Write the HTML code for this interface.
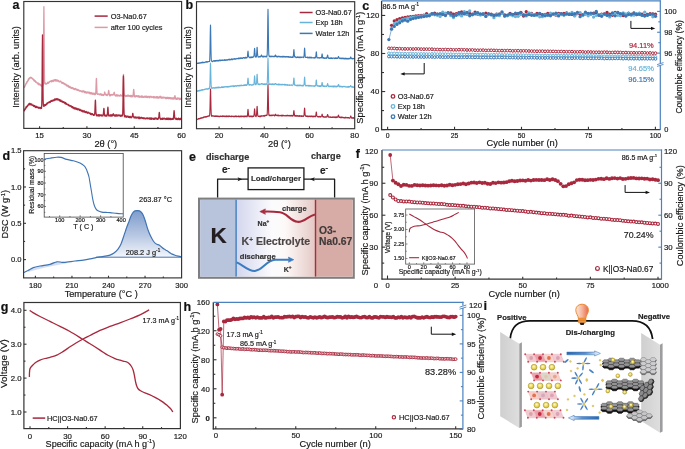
<!DOCTYPE html><html><head><meta charset="utf-8"><style>html,body{margin:0;padding:0;background:#fff;}svg{display:block;filter:blur(0.3px);}</style></head><body><svg width="685" height="449" viewBox="0 0 685 449" font-family='"Liberation Sans", sans-serif'>
<rect width="685" height="449" fill="#fff"/>
<path d="M24.10,87.50 L24.30,86.89 L24.50,87.28 L24.70,86.04 L24.90,86.35 L25.10,85.71 L25.30,84.85 L25.50,85.13 L25.70,84.02 L25.90,84.21 L26.10,83.26 L26.30,82.89 L26.50,82.99 L26.70,83.19 L26.90,81.75 L27.10,81.51 L27.30,81.74 L27.50,81.85 L27.70,80.94 L27.90,80.32 L28.10,80.86 L28.30,79.15 L28.50,80.07 L28.70,78.93 L28.90,78.45 L29.10,78.17 L29.30,78.24 L29.50,78.80 L29.70,77.68 L29.90,78.14 L30.10,78.11 L30.30,77.62 L30.50,77.83 L30.70,77.08 L30.90,77.08 L31.10,77.33 L31.30,78.10 L31.50,77.79 L31.70,77.72 L31.90,78.25 L32.10,78.18 L32.30,78.11 L32.50,79.01 L32.70,79.05 L32.90,78.55 L33.10,79.25 L33.30,79.38 L33.50,80.12 L33.70,80.11 L33.90,79.67 L34.10,80.93 L34.30,79.85 L34.50,80.52 L34.70,81.24 L34.90,80.53 L35.10,81.24 L35.30,80.75 L35.50,81.87 L35.70,82.18 L35.90,82.04 L36.10,82.63 L36.30,81.93 L36.50,82.64 L36.70,82.63 L36.90,82.76 L37.10,82.72 L37.30,83.45 L37.50,83.76 L37.70,83.21 L37.90,83.65 L38.10,82.90 L38.30,84.01 L38.50,84.08 L38.70,84.75 L38.90,84.64 L39.10,83.98 L39.30,84.27 L39.50,84.83 L39.70,83.99 L39.90,84.78 L40.10,84.46 L40.30,84.50 L40.50,84.52 L40.70,85.69 L40.90,84.83 L41.10,85.09 L41.30,85.38 L41.50,86.17 L41.70,85.05 L41.90,85.64 L42.10,85.81 L42.30,86.29 L42.50,86.15 L42.70,86.15 L42.90,85.15 L43.10,84.72 L43.30,80.22 L43.50,62.99 L43.70,27.60 L43.90,6.70 L44.10,27.32 L44.30,62.54 L44.50,79.09 L44.70,83.31 L44.90,83.81 L45.10,83.75 L45.30,84.04 L45.50,84.11 L45.70,83.52 L45.90,83.04 L46.10,83.57 L46.30,83.40 L46.50,83.61 L46.70,84.09 L46.90,83.60 L47.10,83.25 L47.30,83.31 L47.50,83.31 L47.70,82.28 L47.90,83.46 L48.10,83.19 L48.30,83.24 L48.50,83.04 L48.70,82.35 L48.90,82.28 L49.10,81.75 L49.30,82.47 L49.50,81.53 L49.70,81.46 L49.90,81.60 L50.10,81.46 L50.30,81.65 L50.50,81.14 L50.70,80.98 L50.90,81.13 L51.10,80.97 L51.30,81.28 L51.50,80.69 L51.70,81.88 L51.90,81.41 L52.10,80.63 L52.30,80.71 L52.50,80.77 L52.70,80.72 L52.90,80.28 L53.10,81.30 L53.30,81.45 L53.50,80.59 L53.70,80.56 L53.90,79.90 L54.10,79.88 L54.30,80.19 L54.50,80.04 L54.70,80.85 L54.90,79.82 L55.10,79.59 L55.30,80.97 L55.50,80.33 L55.70,79.76 L55.90,80.36 L56.10,79.61 L56.30,80.38 L56.50,81.09 L56.70,80.95 L56.90,80.74 L57.10,80.13 L57.30,80.34 L57.50,80.09 L57.70,81.05 L57.90,80.76 L58.10,81.19 L58.30,80.58 L58.50,80.50 L58.70,81.45 L58.90,81.79 L59.10,81.67 L59.30,81.69 L59.50,81.79 L59.70,81.76 L59.90,81.08 L60.10,81.61 L60.30,81.46 L60.50,81.06 L60.70,81.16 L60.90,81.63 L61.10,81.70 L61.30,82.45 L61.50,82.94 L61.70,82.28 L61.90,83.11 L62.10,83.29 L62.30,83.34 L62.50,82.55 L62.70,82.44 L62.90,82.54 L63.10,82.59 L63.30,82.70 L63.50,83.44 L63.70,83.95 L63.90,83.97 L64.10,83.54 L64.30,83.91 L64.50,84.25 L64.70,83.29 L64.90,84.27 L65.10,84.76 L65.30,84.69 L65.50,84.76 L65.70,84.48 L65.90,84.15 L66.10,85.19 L66.30,84.63 L66.50,85.46 L66.70,85.84 L66.90,85.10 L67.10,85.23 L67.30,86.18 L67.50,85.97 L67.70,85.26 L67.90,85.32 L68.10,85.48 L68.30,86.73 L68.50,86.70 L68.70,85.83 L68.90,86.97 L69.10,87.32 L69.30,86.95 L69.50,86.60 L69.70,87.01 L69.90,86.49 L70.10,86.42 L70.30,87.95 L70.50,87.57 L70.70,87.48 L70.90,88.19 L71.10,87.53 L71.30,88.27 L71.50,88.29 L71.70,87.45 L71.90,87.59 L72.10,87.73 L72.30,87.73 L72.50,88.33 L72.70,87.91 L72.90,88.23 L73.10,87.87 L73.30,89.12 L73.50,88.36 L73.70,88.59 L73.90,88.85 L74.10,89.40 L74.30,88.75 L74.50,89.56 L74.70,89.01 L74.90,89.12 L75.10,89.18 L75.30,88.49 L75.50,89.19 L75.70,88.87 L75.90,88.67 L76.10,89.92 L76.30,89.05 L76.50,89.56 L76.70,90.00 L76.90,89.82 L77.10,89.53 L77.30,89.88 L77.50,90.00 L77.70,90.40 L77.90,89.45 L78.10,90.19 L78.30,89.78 L78.50,89.88 L78.70,90.68 L78.90,90.35 L79.10,90.49 L79.30,90.84 L79.50,91.13 L79.70,90.48 L79.90,90.79 L80.10,90.69 L80.30,90.75 L80.50,91.08 L80.70,90.77 L80.90,90.95 L81.10,90.92 L81.30,91.67 L81.50,91.36 L81.70,91.68 L81.90,91.84 L82.10,90.87 L82.30,91.37 L82.50,92.00 L82.70,91.90 L82.90,90.90 L83.10,90.93 L83.30,91.46 L83.50,90.96 L83.70,91.27 L83.90,91.07 L84.10,92.02 L84.30,92.24 L84.50,92.46 L84.70,91.40 L84.90,92.30 L85.10,92.27 L85.30,91.54 L85.50,92.70 L85.70,92.88 L85.90,91.81 L86.10,92.96 L86.30,92.18 L86.50,92.36 L86.70,93.16 L86.90,92.97 L87.10,92.01 L87.30,92.46 L87.50,92.63 L87.70,92.41 L87.90,92.24 L88.10,92.47 L88.30,93.11 L88.50,92.10 L88.70,92.94 L88.90,92.82 L89.10,92.22 L89.30,92.73 L89.50,93.21 L89.70,93.08 L89.90,92.45 L90.10,93.87 L90.30,93.61 L90.50,93.93 L90.70,92.66 L90.90,92.94 L91.10,92.64 L91.30,93.79 L91.50,93.06 L91.70,92.88 L91.90,93.36 L92.10,94.13 L92.30,94.03 L92.50,93.22 L92.70,93.09 L92.90,94.28 L93.10,93.79 L93.30,94.02 L93.50,93.14 L93.70,93.13 L93.90,94.11 L94.10,93.75 L94.30,93.25 L94.50,94.59 L94.70,94.17 L94.90,94.45 L95.10,93.41 L95.30,94.59 L95.50,93.29 L95.70,93.69 L95.90,90.26 L96.10,84.44 L96.30,79.26 L96.40,78.40 L96.50,79.29 L96.70,84.77 L96.90,90.55 L97.10,93.99 L97.30,93.85 L97.50,93.81 L97.70,94.44 L97.90,94.03 L98.10,93.86 L98.30,93.96 L98.50,93.81 L98.70,94.06 L98.90,94.24 L99.10,94.24 L99.30,94.94 L99.50,94.25 L99.70,94.58 L99.90,94.11 L100.10,94.38 L100.30,93.90 L100.50,94.26 L100.70,93.91 L100.90,95.00 L101.10,94.74 L101.30,94.21 L101.50,94.65 L101.70,95.35 L101.90,94.12 L102.10,95.20 L102.30,94.63 L102.50,94.73 L102.70,95.25 L102.90,94.60 L103.10,94.78 L103.30,95.06 L103.50,95.51 L103.70,94.56 L103.90,95.23 L104.10,94.76 L104.30,93.88 L104.50,92.57 L104.70,92.00 L104.90,92.59 L105.10,93.58 L105.30,94.28 L105.50,94.14 L105.70,94.33 L105.90,94.26 L106.10,95.28 L106.30,94.56 L106.50,94.43 L106.70,94.32 L106.90,95.46 L107.10,95.51 L107.30,95.22 L107.50,94.65 L107.70,94.58 L107.90,94.56 L108.10,94.34 L108.30,92.63 L108.50,91.33 L108.70,90.40 L108.90,91.35 L109.10,93.09 L109.30,94.10 L109.50,95.63 L109.70,95.76 L109.90,95.15 L110.10,94.70 L110.30,95.79 L110.50,94.82 L110.70,94.89 L110.90,94.37 L111.10,94.95 L111.30,95.10 L111.50,95.15 L111.70,94.70 L111.90,95.16 L112.10,94.42 L112.30,94.82 L112.50,94.57 L112.70,95.04 L112.90,94.51 L113.10,94.49 L113.30,94.89 L113.50,94.64 L113.70,94.64 L113.90,93.47 L114.10,92.46 L114.20,92.30 L114.30,92.47 L114.50,93.49 L114.70,94.60 L114.90,95.47 L115.10,95.49 L115.30,95.61 L115.50,95.87 L115.70,95.14 L115.90,95.06 L116.10,96.05 L116.30,94.81 L116.50,95.68 L116.70,95.57 L116.90,94.68 L117.10,95.87 L117.30,95.97 L117.50,95.58 L117.70,95.75 L117.90,95.87 L118.10,94.87 L118.30,95.46 L118.50,95.44 L118.70,95.94 L118.90,95.91 L119.10,95.95 L119.30,95.59 L119.50,96.07 L119.70,95.76 L119.90,95.79 L120.10,95.10 L120.30,94.81 L120.50,94.97 L120.70,95.32 L120.90,94.95 L121.10,96.06 L121.30,95.65 L121.50,95.76 L121.70,95.77 L121.90,95.86 L122.10,95.58 L122.30,94.86 L122.50,96.03 L122.70,95.61 L122.90,93.40 L123.10,87.88 L123.30,79.09 L123.50,74.40 L123.70,79.11 L123.90,88.10 L124.10,92.81 L124.30,95.67 L124.50,95.31 L124.70,95.09 L124.90,95.39 L125.10,96.09 L125.30,95.32 L125.50,96.13 L125.70,96.49 L125.90,95.78 L126.10,95.62 L126.30,95.78 L126.50,96.09 L126.70,96.23 L126.90,96.01 L127.10,96.06 L127.30,95.22 L127.50,95.34 L127.70,95.51 L127.90,96.25 L128.10,95.60 L128.30,96.01 L128.50,95.19 L128.70,95.27 L128.90,95.59 L129.10,96.21 L129.30,96.25 L129.50,96.23 L129.70,95.66 L129.90,96.01 L130.10,95.95 L130.30,95.96 L130.50,95.45 L130.70,96.62 L130.90,95.59 L131.10,96.77 L131.30,96.71 L131.50,95.35 L131.70,96.02 L131.90,96.57 L132.10,96.80 L132.30,96.03 L132.50,95.77 L132.70,95.67 L132.90,96.63 L133.10,94.82 L133.30,93.51 L133.50,90.69 L133.70,89.30 L133.90,90.71 L134.10,92.89 L134.30,95.35 L134.50,96.72 L134.70,95.66 L134.90,96.72 L135.10,96.27 L135.30,96.84 L135.50,96.58 L135.70,95.88 L135.90,96.89 L136.10,96.28 L136.30,95.60 L136.50,95.58 L136.70,96.32 L136.90,96.27 L137.10,96.06 L137.30,95.83 L137.50,96.14 L137.70,96.11 L137.90,96.90 L138.10,95.66 L138.30,96.79 L138.50,96.93 L138.70,95.86 L138.90,97.08 L139.10,96.77 L139.30,97.07 L139.50,96.16 L139.70,96.29 L139.90,96.33 L140.10,97.25 L140.30,96.65 L140.50,96.32 L140.70,96.43 L140.90,96.21 L141.10,95.88 L141.30,95.97 L141.50,97.08 L141.70,96.26 L141.90,97.25 L142.10,96.23 L142.30,96.26 L142.50,96.64 L142.70,96.17 L142.90,96.45 L143.10,97.34 L143.30,97.24 L143.50,97.14 L143.70,96.88 L143.90,97.31 L144.10,97.36 L144.30,96.78 L144.50,97.05 L144.70,96.05 L144.90,97.08 L145.10,96.67 L145.30,97.13 L145.50,96.98 L145.70,96.45 L145.90,96.11 L146.10,97.43 L146.30,96.24 L146.50,96.77 L146.70,96.59 L146.90,96.53 L147.10,97.20 L147.30,97.56 L147.50,96.50 L147.70,97.10 L147.90,96.58 L148.10,96.97 L148.30,96.74 L148.50,96.41 L148.70,96.41 L148.90,96.48 L149.10,97.54 L149.30,96.94 L149.50,96.53 L149.70,97.57 L149.90,97.71 L150.10,96.90 L150.30,96.45 L150.50,96.54 L150.70,96.39 L150.90,96.78 L151.10,96.41 L151.30,96.65 L151.50,96.68 L151.70,97.16 L151.90,97.65 L152.10,97.45 L152.30,96.95 L152.50,96.97 L152.70,97.14 L152.90,96.93 L153.10,96.88 L153.30,96.48 L153.50,96.81 L153.70,97.86 L153.90,96.60 L154.10,97.18 L154.30,97.38 L154.50,97.74 L154.70,96.78 L154.90,96.87 L155.10,96.85 L155.30,97.09 L155.50,97.17 L155.70,97.94 L155.90,97.79 L156.10,97.84 L156.30,96.57 L156.50,96.60 L156.70,97.63 L156.90,97.92 L157.10,97.29 L157.30,97.48 L157.50,96.61 L157.70,97.20 L157.90,98.02 L158.10,97.88 L158.30,97.93 L158.50,98.12 L158.70,97.05 L158.90,96.85 L159.10,96.93 L159.30,97.48 L159.50,97.66 L159.70,97.83 L159.90,96.71 L160.10,96.27 L160.20,96.20 L160.30,96.28 L160.50,97.08 L160.70,97.45 L160.90,97.87 L161.10,97.49 L161.30,97.66 L161.50,96.90 L161.70,98.03 L161.90,97.22 L162.10,98.26 L162.30,97.86 L162.50,97.36 L162.70,97.11 L162.90,97.31 L163.10,97.90 L163.30,98.00 L163.50,97.14 L163.70,97.09 L163.90,97.78 L164.10,97.88 L164.30,97.60 L164.50,97.37 L164.70,97.95 L164.90,97.08 L165.10,97.53 L165.30,97.78 L165.50,98.54 L165.70,98.08 L165.90,98.46 L166.10,97.86 L166.30,97.51 L166.50,97.54 L166.70,98.63 L166.90,98.26 L167.10,97.67 L167.30,97.26 L167.50,97.99 L167.70,98.27 L167.90,97.90 L168.10,97.67 L168.30,98.30 L168.50,98.70 L168.70,97.67 L168.90,97.39 L169.10,97.86 L169.30,98.00 L169.50,98.41 L169.70,97.69 L169.90,98.61 L170.10,98.53 L170.30,98.20 L170.50,97.76 L170.70,98.92 L170.90,97.95 L171.10,98.73 L171.30,97.86 L171.50,97.86 L171.70,98.68 L171.90,98.00 L172.10,99.00 L172.30,98.33 L172.50,97.88 L172.70,97.95 L172.90,98.25 L173.10,98.64 L173.30,99.08 L173.50,97.89 L173.70,98.27 L173.90,98.01 L174.10,99.10 L174.30,97.56 L174.50,96.64 L174.70,96.18 L174.90,95.60 L175.10,96.21 L175.30,96.71 L175.50,98.03 L175.70,99.10 L175.90,99.16 L176.10,98.96 L176.30,99.37 L176.50,99.28 L176.70,98.40 L176.90,98.19 L177.10,99.33 L177.30,99.06 L177.50,98.01 L177.70,98.97 L177.90,98.56 L178.10,98.56 L178.30,98.51 L178.50,98.29 L178.70,98.05 L178.90,98.48 L179.10,98.60 L179.30,99.52 L179.50,98.29 L179.70,99.56 L179.90,98.44 L180.10,98.68 L180.30,99.39 L180.50,99.41 L180.70,98.84 L180.90,98.28 L181.10,98.93" fill="none" stroke="#dc9aa6" stroke-width="1.3" stroke-linejoin="round" />
<path d="M24.10,110.26 L24.30,110.83 L24.50,109.47 L24.70,109.45 L24.90,109.97 L25.10,108.39 L25.30,108.67 L25.50,108.98 L25.70,108.61 L25.90,107.23 L26.10,106.93 L26.30,106.68 L26.50,107.68 L26.70,106.40 L26.90,106.86 L27.10,106.82 L27.30,105.72 L27.50,105.37 L27.70,106.16 L27.90,105.42 L28.10,104.68 L28.30,105.17 L28.50,104.39 L28.70,104.17 L28.90,103.62 L29.10,104.62 L29.30,104.77 L29.50,104.27 L29.70,104.68 L29.90,103.27 L30.10,103.58 L30.30,103.95 L30.50,104.70 L30.70,104.74 L30.90,103.95 L31.10,103.83 L31.30,104.18 L31.50,104.38 L31.70,105.14 L31.90,104.14 L32.10,105.19 L32.30,105.23 L32.50,105.49 L32.70,105.55 L32.90,105.45 L33.10,105.17 L33.30,105.29 L33.50,105.49 L33.70,106.26 L33.90,105.33 L34.10,105.63 L34.30,106.57 L34.50,105.92 L34.70,105.73 L34.90,105.77 L35.10,106.61 L35.30,106.34 L35.50,107.39 L35.70,107.31 L35.90,107.54 L36.10,106.52 L36.30,106.32 L36.50,106.41 L36.70,107.08 L36.90,107.46 L37.10,107.13 L37.30,106.88 L37.50,107.22 L37.70,107.58 L37.90,107.72 L38.10,107.89 L38.30,108.09 L38.50,107.87 L38.70,107.10 L38.90,108.23 L39.10,107.45 L39.30,107.89 L39.50,107.63 L39.70,108.21 L39.90,107.42 L40.10,107.51 L40.30,107.52 L40.50,107.39 L40.70,108.49 L40.90,108.02 L41.10,107.63 L41.30,107.67 L41.50,108.34 L41.70,106.30 L41.90,99.45 L42.10,81.22 L42.30,50.94 L42.50,34.80 L42.70,50.55 L42.90,80.21 L43.10,99.45 L43.30,104.23 L43.50,105.82 L43.70,106.34 L43.90,106.25 L44.10,106.23 L44.30,104.78 L44.50,105.03 L44.70,104.64 L44.90,104.61 L45.10,105.66 L45.30,104.94 L45.50,105.33 L45.70,104.36 L45.90,104.97 L46.10,104.22 L46.30,103.81 L46.50,104.46 L46.70,104.58 L46.90,103.19 L47.10,103.80 L47.30,103.72 L47.50,102.99 L47.70,103.09 L47.90,102.63 L48.10,102.61 L48.30,102.57 L48.50,102.97 L48.70,102.93 L48.90,102.14 L49.10,101.74 L49.30,102.11 L49.50,102.53 L49.70,101.68 L49.90,101.77 L50.10,101.50 L50.30,102.29 L50.50,101.81 L50.70,100.98 L50.90,100.92 L51.10,101.25 L51.30,101.37 L51.50,101.40 L51.70,100.46 L51.90,100.46 L52.10,101.15 L52.30,100.61 L52.50,100.31 L52.70,100.24 L52.90,101.10 L53.10,100.04 L53.30,100.32 L53.50,99.91 L53.70,99.90 L53.90,100.49 L54.10,100.60 L54.30,99.57 L54.50,99.25 L54.70,99.97 L54.90,99.12 L55.10,98.77 L55.30,100.06 L55.50,99.30 L55.70,99.85 L55.90,99.20 L56.10,99.89 L56.30,99.25 L56.50,98.79 L56.70,98.57 L56.90,99.39 L57.10,99.54 L57.30,99.97 L57.50,98.77 L57.70,99.61 L57.90,99.28 L58.10,99.54 L58.30,99.06 L58.50,99.33 L58.70,99.76 L58.90,100.44 L59.10,99.29 L59.30,99.95 L59.50,100.51 L59.70,100.85 L59.90,99.79 L60.10,99.78 L60.30,101.11 L60.50,101.26 L60.70,100.63 L60.90,100.10 L61.10,101.52 L61.30,100.82 L61.50,101.71 L61.70,101.40 L61.90,101.82 L62.10,100.94 L62.30,101.99 L62.50,101.26 L62.70,101.65 L62.90,102.43 L63.10,102.51 L63.30,101.65 L63.50,101.82 L63.70,102.19 L63.90,102.48 L64.10,102.38 L64.30,102.09 L64.50,102.38 L64.70,103.21 L64.90,103.58 L65.10,102.40 L65.30,103.30 L65.50,103.71 L65.70,102.75 L65.90,104.06 L66.10,103.10 L66.30,103.95 L66.50,103.99 L66.70,104.23 L66.90,103.87 L67.10,104.17 L67.30,104.53 L67.50,104.42 L67.70,104.89 L67.90,104.70 L68.10,104.81 L68.30,104.31 L68.50,105.32 L68.70,105.25 L68.90,104.99 L69.10,105.90 L69.30,106.04 L69.50,105.68 L69.70,105.37 L69.90,105.93 L70.10,105.49 L70.30,105.63 L70.50,106.19 L70.70,105.79 L70.90,106.42 L71.10,106.62 L71.30,106.02 L71.50,107.00 L71.70,106.27 L71.90,107.33 L72.10,107.49 L72.30,107.18 L72.50,106.58 L72.70,107.34 L72.90,107.24 L73.10,108.18 L73.30,107.04 L73.50,108.20 L73.70,108.49 L73.90,108.17 L74.10,108.38 L74.30,107.52 L74.50,108.78 L74.70,108.12 L74.90,108.89 L75.10,108.91 L75.30,107.85 L75.50,108.86 L75.70,109.15 L75.90,107.92 L76.10,108.42 L76.30,109.10 L76.50,108.27 L76.70,109.45 L76.90,108.59 L77.10,109.47 L77.30,108.53 L77.50,109.13 L77.70,109.83 L77.90,108.83 L78.10,108.98 L78.30,109.41 L78.50,109.20 L78.70,108.85 L78.90,109.14 L79.10,109.17 L79.30,110.41 L79.50,110.09 L79.70,110.49 L79.90,109.47 L80.10,110.46 L80.30,109.53 L80.50,110.23 L80.70,110.46 L80.90,110.11 L81.10,110.95 L81.30,110.55 L81.50,110.66 L81.70,111.19 L81.90,110.09 L82.10,111.50 L82.30,111.02 L82.50,110.74 L82.70,111.42 L82.90,110.69 L83.10,111.86 L83.30,111.31 L83.50,111.05 L83.70,111.73 L83.90,111.32 L84.10,111.00 L84.30,111.92 L84.50,110.95 L84.70,112.18 L84.90,111.40 L85.10,112.05 L85.30,112.64 L85.50,112.11 L85.70,112.30 L85.90,111.85 L86.10,111.45 L86.30,111.57 L86.50,111.82 L86.70,112.59 L86.90,112.38 L87.10,112.57 L87.30,113.22 L87.50,112.14 L87.70,112.36 L87.90,113.06 L88.10,112.19 L88.30,112.23 L88.50,112.83 L88.70,112.52 L88.90,112.97 L89.10,112.83 L89.30,113.44 L89.50,113.52 L89.70,113.01 L89.90,113.70 L90.10,113.55 L90.30,113.10 L90.50,114.37 L90.70,113.40 L90.90,113.32 L91.10,113.31 L91.30,114.18 L91.50,114.60 L91.70,114.53 L91.90,114.02 L92.10,113.88 L92.30,113.56 L92.50,114.57 L92.70,114.51 L92.90,114.25 L93.10,114.76 L93.30,114.52 L93.50,115.31 L93.70,115.07 L93.90,114.39 L94.10,115.43 L94.30,114.17 L94.50,114.81 L94.70,113.89 L94.90,111.00 L95.10,105.44 L95.30,101.00 L95.40,100.20 L95.50,101.04 L95.70,106.21 L95.90,111.99 L96.10,113.56 L96.30,115.17 L96.50,115.91 L96.70,114.75 L96.90,114.86 L97.10,115.50 L97.30,115.36 L97.50,115.58 L97.70,115.85 L97.90,114.91 L98.10,115.12 L98.30,115.12 L98.50,114.75 L98.70,116.02 L98.90,115.87 L99.10,115.77 L99.30,114.72 L99.50,115.98 L99.70,115.84 L99.90,115.42 L100.10,115.85 L100.30,115.42 L100.50,115.08 L100.70,114.90 L100.90,115.10 L101.10,114.81 L101.30,115.26 L101.50,115.88 L101.70,115.80 L101.90,116.03 L102.10,115.83 L102.30,115.16 L102.50,115.60 L102.70,115.42 L102.90,115.93 L103.10,115.36 L103.30,114.24 L103.50,112.86 L103.70,109.84 L103.90,108.40 L104.10,109.84 L104.30,113.34 L104.50,114.17 L104.70,115.90 L104.90,114.76 L105.10,115.15 L105.30,115.11 L105.50,115.88 L105.70,116.17 L105.90,115.88 L106.10,115.25 L106.30,116.07 L106.50,115.25 L106.70,115.11 L106.90,116.08 L107.10,115.47 L107.30,114.70 L107.50,112.36 L107.70,108.80 L107.90,107.10 L108.10,108.80 L108.30,112.82 L108.50,114.36 L108.70,115.78 L108.90,115.76 L109.10,116.03 L109.30,115.40 L109.50,115.83 L109.70,115.60 L109.90,115.21 L110.10,115.07 L110.30,115.69 L110.50,114.87 L110.70,116.12 L110.90,114.97 L111.10,114.79 L111.30,114.91 L111.50,116.15 L111.70,115.27 L111.90,114.96 L112.10,114.79 L112.30,114.80 L112.50,115.74 L112.70,115.47 L112.90,115.10 L113.10,114.14 L113.30,113.80 L113.50,114.14 L113.70,115.15 L113.90,114.61 L114.10,115.57 L114.30,115.26 L114.50,115.95 L114.70,115.95 L114.90,116.06 L115.10,114.82 L115.30,116.02 L115.50,116.09 L115.70,116.13 L115.90,114.88 L116.10,115.02 L116.30,114.88 L116.50,114.77 L116.70,115.99 L116.90,115.94 L117.10,115.68 L117.30,115.97 L117.50,115.68 L117.70,115.17 L117.90,114.89 L118.10,114.90 L118.30,115.89 L118.50,115.07 L118.70,115.25 L118.90,115.42 L119.10,114.82 L119.30,115.19 L119.50,115.24 L119.70,115.90 L119.90,115.39 L120.10,115.34 L120.30,116.32 L120.50,115.65 L120.70,116.19 L120.90,115.86 L121.10,115.00 L121.30,115.59 L121.50,115.65 L121.70,116.18 L121.90,115.57 L122.10,116.13 L122.30,115.89 L122.50,115.20 L122.70,114.58 L122.90,106.94 L123.10,93.65 L123.30,78.41 L123.40,76.00 L123.50,78.44 L123.70,93.26 L123.90,107.21 L124.10,113.50 L124.30,115.46 L124.50,116.56 L124.70,116.94 L124.90,115.51 L125.10,116.28 L125.30,116.31 L125.50,116.80 L125.70,115.92 L125.90,116.42 L126.10,116.23 L126.30,116.99 L126.50,116.16 L126.70,117.22 L126.90,116.26 L127.10,116.19 L127.30,116.95 L127.50,116.68 L127.70,116.13 L127.90,116.94 L128.10,116.14 L128.30,117.23 L128.50,117.12 L128.70,117.28 L128.90,117.07 L129.10,116.68 L129.30,116.78 L129.50,116.79 L129.70,117.56 L129.90,116.37 L130.10,117.59 L130.30,116.32 L130.50,116.61 L130.70,116.71 L130.90,117.69 L131.10,117.11 L131.30,116.94 L131.50,117.72 L131.70,116.76 L131.90,117.08 L132.10,117.01 L132.30,116.66 L132.50,115.30 L132.70,113.60 L132.80,113.40 L132.90,113.62 L133.10,114.97 L133.30,116.60 L133.50,116.86 L133.70,117.05 L133.90,116.85 L134.10,117.90 L134.30,117.65 L134.50,117.79 L134.70,116.95 L134.90,117.37 L135.10,117.89 L135.30,117.62 L135.50,116.95 L135.70,117.48 L135.90,118.13 L136.10,117.18 L136.30,117.12 L136.50,117.31 L136.70,117.93 L136.90,118.15 L137.10,117.14 L137.30,117.16 L137.50,117.31 L137.70,117.45 L137.90,117.76 L138.10,117.23 L138.30,117.50 L138.50,117.31 L138.70,118.50 L138.90,118.15 L139.10,117.23 L139.30,118.53 L139.50,117.26 L139.70,117.70 L139.90,118.61 L140.10,118.34 L140.30,118.27 L140.50,117.84 L140.70,117.49 L140.90,118.17 L141.10,117.39 L141.30,117.55 L141.50,117.84 L141.70,117.32 L141.90,117.89 L142.10,118.49 L142.30,118.36 L142.50,118.08 L142.70,118.29 L142.90,118.05 L143.10,117.59 L143.30,118.29 L143.50,118.01 L143.70,118.53 L143.90,118.79 L144.10,118.09 L144.30,118.31 L144.50,118.59 L144.70,118.11 L144.90,117.83 L145.10,118.59 L145.30,118.84 L145.50,118.69 L145.70,118.59 L145.90,118.83 L146.10,118.58 L146.30,118.54 L146.50,118.27 L146.70,118.07 L146.90,118.55 L147.10,117.76 L147.30,118.26 L147.50,118.81 L147.70,118.72 L147.90,118.60 L148.10,118.04 L148.30,118.31 L148.50,118.37 L148.70,118.63 L148.90,118.32 L149.10,118.73 L149.30,119.12 L149.50,118.00 L149.70,118.72 L149.90,118.91 L150.10,118.34 L150.30,118.50 L150.50,119.23 L150.70,117.83 L150.90,118.60 L151.10,118.03 L151.30,118.97 L151.50,119.22 L151.70,118.59 L151.90,117.97 L152.10,118.69 L152.30,118.64 L152.50,118.91 L152.70,118.61 L152.90,118.81 L153.10,119.10 L153.30,118.65 L153.50,118.48 L153.70,119.30 L153.90,118.20 L154.10,118.91 L154.30,118.48 L154.50,119.04 L154.70,118.09 L154.90,119.38 L155.10,118.45 L155.30,118.00 L155.50,118.33 L155.70,118.53 L155.90,117.95 L156.10,118.57 L156.30,118.57 L156.50,118.99 L156.70,118.48 L156.90,118.35 L157.10,118.30 L157.30,119.08 L157.50,119.38 L157.70,118.76 L157.90,118.31 L158.10,119.18 L158.30,118.55 L158.50,118.14 L158.70,117.35 L158.90,116.56 L159.10,113.61 L159.30,112.30 L159.50,113.61 L159.70,116.62 L159.90,118.13 L160.10,118.55 L160.30,118.84 L160.50,118.36 L160.70,119.47 L160.90,118.56 L161.10,118.99 L161.30,119.26 L161.50,119.26 L161.70,118.74 L161.90,118.49 L162.10,118.87 L162.30,118.24 L162.50,119.30 L162.70,118.59 L162.90,119.33 L163.10,118.46 L163.30,118.63 L163.50,118.45 L163.70,118.71 L163.90,118.35 L164.10,118.08 L164.30,119.16 L164.50,118.50 L164.70,118.45 L164.90,118.53 L165.10,118.80 L165.30,118.73 L165.50,119.04 L165.70,119.08 L165.90,118.64 L166.10,119.49 L166.30,119.38 L166.50,118.18 L166.70,119.34 L166.90,119.46 L167.10,119.28 L167.30,118.32 L167.50,119.35 L167.70,119.06 L167.90,118.13 L168.10,118.13 L168.30,119.54 L168.50,119.10 L168.70,118.49 L168.90,118.27 L169.10,118.33 L169.30,118.47 L169.50,119.29 L169.70,118.65 L169.90,118.36 L170.10,119.49 L170.30,119.32 L170.50,118.38 L170.70,119.47 L170.90,119.05 L171.10,119.31 L171.30,119.14 L171.50,119.48 L171.70,119.32 L171.90,119.40 L172.10,118.44 L172.30,119.19 L172.50,118.95 L172.70,119.26 L172.90,118.81 L173.10,119.45 L173.30,118.77 L173.50,117.49 L173.70,115.19 L173.90,112.36 L174.10,110.70 L174.30,112.37 L174.50,115.06 L174.70,117.84 L174.90,118.04 L175.10,118.84 L175.30,118.39 L175.50,118.91 L175.70,118.92 L175.90,118.99 L176.10,119.48 L176.30,118.19 L176.50,119.45 L176.70,118.89 L176.90,119.03 L177.10,119.19 L177.30,119.45 L177.50,118.76 L177.70,118.83 L177.90,119.64 L178.10,118.32 L178.30,119.16 L178.50,119.16 L178.70,118.25 L178.90,119.13 L179.10,119.24 L179.30,119.61 L179.50,118.72 L179.70,119.69 L179.90,118.99 L180.10,118.95 L180.30,119.58 L180.50,118.28 L180.70,119.31 L180.90,119.18 L181.10,118.75" fill="none" stroke="#a8283d" stroke-width="1.3" stroke-linejoin="round" />
<rect x="23.8" y="1.5" width="157.79999999999998" height="126.9" fill="none" stroke="#333" stroke-width="1.15"/>
<line x1="39.58" y1="128.40" x2="39.58" y2="126.20" stroke="#333" stroke-width="1.1" />
<line x1="86.92" y1="128.40" x2="86.92" y2="126.20" stroke="#333" stroke-width="1.1" />
<line x1="134.26" y1="128.40" x2="134.26" y2="126.20" stroke="#333" stroke-width="1.1" />
<line x1="63.25" y1="128.40" x2="63.25" y2="127.00" stroke="#333" stroke-width="1.1" />
<line x1="110.59" y1="128.40" x2="110.59" y2="127.00" stroke="#333" stroke-width="1.1" />
<line x1="157.93" y1="128.40" x2="157.93" y2="127.00" stroke="#333" stroke-width="1.1" />
<text x="39.58" y="138.20" font-size="7.8" text-anchor="middle" fill="#1a1a1a" stroke="#1a1a1a" stroke-width="0.18" >15</text>
<text x="86.92" y="138.20" font-size="7.8" text-anchor="middle" fill="#1a1a1a" stroke="#1a1a1a" stroke-width="0.18" >30</text>
<text x="134.26" y="138.20" font-size="7.8" text-anchor="middle" fill="#1a1a1a" stroke="#1a1a1a" stroke-width="0.18" >45</text>
<text x="181.60" y="138.20" font-size="7.8" text-anchor="middle" fill="#1a1a1a" stroke="#1a1a1a" stroke-width="0.18" >60</text>
<text x="105.80" y="146.60" font-size="9.3" text-anchor="middle" fill="#1a1a1a" stroke="#1a1a1a" stroke-width="0.18" >2θ (°)</text>
<text x="0" y="0" transform="translate(18.60,67.00) rotate(-90)" font-size="9.3" text-anchor="middle" fill="#1a1a1a" stroke="#1a1a1a" stroke-width="0.18">Intensity (arb. units)</text>
<text x="12.40" y="9.20" font-size="12.5" text-anchor="start" fill="#111" stroke="#111" stroke-width="0.18" font-weight="bold" >a</text>
<line x1="94.60" y1="16.10" x2="107.70" y2="16.10" stroke="#a8283d" stroke-width="1.5" />
<line x1="94.60" y1="27.40" x2="107.70" y2="27.40" stroke="#dc9aa6" stroke-width="1.5" />
<text x="110.70" y="18.70" font-size="7.4" text-anchor="start" fill="#1a1a1a" stroke="#1a1a1a" stroke-width="0.18" >O3-Na0.67</text>
<text x="110.70" y="30.00" font-size="7.4" text-anchor="start" fill="#1a1a1a" stroke="#1a1a1a" stroke-width="0.18" >after 100 cycles</text>
<path d="M196.80,63.70 L197.00,63.22 L197.20,63.29 L197.40,63.31 L197.60,63.50 L197.80,62.97 L198.00,63.14 L198.20,63.10 L198.40,63.19 L198.60,63.40 L198.80,62.89 L199.00,63.35 L199.20,62.93 L199.40,62.99 L199.60,62.76 L199.80,62.94 L200.00,63.33 L200.20,63.01 L200.40,63.10 L200.60,62.66 L200.80,62.62 L201.00,62.57 L201.20,62.80 L201.40,62.81 L201.60,62.92 L201.80,62.22 L202.00,62.80 L202.20,62.92 L202.40,62.58 L202.60,62.11 L202.80,62.30 L203.00,62.01 L203.20,62.14 L203.40,62.77 L203.60,62.46 L203.80,62.48 L204.00,62.57 L204.20,62.64 L204.40,62.35 L204.60,62.32 L204.80,62.30 L205.00,62.34 L205.20,62.22 L205.40,62.27 L205.60,61.82 L205.80,62.20 L206.00,61.98 L206.20,62.23 L206.40,61.60 L206.60,61.65 L206.80,61.49 L207.00,62.13 L207.20,62.23 L207.40,61.97 L207.60,61.68 L207.80,62.06 L208.00,62.01 L208.20,61.78 L208.40,61.48 L208.60,61.49 L208.80,61.57 L209.00,61.46 L209.20,61.52 L209.40,61.61 L209.60,61.27 L209.80,57.88 L210.00,50.96 L210.20,37.70 L210.40,26.77 L210.50,25.00 L210.60,26.74 L210.80,37.70 L211.00,51.06 L211.20,58.19 L211.40,61.05 L211.60,61.18 L211.80,60.85 L212.00,61.17 L212.20,61.33 L212.40,61.62 L212.60,61.64 L212.80,61.17 L213.00,61.09 L213.20,60.79 L213.40,61.25 L213.60,60.84 L213.80,60.77 L214.00,60.62 L214.20,60.59 L214.40,61.19 L214.60,60.66 L214.80,61.40 L215.00,60.59 L215.20,61.27 L215.40,60.58 L215.60,60.46 L215.80,61.08 L216.00,60.63 L216.20,61.05 L216.40,60.54 L216.60,60.39 L216.80,61.03 L217.00,60.95 L217.20,61.06 L217.40,60.93 L217.60,60.33 L217.80,60.80 L218.00,60.85 L218.20,60.61 L218.40,61.01 L218.60,60.38 L218.80,61.00 L219.00,60.76 L219.20,60.11 L219.40,60.09 L219.60,60.65 L219.80,60.78 L220.00,60.09 L220.20,60.28 L220.40,60.64 L220.60,60.12 L220.80,60.72 L221.00,60.37 L221.20,59.96 L221.40,60.22 L221.60,60.39 L221.80,60.25 L222.00,60.44 L222.20,59.95 L222.40,60.52 L222.60,60.11 L222.80,60.34 L223.00,60.31 L223.20,60.10 L223.40,60.05 L223.60,60.39 L223.80,60.52 L224.00,60.35 L224.20,60.14 L224.40,59.87 L224.60,59.64 L224.80,60.45 L225.00,60.18 L225.20,60.28 L225.40,59.81 L225.60,60.04 L225.80,60.35 L226.00,60.20 L226.20,59.98 L226.40,59.69 L226.60,59.78 L226.80,60.18 L227.00,59.70 L227.20,59.95 L227.40,59.86 L227.60,60.10 L227.80,60.00 L228.00,59.51 L228.20,59.24 L228.40,59.45 L228.60,59.58 L228.80,59.70 L229.00,59.89 L229.20,59.93 L229.40,59.15 L229.60,59.84 L229.80,59.80 L230.00,59.83 L230.20,59.54 L230.40,59.25 L230.60,59.75 L230.80,59.69 L231.00,59.56 L231.20,59.74 L231.40,59.21 L231.60,58.95 L231.80,59.35 L232.00,59.55 L232.20,58.98 L232.40,59.46 L232.60,59.60 L232.80,58.94 L233.00,59.26 L233.20,59.30 L233.40,59.08 L233.60,58.82 L233.80,58.84 L234.00,59.27 L234.20,59.28 L234.40,58.95 L234.60,58.59 L234.80,59.22 L235.00,59.16 L235.20,58.65 L235.40,58.94 L235.60,59.20 L235.80,59.16 L236.00,58.81 L236.20,58.75 L236.40,58.82 L236.60,58.44 L236.80,58.42 L237.00,58.38 L237.20,58.82 L237.40,58.49 L237.60,58.65 L237.80,58.48 L238.00,58.56 L238.20,58.20 L238.40,58.08 L238.60,58.92 L238.80,58.33 L239.00,58.07 L239.20,58.51 L239.40,58.63 L239.60,58.04 L239.80,58.41 L240.00,58.16 L240.20,58.29 L240.40,57.82 L240.60,57.81 L240.80,58.65 L241.00,58.51 L241.20,58.14 L241.40,58.19 L241.60,57.90 L241.80,58.34 L242.00,58.00 L242.20,58.45 L242.40,58.26 L242.60,58.29 L242.80,58.40 L243.00,57.74 L243.20,57.52 L243.40,57.65 L243.60,57.61 L243.80,57.50 L244.00,57.45 L244.20,57.88 L244.40,58.15 L244.60,57.76 L244.80,58.18 L245.00,58.12 L245.20,57.34 L245.40,57.81 L245.60,57.61 L245.80,57.34 L246.00,58.08 L246.20,57.43 L246.40,57.69 L246.60,57.74 L246.80,58.01 L247.00,57.71 L247.20,57.30 L247.40,56.66 L247.60,54.60 L247.80,52.34 L248.00,51.00 L248.20,52.30 L248.40,55.27 L248.60,57.06 L248.80,57.02 L249.00,56.99 L249.20,57.19 L249.40,57.26 L249.60,57.75 L249.80,57.73 L250.00,57.66 L250.20,56.93 L250.40,57.58 L250.60,57.50 L250.80,57.42 L251.00,57.72 L251.20,56.86 L251.40,56.93 L251.60,57.46 L251.80,57.62 L252.00,57.36 L252.20,57.01 L252.40,57.26 L252.60,57.40 L252.80,56.79 L253.00,56.98 L253.20,56.90 L253.40,56.77 L253.60,57.05 L253.80,56.55 L254.00,55.71 L254.20,53.25 L254.40,50.16 L254.60,48.40 L254.80,50.14 L255.00,53.68 L255.20,55.43 L255.40,56.94 L255.60,56.66 L255.80,56.53 L256.00,57.31 L256.20,56.58 L256.40,56.70 L256.60,54.89 L256.80,51.43 L257.00,47.74 L257.10,47.20 L257.20,47.73 L257.40,51.05 L257.60,54.18 L257.80,56.18 L258.00,56.36 L258.20,57.19 L258.40,57.11 L258.60,56.91 L258.80,56.74 L259.00,56.63 L259.20,57.05 L259.40,56.73 L259.60,56.86 L259.80,56.41 L260.00,56.47 L260.20,56.31 L260.40,56.89 L260.60,56.72 L260.80,56.26 L261.00,56.61 L261.20,55.46 L261.40,55.10 L261.50,55.00 L261.60,55.09 L261.80,55.57 L262.00,55.92 L262.20,56.32 L262.40,56.91 L262.60,56.46 L262.80,56.31 L263.00,56.59 L263.20,56.43 L263.40,56.95 L263.60,56.23 L263.80,57.01 L264.00,56.17 L264.20,56.92 L264.40,56.71 L264.60,56.29 L264.80,56.53 L265.00,56.35 L265.20,56.32 L265.40,56.27 L265.60,56.41 L265.80,56.97 L266.00,56.97 L266.20,56.90 L266.40,56.15 L266.60,56.32 L266.80,56.83 L267.00,55.77 L267.20,54.70 L267.40,48.32 L267.60,35.47 L267.80,17.68 L268.00,9.20 L268.20,17.68 L268.40,34.60 L268.60,48.78 L268.80,54.35 L269.00,55.83 L269.20,56.01 L269.40,56.79 L269.60,56.52 L269.80,56.21 L270.00,56.44 L270.20,56.87 L270.40,56.24 L270.60,56.56 L270.80,56.17 L271.00,56.21 L271.20,56.74 L271.40,56.69 L271.60,56.23 L271.80,56.13 L272.00,56.13 L272.20,56.60 L272.40,56.50 L272.60,56.31 L272.80,56.25 L273.00,56.62 L273.20,56.70 L273.40,56.80 L273.60,56.60 L273.80,56.26 L274.00,56.14 L274.20,56.74 L274.40,56.45 L274.60,56.72 L274.80,56.04 L275.00,56.45 L275.20,55.47 L275.40,55.08 L275.50,55.00 L275.60,55.09 L275.80,55.93 L276.00,56.51 L276.20,56.46 L276.40,56.12 L276.60,56.94 L276.80,56.55 L277.00,56.91 L277.20,56.37 L277.40,56.31 L277.60,56.89 L277.80,56.48 L278.00,56.30 L278.20,56.49 L278.40,56.70 L278.60,56.17 L278.80,56.64 L279.00,56.58 L279.20,56.65 L279.40,56.29 L279.60,56.83 L279.80,56.93 L280.00,56.98 L280.20,56.50 L280.40,56.85 L280.60,56.56 L280.80,56.90 L281.00,56.28 L281.20,57.02 L281.40,57.10 L281.60,56.69 L281.80,56.72 L282.00,56.74 L282.20,56.75 L282.40,56.29 L282.60,57.15 L282.80,56.48 L283.00,56.45 L283.20,56.39 L283.40,56.53 L283.60,57.04 L283.80,56.34 L284.00,56.41 L284.20,56.96 L284.40,56.51 L284.60,56.36 L284.80,56.89 L285.00,56.87 L285.20,56.83 L285.40,57.00 L285.60,56.47 L285.80,57.16 L286.00,57.03 L286.20,56.44 L286.40,56.51 L286.60,56.85 L286.80,56.87 L287.00,56.67 L287.20,56.54 L287.40,56.80 L287.60,56.57 L287.80,56.98 L288.00,57.23 L288.20,56.60 L288.40,56.99 L288.60,57.15 L288.80,56.63 L289.00,57.24 L289.20,57.34 L289.40,56.86 L289.60,56.89 L289.80,57.28 L290.00,57.00 L290.20,56.89 L290.40,57.39 L290.60,57.25 L290.80,56.86 L291.00,56.78 L291.20,56.87 L291.40,56.97 L291.60,57.47 L291.80,57.31 L292.00,57.42 L292.20,57.34 L292.40,57.37 L292.60,56.67 L292.80,57.08 L293.00,57.42 L293.20,57.01 L293.40,55.05 L293.60,52.59 L293.80,50.01 L293.90,49.60 L294.00,50.02 L294.20,52.54 L294.40,55.43 L294.60,56.55 L294.80,57.09 L295.00,56.75 L295.20,57.10 L295.40,57.17 L295.60,56.74 L295.80,56.85 L296.00,57.60 L296.20,57.44 L296.40,57.59 L296.60,57.32 L296.80,57.49 L297.00,57.56 L297.20,57.57 L297.40,56.81 L297.60,57.36 L297.80,57.03 L298.00,57.40 L298.20,57.05 L298.40,57.29 L298.60,57.64 L298.80,57.38 L299.00,57.05 L299.20,57.30 L299.40,57.22 L299.60,57.70 L299.80,57.10 L300.00,57.12 L300.20,57.44 L300.40,56.97 L300.60,57.40 L300.80,57.73 L301.00,57.34 L301.20,57.12 L301.40,57.31 L301.60,57.37 L301.80,57.03 L302.00,57.01 L302.20,57.03 L302.40,57.18 L302.60,57.29 L302.80,57.18 L303.00,57.15 L303.20,57.01 L303.40,57.43 L303.60,57.67 L303.80,57.25 L304.00,56.25 L304.20,53.74 L304.40,49.91 L304.60,48.00 L304.80,49.92 L305.00,53.36 L305.20,56.40 L305.40,57.16 L305.60,57.46 L305.80,57.55 L306.00,57.43 L306.20,57.30 L306.40,57.24 L306.60,57.23 L306.80,57.49 L307.00,57.38 L307.20,57.57 L307.40,57.06 L307.60,57.37 L307.80,57.83 L308.00,57.28 L308.20,57.57 L308.40,57.52 L308.60,57.34 L308.80,57.97 L309.00,57.36 L309.20,57.79 L309.40,57.24 L309.60,57.17 L309.80,57.90 L310.00,57.51 L310.20,57.18 L310.40,57.48 L310.60,57.53 L310.80,57.80 L311.00,57.24 L311.20,57.35 L311.40,58.02 L311.60,57.83 L311.80,57.31 L312.00,57.48 L312.20,57.50 L312.40,57.79 L312.60,57.74 L312.80,57.96 L313.00,57.94 L313.20,57.67 L313.40,57.88 L313.60,57.89 L313.80,57.91 L314.00,57.65 L314.20,57.94 L314.40,57.88 L314.60,58.07 L314.80,57.36 L315.00,58.04 L315.20,57.26 L315.40,57.89 L315.60,57.43 L315.80,56.28 L316.00,54.58 L316.20,52.12 L316.30,51.80 L316.40,52.13 L316.60,54.25 L316.80,56.24 L317.00,57.64 L317.20,58.04 L317.40,57.86 L317.60,57.67 L317.80,57.74 L318.00,57.75 L318.20,57.99 L318.40,57.61 L318.60,57.70 L318.80,57.86 L319.00,57.71 L319.20,57.66 L319.40,58.08 L319.60,58.14 L319.80,57.84 L320.00,57.79 L320.20,57.56 L320.40,57.68 L320.60,57.54 L320.80,57.93 L321.00,57.94 L321.20,57.46 L321.40,58.01 L321.60,56.76 L321.80,55.80 L322.00,54.12 L322.10,53.90 L322.20,54.12 L322.40,55.51 L322.60,57.25 L322.80,58.08 L323.00,57.62 L323.20,57.86 L323.40,58.30 L323.60,57.50 L323.80,57.54 L324.00,58.01 L324.20,57.95 L324.40,58.34 L324.60,58.21 L324.80,58.01 L325.00,58.43 L325.20,58.00 L325.40,58.01 L325.60,58.16 L325.80,57.90 L326.00,57.88 L326.20,58.10 L326.40,57.88 L326.60,58.42 L326.80,58.11 L327.00,57.66 L327.20,56.45 L327.40,55.61 L327.60,55.00 L327.80,55.62 L328.00,56.72 L328.20,57.58 L328.40,58.05 L328.60,58.13 L328.80,58.42 L329.00,58.51 L329.20,58.08 L329.40,58.05 L329.60,58.22 L329.80,58.56 L330.00,57.98 L330.20,58.15 L330.40,58.41 L330.60,57.84 L330.80,57.98 L331.00,58.58 L331.20,58.44 L331.40,58.17 L331.60,57.81 L331.80,58.52 L332.00,58.34 L332.20,58.47 L332.40,58.62 L332.60,58.54 L332.80,58.12 L333.00,57.89 L333.20,58.02 L333.40,58.22 L333.60,58.22 L333.80,57.94 L334.00,57.94 L334.20,58.35 L334.40,58.33 L334.60,58.11 L334.80,58.69 L335.00,58.38 L335.20,57.85 L335.40,58.19 L335.60,58.53 L335.80,58.10 L336.00,58.46 L336.20,57.84 L336.40,58.12 L336.60,58.61 L336.80,58.38 L337.00,58.46 L337.20,58.04 L337.40,58.32 L337.60,58.36 L337.80,58.01 L338.00,58.02 L338.20,57.26 L338.40,56.60 L338.50,56.50 L338.60,56.60 L338.80,57.70 L339.00,57.98 L339.20,58.18 L339.40,58.02 L339.60,58.07 L339.80,58.62 L340.00,58.04 L340.20,58.04 L340.40,58.11 L340.60,58.43 L340.80,58.71 L341.00,58.52 L341.20,58.70 L341.40,58.04 L341.60,58.00 L341.80,58.69 L342.00,58.29 L342.20,58.65 L342.40,58.33 L342.60,58.17 L342.80,58.26 L343.00,58.12 L343.20,58.85 L343.40,58.56 L343.60,58.36 L343.80,58.45 L344.00,58.40 L344.20,58.11 L344.40,58.87 L344.60,58.60 L344.80,58.94 L345.00,58.48 L345.20,58.65 L345.40,58.32 L345.60,58.14 L345.80,58.94 L346.00,58.88 L346.20,58.40 L346.40,58.93 L346.60,58.86 L346.80,58.41 L347.00,58.68 L347.20,59.01 L347.40,58.60 L347.60,59.01 L347.80,58.38 L348.00,58.52 L348.20,58.82 L348.40,58.38 L348.60,58.46 L348.80,58.98 L349.00,58.63 L349.20,58.91 L349.40,58.42 L349.60,58.36 L349.80,58.52 L350.00,58.28 L350.20,58.69 L350.40,57.48 L350.60,57.09 L350.70,57.00 L350.80,57.10 L351.00,57.74 L351.20,57.95 L351.40,58.63 L351.60,58.59 L351.80,58.63 L352.00,58.33 L352.20,58.39 L352.40,59.03 L352.60,58.61 L352.80,58.52 L353.00,58.48 L353.20,58.56 L353.40,58.53 L353.60,58.35 L353.80,58.92 L354.00,58.64 L354.20,58.48 L354.40,58.98" fill="none" stroke="#3b78b4" stroke-width="1.1" stroke-linejoin="round" />
<path d="M196.80,90.79 L197.00,90.91 L197.20,91.38 L197.40,90.70 L197.60,90.94 L197.80,91.25 L198.00,91.18 L198.20,90.56 L198.40,90.69 L198.60,90.98 L198.80,90.63 L199.00,91.11 L199.20,90.39 L199.40,91.01 L199.60,90.57 L199.80,90.27 L200.00,90.43 L200.20,90.10 L200.40,90.57 L200.60,90.13 L200.80,90.66 L201.00,90.33 L201.20,90.09 L201.40,89.94 L201.60,90.22 L201.80,89.82 L202.00,90.37 L202.20,89.65 L202.40,89.96 L202.60,89.94 L202.80,89.65 L203.00,90.06 L203.20,89.67 L203.40,89.87 L203.60,89.74 L203.80,89.47 L204.00,89.50 L204.20,89.18 L204.40,89.22 L204.60,89.79 L204.80,89.27 L205.00,89.53 L205.20,89.00 L205.40,89.36 L205.60,89.14 L205.80,89.23 L206.00,89.00 L206.20,88.76 L206.40,88.94 L206.60,88.82 L206.80,88.70 L207.00,89.19 L207.20,88.76 L207.40,88.83 L207.60,89.25 L207.80,89.10 L208.00,89.16 L208.20,89.11 L208.40,88.42 L208.60,88.51 L208.80,88.26 L209.00,88.81 L209.20,88.76 L209.40,88.39 L209.60,88.01 L209.80,86.41 L210.00,81.28 L210.20,71.94 L210.40,64.24 L210.50,63.00 L210.60,64.21 L210.80,72.40 L211.00,80.83 L211.20,86.19 L211.40,87.56 L211.60,87.87 L211.80,88.62 L212.00,88.44 L212.20,88.40 L212.40,87.77 L212.60,87.74 L212.80,87.83 L213.00,87.84 L213.20,87.91 L213.40,87.95 L213.60,87.62 L213.80,87.84 L214.00,88.12 L214.20,87.68 L214.40,88.25 L214.60,87.99 L214.80,88.10 L215.00,87.66 L215.20,87.80 L215.40,88.00 L215.60,87.68 L215.80,87.34 L216.00,88.07 L216.20,88.00 L216.40,87.54 L216.60,87.30 L216.80,88.01 L217.00,87.76 L217.20,87.24 L217.40,87.40 L217.60,87.26 L217.80,87.85 L218.00,87.31 L218.20,87.92 L218.40,87.75 L218.60,87.14 L218.80,87.67 L219.00,87.38 L219.20,87.68 L219.40,87.73 L219.60,87.22 L219.80,87.03 L220.00,87.78 L220.20,87.29 L220.40,87.73 L220.60,87.50 L220.80,87.52 L221.00,87.58 L221.20,87.39 L221.40,87.21 L221.60,86.83 L221.80,87.40 L222.00,87.13 L222.20,87.19 L222.40,87.55 L222.60,86.81 L222.80,87.36 L223.00,86.70 L223.20,87.28 L223.40,87.35 L223.60,86.85 L223.80,87.08 L224.00,87.45 L224.20,87.13 L224.40,87.03 L224.60,86.75 L224.80,86.56 L225.00,86.81 L225.20,86.84 L225.40,86.64 L225.60,86.72 L225.80,86.54 L226.00,87.04 L226.20,86.99 L226.40,86.58 L226.60,86.57 L226.80,86.80 L227.00,86.72 L227.20,87.14 L227.40,86.60 L227.60,86.53 L227.80,87.04 L228.00,86.36 L228.20,86.72 L228.40,86.49 L228.60,86.91 L228.80,86.65 L229.00,86.83 L229.20,86.28 L229.40,86.70 L229.60,86.63 L229.80,86.48 L230.00,86.74 L230.20,86.78 L230.40,86.12 L230.60,86.26 L230.80,86.30 L231.00,86.14 L231.20,85.99 L231.40,86.17 L231.60,86.08 L231.80,86.51 L232.00,86.27 L232.20,85.95 L232.40,86.12 L232.60,86.23 L232.80,86.12 L233.00,85.92 L233.20,85.82 L233.40,85.74 L233.60,86.61 L233.80,86.37 L234.00,85.76 L234.20,86.31 L234.40,86.52 L234.60,86.13 L234.80,85.70 L235.00,86.03 L235.20,85.96 L235.40,85.72 L235.60,86.02 L235.80,85.52 L236.00,86.32 L236.20,86.06 L236.40,86.02 L236.60,86.28 L236.80,86.01 L237.00,85.63 L237.20,85.61 L237.40,85.49 L237.60,85.38 L237.80,86.03 L238.00,86.07 L238.20,85.57 L238.40,85.45 L238.60,85.84 L238.80,86.01 L239.00,86.06 L239.20,85.36 L239.40,85.90 L239.60,85.92 L239.80,85.83 L240.00,85.44 L240.20,85.29 L240.40,85.85 L240.60,85.38 L240.80,85.41 L241.00,85.56 L241.20,85.37 L241.40,85.77 L241.60,85.23 L241.80,85.03 L242.00,85.49 L242.20,85.53 L242.40,85.68 L242.60,85.56 L242.80,85.73 L243.00,85.75 L243.20,85.33 L243.40,85.32 L243.60,84.99 L243.80,85.11 L244.00,85.35 L244.20,84.88 L244.40,85.41 L244.60,84.93 L244.80,85.16 L245.00,85.62 L245.20,84.82 L245.40,84.76 L245.60,85.10 L245.80,84.86 L246.00,85.33 L246.20,84.67 L246.40,85.41 L246.60,85.41 L246.80,85.33 L247.00,84.97 L247.20,84.67 L247.40,84.27 L247.60,82.21 L247.80,79.43 L248.00,78.00 L248.20,79.41 L248.40,82.08 L248.60,83.91 L248.80,84.71 L249.00,85.06 L249.20,85.22 L249.40,85.28 L249.60,84.60 L249.80,84.71 L250.00,84.83 L250.20,84.92 L250.40,84.72 L250.60,84.57 L250.80,84.46 L251.00,84.66 L251.20,84.77 L251.40,85.22 L251.60,85.15 L251.80,85.10 L252.00,85.18 L252.20,85.16 L252.40,84.84 L252.60,85.00 L252.80,84.31 L253.00,84.85 L253.20,84.78 L253.40,84.49 L253.60,84.69 L253.80,84.83 L254.00,83.49 L254.20,81.24 L254.40,77.68 L254.60,75.90 L254.80,77.65 L255.00,80.89 L255.20,83.30 L255.40,84.67 L255.60,84.09 L255.80,84.25 L256.00,84.68 L256.20,84.36 L256.40,83.49 L256.60,82.15 L256.80,78.20 L257.00,74.77 L257.10,74.20 L257.20,74.76 L257.40,78.29 L257.60,82.03 L257.80,83.72 L258.00,84.35 L258.20,84.46 L258.40,84.31 L258.60,84.05 L258.80,84.10 L259.00,84.73 L259.20,84.41 L259.40,84.01 L259.60,84.68 L259.80,84.12 L260.00,83.97 L260.20,84.36 L260.40,84.10 L260.60,84.30 L260.80,84.31 L261.00,83.86 L261.20,83.89 L261.40,83.55 L261.50,83.50 L261.60,83.54 L261.80,83.46 L262.00,84.09 L262.20,84.29 L262.40,83.87 L262.60,84.17 L262.80,83.86 L263.00,84.19 L263.20,84.56 L263.40,84.28 L263.60,84.42 L263.80,84.45 L264.00,83.87 L264.20,84.66 L264.40,84.41 L264.60,83.85 L264.80,84.50 L265.00,84.11 L265.20,83.91 L265.40,84.61 L265.60,84.26 L265.80,84.44 L266.00,83.87 L266.20,84.44 L266.40,83.80 L266.60,83.96 L266.80,84.06 L267.00,83.57 L267.20,83.17 L267.40,79.51 L267.60,72.13 L267.80,62.69 L268.00,58.00 L268.20,62.70 L268.40,72.50 L268.60,79.71 L268.80,83.45 L269.00,84.13 L269.20,84.53 L269.40,84.27 L269.60,84.60 L269.80,84.56 L270.00,83.93 L270.20,84.45 L270.40,84.09 L270.60,84.48 L270.80,84.41 L271.00,84.54 L271.20,83.91 L271.40,84.14 L271.60,84.47 L271.80,84.67 L272.00,84.47 L272.20,83.87 L272.40,84.38 L272.60,83.93 L272.80,84.34 L273.00,84.57 L273.20,83.96 L273.40,84.69 L273.60,84.47 L273.80,84.10 L274.00,84.05 L274.20,84.29 L274.40,84.64 L274.60,84.41 L274.80,83.95 L275.00,83.72 L275.20,83.49 L275.40,83.54 L275.50,83.50 L275.60,83.55 L275.80,84.13 L276.00,83.90 L276.20,84.40 L276.40,84.22 L276.60,84.59 L276.80,84.32 L277.00,84.12 L277.20,84.78 L277.40,84.49 L277.60,84.63 L277.80,84.75 L278.00,84.88 L278.20,84.05 L278.40,84.35 L278.60,84.19 L278.80,84.51 L279.00,84.86 L279.20,84.80 L279.40,84.12 L279.60,84.26 L279.80,84.84 L280.00,84.73 L280.20,84.48 L280.40,84.56 L280.60,84.29 L280.80,84.91 L281.00,84.52 L281.20,84.96 L281.40,84.73 L281.60,84.26 L281.80,84.50 L282.00,84.40 L282.20,85.02 L282.40,84.76 L282.60,84.28 L282.80,84.40 L283.00,84.58 L283.20,84.69 L283.40,84.80 L283.60,84.64 L283.80,84.62 L284.00,84.31 L284.20,84.84 L284.40,84.63 L284.60,84.36 L284.80,84.76 L285.00,85.25 L285.20,84.41 L285.40,84.51 L285.60,84.99 L285.80,84.65 L286.00,84.66 L286.20,84.87 L286.40,84.67 L286.60,84.95 L286.80,84.93 L287.00,85.32 L287.20,85.37 L287.40,84.51 L287.60,85.00 L287.80,85.20 L288.00,85.30 L288.20,85.22 L288.40,85.10 L288.60,85.12 L288.80,84.88 L289.00,84.82 L289.20,85.29 L289.40,85.37 L289.60,85.44 L289.80,85.22 L290.00,84.89 L290.20,85.31 L290.40,85.30 L290.60,85.10 L290.80,85.23 L291.00,84.98 L291.20,85.17 L291.40,85.05 L291.60,84.75 L291.80,85.01 L292.00,85.01 L292.20,85.62 L292.40,85.17 L292.60,85.08 L292.80,84.97 L293.00,84.90 L293.20,84.64 L293.40,83.15 L293.60,80.89 L293.80,78.40 L293.90,78.00 L294.00,78.40 L294.20,80.47 L294.40,83.85 L294.60,84.79 L294.80,85.17 L295.00,85.36 L295.20,85.14 L295.40,85.03 L295.60,84.94 L295.80,85.16 L296.00,85.18 L296.20,85.56 L296.40,85.41 L296.60,85.77 L296.80,85.24 L297.00,85.77 L297.20,85.47 L297.40,85.03 L297.60,85.13 L297.80,85.49 L298.00,85.87 L298.20,85.31 L298.40,85.69 L298.60,85.39 L298.80,85.79 L299.00,85.08 L299.20,85.46 L299.40,85.84 L299.60,85.29 L299.80,85.28 L300.00,85.07 L300.20,85.20 L300.40,85.30 L300.60,85.70 L300.80,85.27 L301.00,85.44 L301.20,85.27 L301.40,85.64 L301.60,85.88 L301.80,85.69 L302.00,85.29 L302.20,85.78 L302.40,85.99 L302.60,85.67 L302.80,85.21 L303.00,85.87 L303.20,85.94 L303.40,85.46 L303.60,85.26 L303.80,85.11 L304.00,84.54 L304.20,82.48 L304.40,78.75 L304.60,77.00 L304.80,78.76 L305.00,82.29 L305.20,84.92 L305.40,85.18 L305.60,85.49 L305.80,85.90 L306.00,85.82 L306.20,85.61 L306.40,85.86 L306.60,85.56 L306.80,85.31 L307.00,85.64 L307.20,85.31 L307.40,85.84 L307.60,85.59 L307.80,85.74 L308.00,85.84 L308.20,85.54 L308.40,85.73 L308.60,85.33 L308.80,86.15 L309.00,85.84 L309.20,86.22 L309.40,85.39 L309.60,85.90 L309.80,86.00 L310.00,85.65 L310.20,85.45 L310.40,85.51 L310.60,85.50 L310.80,86.07 L311.00,85.47 L311.20,86.12 L311.40,85.78 L311.60,85.89 L311.80,85.94 L312.00,85.91 L312.20,86.01 L312.40,85.97 L312.60,85.73 L312.80,86.10 L313.00,85.68 L313.20,86.09 L313.40,86.14 L313.60,86.16 L313.80,85.74 L314.00,86.17 L314.20,86.36 L314.40,85.89 L314.60,85.74 L314.80,85.97 L315.00,86.35 L315.20,85.62 L315.40,85.46 L315.60,85.57 L315.80,84.66 L316.00,82.63 L316.20,80.33 L316.30,80.00 L316.40,80.33 L316.60,82.28 L316.80,84.99 L317.00,85.39 L317.20,86.18 L317.40,85.64 L317.60,85.60 L317.80,85.70 L318.00,85.64 L318.20,86.04 L318.40,86.09 L318.60,85.76 L318.80,86.45 L319.00,85.94 L319.20,85.75 L319.40,85.78 L319.60,86.29 L319.80,86.46 L320.00,85.78 L320.20,85.67 L320.40,86.35 L320.60,85.87 L320.80,86.54 L321.00,86.11 L321.20,86.21 L321.40,85.76 L321.60,85.52 L321.80,83.91 L322.00,82.70 L322.10,82.50 L322.20,82.70 L322.40,83.96 L322.60,85.12 L322.80,86.30 L323.00,85.78 L323.20,86.38 L323.40,85.79 L323.60,86.32 L323.80,86.10 L324.00,86.52 L324.20,85.80 L324.40,86.26 L324.60,86.13 L324.80,86.59 L325.00,86.62 L325.20,86.34 L325.40,85.98 L325.60,86.01 L325.80,86.03 L326.00,86.19 L326.20,86.01 L326.40,85.99 L326.60,86.49 L326.80,86.32 L327.00,85.73 L327.20,85.60 L327.40,84.06 L327.60,83.50 L327.80,84.07 L328.00,84.92 L328.20,86.01 L328.40,85.93 L328.60,86.63 L328.80,86.65 L329.00,86.12 L329.20,86.56 L329.40,86.63 L329.60,86.15 L329.80,86.20 L330.00,86.34 L330.20,86.71 L330.40,86.06 L330.60,86.53 L330.80,86.46 L331.00,86.34 L331.20,86.45 L331.40,86.73 L331.60,86.13 L331.80,86.74 L332.00,86.28 L332.20,86.66 L332.40,86.74 L332.60,86.13 L332.80,86.75 L333.00,86.88 L333.20,86.25 L333.40,86.01 L333.60,86.10 L333.80,86.88 L334.00,86.01 L334.20,86.83 L334.40,86.15 L334.60,86.68 L334.80,86.11 L335.00,86.18 L335.20,86.65 L335.40,86.12 L335.60,86.35 L335.80,86.88 L336.00,86.70 L336.20,86.86 L336.40,86.95 L336.60,86.10 L336.80,86.29 L337.00,86.80 L337.20,86.71 L337.40,86.13 L337.60,86.53 L337.80,86.18 L338.00,85.99 L338.20,84.96 L338.40,84.61 L338.50,84.50 L338.60,84.62 L338.80,84.90 L339.00,86.52 L339.20,86.30 L339.40,86.92 L339.60,86.26 L339.80,86.59 L340.00,86.28 L340.20,86.55 L340.40,86.33 L340.60,86.79 L340.80,86.31 L341.00,86.85 L341.20,86.64 L341.40,86.30 L341.60,86.52 L341.80,86.65 L342.00,87.04 L342.20,86.53 L342.40,86.42 L342.60,87.10 L342.80,87.03 L343.00,86.90 L343.20,86.49 L343.40,86.41 L343.60,86.49 L343.80,86.32 L344.00,86.30 L344.20,86.73 L344.40,86.64 L344.60,86.78 L344.80,86.61 L345.00,86.30 L345.20,86.92 L345.40,86.89 L345.60,86.80 L345.80,86.81 L346.00,86.94 L346.20,87.21 L346.40,87.11 L346.60,86.98 L346.80,86.70 L347.00,86.63 L347.20,86.73 L347.40,87.23 L347.60,86.71 L347.80,86.71 L348.00,86.74 L348.20,86.50 L348.40,87.28 L348.60,86.39 L348.80,86.94 L349.00,87.23 L349.20,86.63 L349.40,86.96 L349.60,86.75 L349.80,86.62 L350.00,86.51 L350.20,86.20 L350.40,86.36 L350.60,85.57 L350.70,85.50 L350.80,85.58 L351.00,86.32 L351.20,86.94 L351.40,86.42 L351.60,87.08 L351.80,86.76 L352.00,87.06 L352.20,86.98 L352.40,86.77 L352.60,87.37 L352.80,86.50 L353.00,87.18 L353.20,87.28 L353.40,86.97 L353.60,87.05 L353.80,87.42 L354.00,86.74 L354.20,87.10 L354.40,87.21" fill="none" stroke="#67b3d9" stroke-width="1.1" stroke-linejoin="round" />
<path d="M196.80,119.33 L197.00,119.56 L197.20,119.21 L197.40,119.27 L197.60,119.28 L197.80,119.27 L198.00,118.89 L198.20,119.10 L198.40,118.95 L198.60,118.60 L198.80,118.88 L199.00,118.51 L199.20,119.02 L199.40,118.56 L199.60,118.72 L199.80,118.47 L200.00,118.37 L200.20,118.07 L200.40,117.94 L200.60,118.58 L200.80,118.16 L201.00,118.09 L201.20,118.03 L201.40,118.23 L201.60,117.65 L201.80,117.53 L202.00,118.06 L202.20,117.68 L202.40,117.79 L202.60,117.90 L202.80,117.91 L203.00,117.83 L203.20,117.04 L203.40,117.29 L203.60,117.65 L203.80,117.58 L204.00,116.91 L204.20,116.88 L204.40,116.92 L204.60,116.73 L204.80,116.91 L205.00,117.27 L205.20,116.96 L205.40,116.85 L205.60,116.48 L205.80,116.70 L206.00,117.20 L206.20,116.88 L206.40,116.62 L206.60,116.60 L206.80,116.84 L207.00,116.77 L207.20,116.18 L207.40,116.62 L207.60,116.30 L207.80,116.40 L208.00,116.11 L208.20,116.20 L208.40,116.14 L208.60,116.15 L208.80,115.79 L209.00,115.93 L209.20,116.23 L209.40,115.69 L209.60,115.35 L209.80,113.90 L210.00,108.02 L210.20,98.57 L210.40,90.31 L210.50,89.00 L210.60,90.30 L210.80,98.47 L211.00,108.47 L211.20,113.27 L211.40,115.66 L211.60,116.29 L211.80,115.76 L212.00,115.96 L212.20,116.29 L212.40,116.14 L212.60,115.92 L212.80,115.62 L213.00,115.99 L213.20,115.92 L213.40,116.24 L213.60,115.87 L213.80,115.98 L214.00,116.20 L214.20,116.35 L214.40,115.95 L214.60,115.99 L214.80,116.17 L215.00,116.49 L215.20,115.84 L215.40,116.55 L215.60,116.33 L215.80,116.03 L216.00,116.31 L216.20,116.01 L216.40,115.79 L216.60,116.42 L216.80,116.09 L217.00,116.23 L217.20,116.21 L217.40,116.59 L217.60,116.47 L217.80,115.82 L218.00,116.33 L218.20,116.23 L218.40,116.23 L218.60,116.58 L218.80,116.20 L219.00,116.26 L219.20,116.64 L219.40,116.24 L219.60,116.29 L219.80,116.31 L220.00,116.59 L220.20,116.45 L220.40,116.52 L220.60,116.21 L220.80,115.89 L221.00,116.47 L221.20,116.35 L221.40,116.55 L221.60,116.55 L221.80,115.96 L222.00,116.06 L222.20,115.93 L222.40,116.60 L222.60,115.95 L222.80,115.94 L223.00,116.54 L223.20,116.37 L223.40,115.92 L223.60,116.48 L223.80,116.51 L224.00,116.30 L224.20,115.92 L224.40,116.49 L224.60,116.25 L224.80,116.40 L225.00,116.77 L225.20,116.61 L225.40,116.66 L225.60,116.01 L225.80,116.18 L226.00,116.35 L226.20,115.89 L226.40,116.77 L226.60,116.13 L226.80,116.12 L227.00,116.17 L227.20,116.12 L227.40,116.66 L227.60,116.39 L227.80,116.35 L228.00,116.27 L228.20,115.94 L228.40,116.17 L228.60,116.68 L228.80,116.62 L229.00,116.67 L229.20,116.13 L229.40,116.09 L229.60,115.95 L229.80,116.39 L230.00,116.24 L230.20,116.33 L230.40,116.35 L230.60,116.44 L230.80,116.24 L231.00,116.64 L231.20,116.10 L231.40,116.74 L231.60,116.42 L231.80,115.97 L232.00,116.20 L232.20,116.40 L232.40,116.29 L232.60,116.43 L232.80,116.22 L233.00,116.17 L233.20,116.64 L233.40,116.19 L233.60,116.57 L233.80,116.65 L234.00,116.47 L234.20,116.34 L234.40,116.78 L234.60,116.34 L234.80,116.73 L235.00,115.99 L235.20,116.33 L235.40,116.52 L235.60,115.99 L235.80,116.72 L236.00,116.01 L236.20,116.48 L236.40,116.11 L236.60,116.78 L236.80,116.45 L237.00,116.67 L237.20,116.40 L237.40,116.56 L237.60,116.56 L237.80,116.22 L238.00,116.15 L238.20,116.71 L238.40,116.09 L238.60,116.78 L238.80,116.15 L239.00,116.05 L239.20,116.05 L239.40,116.67 L239.60,116.82 L239.80,116.34 L240.00,116.56 L240.20,116.20 L240.40,116.78 L240.60,116.58 L240.80,116.11 L241.00,116.02 L241.20,116.59 L241.40,116.01 L241.60,116.72 L241.80,116.23 L242.00,116.18 L242.20,116.49 L242.40,116.26 L242.60,116.48 L242.80,116.11 L243.00,116.79 L243.20,116.26 L243.40,116.73 L243.60,116.11 L243.80,116.69 L244.00,116.86 L244.20,116.33 L244.40,116.00 L244.60,116.32 L244.80,116.55 L245.00,116.17 L245.20,116.47 L245.40,116.06 L245.60,116.39 L245.80,116.63 L246.00,116.36 L246.20,116.58 L246.40,116.08 L246.60,116.72 L246.80,116.08 L247.00,116.78 L247.20,116.68 L247.40,115.89 L247.60,113.57 L247.80,110.75 L248.00,109.30 L248.20,110.74 L248.40,113.36 L248.60,115.36 L248.80,116.45 L249.00,116.39 L249.20,116.80 L249.40,116.05 L249.60,116.40 L249.80,116.74 L250.00,116.50 L250.20,116.45 L250.40,116.04 L250.60,116.09 L250.80,116.20 L251.00,116.76 L251.20,116.72 L251.40,116.16 L251.60,116.79 L251.80,115.98 L252.00,116.49 L252.20,116.82 L252.40,116.26 L252.60,116.80 L252.80,116.54 L253.00,115.99 L253.20,116.24 L253.40,116.34 L253.60,116.13 L253.80,116.40 L254.00,115.11 L254.20,113.58 L254.40,110.34 L254.60,108.80 L254.80,110.34 L255.00,113.13 L255.20,115.00 L255.40,116.22 L255.60,115.98 L255.80,116.41 L256.00,116.61 L256.20,116.34 L256.40,115.70 L256.60,113.52 L256.80,110.39 L257.00,106.95 L257.10,106.40 L257.20,106.95 L257.40,110.37 L257.60,113.57 L257.80,115.85 L258.00,115.90 L258.20,116.39 L258.40,116.19 L258.60,116.21 L258.80,116.47 L259.00,116.02 L259.20,116.02 L259.40,116.71 L259.60,116.16 L259.80,116.61 L260.00,116.64 L260.20,116.28 L260.40,115.97 L260.60,115.91 L260.80,116.60 L261.00,115.90 L261.20,116.23 L261.40,116.24 L261.60,115.84 L261.80,116.14 L262.00,115.84 L262.20,116.15 L262.40,116.09 L262.60,115.94 L262.80,115.76 L263.00,115.91 L263.20,115.70 L263.40,115.60 L263.60,115.67 L263.80,116.21 L264.00,115.84 L264.20,116.16 L264.40,115.34 L264.60,116.14 L264.80,115.70 L265.00,115.94 L265.20,115.71 L265.40,115.79 L265.60,115.35 L265.80,115.79 L266.00,115.23 L266.20,115.31 L266.40,115.07 L266.60,115.38 L266.80,115.45 L267.00,115.03 L267.20,114.47 L267.40,109.82 L267.60,101.46 L267.80,90.04 L268.00,84.50 L268.20,90.04 L268.40,101.14 L268.60,110.26 L268.80,114.34 L269.00,115.36 L269.20,114.97 L269.40,115.16 L269.60,115.48 L269.80,115.83 L270.00,114.98 L270.20,115.50 L270.40,115.56 L270.60,115.67 L270.80,115.25 L271.00,115.67 L271.20,115.35 L271.40,115.77 L271.60,114.95 L271.80,115.79 L272.00,115.31 L272.20,115.31 L272.40,115.02 L272.60,115.16 L272.80,115.60 L273.00,115.55 L273.20,115.08 L273.40,115.25 L273.60,115.07 L273.80,115.13 L274.00,115.15 L274.20,115.25 L274.40,115.83 L274.60,115.84 L274.80,115.59 L275.00,115.09 L275.20,114.68 L275.40,114.27 L275.50,114.20 L275.60,114.27 L275.80,114.94 L276.00,115.49 L276.20,115.57 L276.40,115.53 L276.60,115.15 L276.80,115.54 L277.00,115.74 L277.20,115.69 L277.40,115.06 L277.60,115.63 L277.80,115.30 L278.00,115.14 L278.20,115.86 L278.40,115.60 L278.60,115.67 L278.80,115.12 L279.00,115.75 L279.20,115.85 L279.40,115.82 L279.60,115.68 L279.80,115.77 L280.00,115.74 L280.20,115.56 L280.40,115.42 L280.60,115.77 L280.80,115.74 L281.00,115.82 L281.20,115.31 L281.40,115.91 L281.60,115.53 L281.80,115.90 L282.00,115.16 L282.20,115.93 L282.40,115.77 L282.60,115.30 L282.80,115.83 L283.00,115.29 L283.20,115.26 L283.40,115.50 L283.60,115.30 L283.80,115.54 L284.00,115.92 L284.20,115.72 L284.40,115.75 L284.60,115.47 L284.80,115.82 L285.00,115.84 L285.20,115.74 L285.40,115.98 L285.60,115.88 L285.80,115.51 L286.00,115.23 L286.20,115.74 L286.40,115.91 L286.60,115.47 L286.80,115.70 L287.00,115.93 L287.20,115.89 L287.40,115.19 L287.60,115.63 L287.80,115.21 L288.00,115.30 L288.20,115.93 L288.40,115.59 L288.60,115.76 L288.80,115.63 L289.00,115.53 L289.20,115.42 L289.40,115.55 L289.60,116.00 L289.80,115.80 L290.00,115.52 L290.20,115.34 L290.40,115.51 L290.60,115.90 L290.80,115.67 L291.00,115.88 L291.20,116.01 L291.40,115.40 L291.60,115.91 L291.80,115.34 L292.00,116.05 L292.20,115.48 L292.40,115.57 L292.60,116.19 L292.80,115.65 L293.00,115.49 L293.20,115.82 L293.40,114.64 L293.60,112.68 L293.80,110.88 L293.90,110.60 L294.00,110.89 L294.20,113.05 L294.40,114.47 L294.60,115.51 L294.80,116.20 L295.00,115.85 L295.20,116.29 L295.40,115.58 L295.60,116.16 L295.80,115.57 L296.00,115.90 L296.20,115.44 L296.40,115.60 L296.60,116.30 L296.80,115.86 L297.00,116.19 L297.20,115.69 L297.40,115.79 L297.60,115.57 L297.80,115.98 L298.00,116.27 L298.20,115.96 L298.40,115.84 L298.60,116.34 L298.80,116.32 L299.00,116.12 L299.20,115.59 L299.40,116.09 L299.60,115.94 L299.80,116.41 L300.00,115.88 L300.20,116.15 L300.40,116.13 L300.60,115.91 L300.80,116.04 L301.00,116.19 L301.20,116.40 L301.40,116.04 L301.60,115.93 L301.80,116.48 L302.00,115.66 L302.20,116.37 L302.40,116.24 L302.60,116.13 L302.80,116.04 L303.00,116.32 L303.20,116.45 L303.40,116.31 L303.60,116.31 L303.80,115.48 L304.00,114.91 L304.20,112.52 L304.40,109.65 L304.60,108.00 L304.80,109.66 L305.00,113.28 L305.20,115.46 L305.40,115.63 L305.60,116.23 L305.80,116.25 L306.00,115.78 L306.20,116.10 L306.40,116.42 L306.60,116.34 L306.80,116.02 L307.00,116.46 L307.20,116.04 L307.40,116.27 L307.60,116.17 L307.80,116.68 L308.00,116.39 L308.20,116.54 L308.40,116.43 L308.60,116.17 L308.80,116.70 L309.00,116.48 L309.20,116.47 L309.40,116.10 L309.60,116.00 L309.80,116.38 L310.00,116.62 L310.20,116.59 L310.40,116.20 L310.60,116.02 L310.80,116.36 L311.00,116.70 L311.20,116.06 L311.40,116.58 L311.60,116.08 L311.80,116.21 L312.00,115.99 L312.20,116.22 L312.40,116.30 L312.60,116.83 L312.80,116.83 L313.00,116.14 L313.20,116.26 L313.40,116.84 L313.60,116.17 L313.80,116.29 L314.00,116.41 L314.20,116.12 L314.40,116.26 L314.60,116.39 L314.80,116.39 L315.00,116.91 L315.20,116.29 L315.40,116.20 L315.60,116.60 L315.80,115.38 L316.00,114.11 L316.20,112.25 L316.30,112.00 L316.40,112.25 L316.60,113.95 L316.80,115.71 L317.00,116.12 L317.20,116.22 L317.40,116.81 L317.60,116.56 L317.80,116.65 L318.00,116.76 L318.20,116.84 L318.40,116.42 L318.60,116.50 L318.80,117.01 L319.00,116.67 L319.20,116.46 L319.40,116.77 L319.60,116.45 L319.80,116.92 L320.00,116.27 L320.20,116.98 L320.40,116.75 L320.60,116.57 L320.80,117.10 L321.00,116.50 L321.20,116.47 L321.40,116.18 L321.60,116.16 L321.80,115.44 L322.00,114.34 L322.10,114.20 L322.20,114.34 L322.40,115.23 L322.60,116.32 L322.80,116.55 L323.00,117.04 L323.20,116.45 L323.40,116.63 L323.60,116.94 L323.80,117.24 L324.00,116.95 L324.20,117.01 L324.40,117.09 L324.60,116.76 L324.80,117.25 L325.00,117.08 L325.20,116.73 L325.40,116.78 L325.60,117.16 L325.80,116.76 L326.00,116.62 L326.20,117.25 L326.40,116.95 L326.60,116.94 L326.80,117.02 L327.00,116.98 L327.20,115.62 L327.40,114.99 L327.60,114.50 L327.80,115.01 L328.00,115.84 L328.20,116.28 L328.40,116.85 L328.60,117.00 L328.80,117.33 L329.00,117.17 L329.20,117.10 L329.40,116.95 L329.60,117.11 L329.80,116.85 L330.00,117.37 L330.20,117.32 L330.40,117.38 L330.60,116.77 L330.80,117.24 L331.00,117.32 L331.20,117.10 L331.40,117.47 L331.60,117.48 L331.80,117.34 L332.00,117.42 L332.20,117.28 L332.40,117.49 L332.60,116.83 L332.80,117.35 L333.00,117.36 L333.20,117.28 L333.40,116.99 L333.60,116.81 L333.80,117.30 L334.00,117.50 L334.20,117.01 L334.40,116.97 L334.60,116.99 L334.80,116.88 L335.00,117.41 L335.20,117.68 L335.40,117.54 L335.60,117.15 L335.80,117.46 L336.00,116.90 L336.20,117.60 L336.40,117.15 L336.60,116.86 L336.80,117.44 L337.00,117.00 L337.20,117.13 L337.40,116.94 L337.60,117.28 L337.80,117.27 L338.00,117.11 L338.20,115.65 L338.40,115.32 L338.50,115.20 L338.60,115.32 L338.80,116.38 L339.00,116.52 L339.20,117.03 L339.40,117.51 L339.60,117.28 L339.80,117.28 L340.00,117.51 L340.20,117.20 L340.40,117.72 L340.60,117.20 L340.80,117.78 L341.00,117.76 L341.20,117.52 L341.40,117.08 L341.60,117.76 L341.80,117.09 L342.00,117.52 L342.20,117.46 L342.40,117.14 L342.60,117.66 L342.80,117.75 L343.00,117.64 L343.20,117.48 L343.40,117.59 L343.60,117.66 L343.80,117.34 L344.00,117.93 L344.20,118.05 L344.40,117.89 L344.60,118.04 L344.80,117.47 L345.00,118.07 L345.20,117.26 L345.40,117.63 L345.60,117.33 L345.80,117.63 L346.00,117.84 L346.20,117.87 L346.40,117.65 L346.60,117.55 L346.80,117.43 L347.00,117.62 L347.20,117.52 L347.40,117.45 L347.60,117.95 L347.80,117.76 L348.00,117.70 L348.20,117.49 L348.40,117.95 L348.60,117.50 L348.80,117.57 L349.00,117.84 L349.20,117.98 L349.40,118.23 L349.60,118.03 L349.80,118.20 L350.00,118.09 L350.20,117.58 L350.40,116.93 L350.60,116.10 L350.70,116.00 L350.80,116.11 L351.00,116.36 L351.20,117.16 L351.40,117.32 L351.60,118.19 L351.80,118.09 L352.00,118.02 L352.20,117.70 L352.40,117.79 L352.60,117.62 L352.80,118.05 L353.00,118.38 L353.20,117.77 L353.40,117.54 L353.60,117.67 L353.80,117.84 L354.00,118.33 L354.20,118.26 L354.40,117.95" fill="none" stroke="#a8283d" stroke-width="1.1" stroke-linejoin="round" />
<rect x="196.5" y="1.7" width="158.2" height="126.99999999999999" fill="none" stroke="#333" stroke-width="1.15"/>
<line x1="219.10" y1="128.70" x2="219.10" y2="126.50" stroke="#333" stroke-width="1.1" />
<line x1="264.30" y1="128.70" x2="264.30" y2="126.50" stroke="#333" stroke-width="1.1" />
<line x1="309.50" y1="128.70" x2="309.50" y2="126.50" stroke="#333" stroke-width="1.1" />
<line x1="241.70" y1="128.70" x2="241.70" y2="127.30" stroke="#333" stroke-width="1.1" />
<line x1="286.90" y1="128.70" x2="286.90" y2="127.30" stroke="#333" stroke-width="1.1" />
<line x1="332.10" y1="128.70" x2="332.10" y2="127.30" stroke="#333" stroke-width="1.1" />
<text x="219.10" y="138.40" font-size="7.8" text-anchor="middle" fill="#1a1a1a" stroke="#1a1a1a" stroke-width="0.18" >20</text>
<text x="264.30" y="138.40" font-size="7.8" text-anchor="middle" fill="#1a1a1a" stroke="#1a1a1a" stroke-width="0.18" >40</text>
<text x="309.50" y="138.40" font-size="7.8" text-anchor="middle" fill="#1a1a1a" stroke="#1a1a1a" stroke-width="0.18" >60</text>
<text x="354.70" y="138.40" font-size="7.8" text-anchor="middle" fill="#1a1a1a" stroke="#1a1a1a" stroke-width="0.18" >80</text>
<text x="279.50" y="146.80" font-size="9.3" text-anchor="middle" fill="#1a1a1a" stroke="#1a1a1a" stroke-width="0.18" >2θ (°)</text>
<text x="0" y="0" transform="translate(190.60,67.00) rotate(-90)" font-size="9.3" text-anchor="middle" fill="#1a1a1a" stroke="#1a1a1a" stroke-width="0.18">Intensity (arb. units)</text>
<text x="185.40" y="8.80" font-size="12.5" text-anchor="start" fill="#111" stroke="#111" stroke-width="0.18" font-weight="bold" >b</text>
<line x1="299.70" y1="12.50" x2="312.60" y2="12.50" stroke="#a8283d" stroke-width="1.5" />
<line x1="299.70" y1="22.50" x2="312.60" y2="22.50" stroke="#67b3d9" stroke-width="1.5" />
<line x1="299.70" y1="33.40" x2="312.60" y2="33.40" stroke="#3b78b4" stroke-width="1.5" />
<text x="315.60" y="15.00" font-size="7.4" text-anchor="start" fill="#1a1a1a" stroke="#1a1a1a" stroke-width="0.18" >O3-Na0.67</text>
<text x="315.60" y="25.30" font-size="7.4" text-anchor="start" fill="#1a1a1a" stroke="#1a1a1a" stroke-width="0.18" >Exp 18h</text>
<text x="315.60" y="36.40" font-size="7.4" text-anchor="start" fill="#1a1a1a" stroke="#1a1a1a" stroke-width="0.18" >Water 12h</text>
<g fill="#fff" stroke="#a8283d" stroke-width="1.0"><circle cx="388.89" cy="48.28" r="1.35"/><circle cx="391.59" cy="48.36" r="1.35"/><circle cx="394.28" cy="48.44" r="1.35"/><circle cx="396.97" cy="48.69" r="1.35"/><circle cx="399.66" cy="48.65" r="1.35"/><circle cx="402.36" cy="48.87" r="1.35"/><circle cx="405.05" cy="48.90" r="1.35"/><circle cx="407.74" cy="48.92" r="1.35"/><circle cx="410.44" cy="48.88" r="1.35"/><circle cx="413.13" cy="49.04" r="1.35"/><circle cx="415.82" cy="48.89" r="1.35"/><circle cx="418.52" cy="48.93" r="1.35"/><circle cx="421.21" cy="49.12" r="1.35"/><circle cx="423.90" cy="49.16" r="1.35"/><circle cx="426.59" cy="49.12" r="1.35"/><circle cx="429.29" cy="49.19" r="1.35"/><circle cx="431.98" cy="49.17" r="1.35"/><circle cx="434.67" cy="49.49" r="1.35"/><circle cx="437.37" cy="49.48" r="1.35"/><circle cx="440.06" cy="49.60" r="1.35"/><circle cx="442.75" cy="49.66" r="1.35"/><circle cx="445.45" cy="49.55" r="1.35"/><circle cx="448.14" cy="49.68" r="1.35"/><circle cx="450.83" cy="49.63" r="1.35"/><circle cx="453.52" cy="49.81" r="1.35"/><circle cx="456.22" cy="49.86" r="1.35"/><circle cx="458.91" cy="49.70" r="1.35"/><circle cx="461.60" cy="49.71" r="1.35"/><circle cx="464.30" cy="49.82" r="1.35"/><circle cx="466.99" cy="49.98" r="1.35"/><circle cx="469.68" cy="49.97" r="1.35"/><circle cx="472.38" cy="49.91" r="1.35"/><circle cx="475.07" cy="50.20" r="1.35"/><circle cx="477.76" cy="50.23" r="1.35"/><circle cx="480.45" cy="50.19" r="1.35"/><circle cx="483.15" cy="50.11" r="1.35"/><circle cx="485.84" cy="50.41" r="1.35"/><circle cx="488.53" cy="50.35" r="1.35"/><circle cx="491.23" cy="50.26" r="1.35"/><circle cx="493.92" cy="50.38" r="1.35"/><circle cx="496.61" cy="50.52" r="1.35"/><circle cx="499.31" cy="50.64" r="1.35"/><circle cx="502.00" cy="50.57" r="1.35"/><circle cx="504.69" cy="50.66" r="1.35"/><circle cx="507.38" cy="50.58" r="1.35"/><circle cx="510.08" cy="50.63" r="1.35"/><circle cx="512.77" cy="50.88" r="1.35"/><circle cx="515.46" cy="50.77" r="1.35"/><circle cx="518.16" cy="50.73" r="1.35"/><circle cx="520.85" cy="50.92" r="1.35"/><circle cx="523.54" cy="50.83" r="1.35"/><circle cx="526.24" cy="50.90" r="1.35"/><circle cx="528.93" cy="51.02" r="1.35"/><circle cx="531.62" cy="51.10" r="1.35"/><circle cx="534.32" cy="51.16" r="1.35"/><circle cx="537.01" cy="51.23" r="1.35"/><circle cx="539.70" cy="51.20" r="1.35"/><circle cx="542.39" cy="51.13" r="1.35"/><circle cx="545.09" cy="51.37" r="1.35"/><circle cx="547.78" cy="51.22" r="1.35"/><circle cx="550.47" cy="51.39" r="1.35"/><circle cx="553.17" cy="51.41" r="1.35"/><circle cx="555.86" cy="51.54" r="1.35"/><circle cx="558.55" cy="51.59" r="1.35"/><circle cx="561.25" cy="51.50" r="1.35"/><circle cx="563.94" cy="51.66" r="1.35"/><circle cx="566.63" cy="51.72" r="1.35"/><circle cx="569.32" cy="51.70" r="1.35"/><circle cx="572.02" cy="51.64" r="1.35"/><circle cx="574.71" cy="51.92" r="1.35"/><circle cx="577.40" cy="51.87" r="1.35"/><circle cx="580.10" cy="51.75" r="1.35"/><circle cx="582.79" cy="51.85" r="1.35"/><circle cx="585.48" cy="52.12" r="1.35"/><circle cx="588.17" cy="51.94" r="1.35"/><circle cx="590.87" cy="52.03" r="1.35"/><circle cx="593.56" cy="52.19" r="1.35"/><circle cx="596.25" cy="52.25" r="1.35"/><circle cx="598.95" cy="52.23" r="1.35"/><circle cx="601.64" cy="52.31" r="1.35"/><circle cx="604.33" cy="52.14" r="1.35"/><circle cx="607.03" cy="52.20" r="1.35"/><circle cx="609.72" cy="52.51" r="1.35"/><circle cx="612.41" cy="52.50" r="1.35"/><circle cx="615.11" cy="52.32" r="1.35"/><circle cx="617.80" cy="52.36" r="1.35"/><circle cx="620.49" cy="52.46" r="1.35"/><circle cx="623.18" cy="52.71" r="1.35"/><circle cx="625.88" cy="52.54" r="1.35"/><circle cx="628.57" cy="52.72" r="1.35"/><circle cx="631.26" cy="52.84" r="1.35"/><circle cx="633.96" cy="52.80" r="1.35"/><circle cx="636.65" cy="52.93" r="1.35"/><circle cx="639.34" cy="52.77" r="1.35"/><circle cx="642.03" cy="52.78" r="1.35"/><circle cx="644.73" cy="52.78" r="1.35"/><circle cx="647.42" cy="53.05" r="1.35"/><circle cx="650.11" cy="52.90" r="1.35"/><circle cx="652.81" cy="53.20" r="1.35"/><circle cx="655.50" cy="53.16" r="1.35"/></g>
<g fill="#fff" stroke="#67b3d9" stroke-width="1.0"><circle cx="388.89" cy="53.31" r="1.35"/><circle cx="391.59" cy="53.55" r="1.35"/><circle cx="394.28" cy="53.40" r="1.35"/><circle cx="396.97" cy="53.55" r="1.35"/><circle cx="399.66" cy="53.47" r="1.35"/><circle cx="402.36" cy="53.72" r="1.35"/><circle cx="405.05" cy="53.79" r="1.35"/><circle cx="407.74" cy="53.84" r="1.35"/><circle cx="410.44" cy="53.60" r="1.35"/><circle cx="413.13" cy="53.90" r="1.35"/><circle cx="415.82" cy="53.85" r="1.35"/><circle cx="418.52" cy="53.97" r="1.35"/><circle cx="421.21" cy="53.91" r="1.35"/><circle cx="423.90" cy="53.98" r="1.35"/><circle cx="426.59" cy="54.01" r="1.35"/><circle cx="429.29" cy="54.11" r="1.35"/><circle cx="431.98" cy="53.93" r="1.35"/><circle cx="434.67" cy="53.96" r="1.35"/><circle cx="437.37" cy="54.15" r="1.35"/><circle cx="440.06" cy="54.11" r="1.35"/><circle cx="442.75" cy="54.18" r="1.35"/><circle cx="445.45" cy="54.09" r="1.35"/><circle cx="448.14" cy="54.35" r="1.35"/><circle cx="450.83" cy="54.17" r="1.35"/><circle cx="453.52" cy="54.45" r="1.35"/><circle cx="456.22" cy="54.48" r="1.35"/><circle cx="458.91" cy="54.41" r="1.35"/><circle cx="461.60" cy="54.34" r="1.35"/><circle cx="464.30" cy="54.54" r="1.35"/><circle cx="466.99" cy="54.44" r="1.35"/><circle cx="469.68" cy="54.54" r="1.35"/><circle cx="472.38" cy="54.48" r="1.35"/><circle cx="475.07" cy="54.77" r="1.35"/><circle cx="477.76" cy="54.68" r="1.35"/><circle cx="480.45" cy="54.66" r="1.35"/><circle cx="483.15" cy="54.61" r="1.35"/><circle cx="485.84" cy="54.84" r="1.35"/><circle cx="488.53" cy="54.91" r="1.35"/><circle cx="491.23" cy="54.94" r="1.35"/><circle cx="493.92" cy="54.75" r="1.35"/><circle cx="496.61" cy="54.86" r="1.35"/><circle cx="499.31" cy="54.88" r="1.35"/><circle cx="502.00" cy="55.05" r="1.35"/><circle cx="504.69" cy="54.90" r="1.35"/><circle cx="507.38" cy="55.07" r="1.35"/><circle cx="510.08" cy="55.22" r="1.35"/><circle cx="512.77" cy="55.19" r="1.35"/><circle cx="515.46" cy="54.99" r="1.35"/><circle cx="518.16" cy="55.04" r="1.35"/><circle cx="520.85" cy="55.09" r="1.35"/><circle cx="523.54" cy="55.30" r="1.35"/><circle cx="526.24" cy="55.30" r="1.35"/><circle cx="528.93" cy="55.31" r="1.35"/><circle cx="531.62" cy="55.32" r="1.35"/><circle cx="534.32" cy="55.34" r="1.35"/><circle cx="537.01" cy="55.44" r="1.35"/><circle cx="539.70" cy="55.48" r="1.35"/><circle cx="542.39" cy="55.59" r="1.35"/><circle cx="545.09" cy="55.57" r="1.35"/><circle cx="547.78" cy="55.62" r="1.35"/><circle cx="550.47" cy="55.69" r="1.35"/><circle cx="553.17" cy="55.70" r="1.35"/><circle cx="555.86" cy="55.70" r="1.35"/><circle cx="558.55" cy="55.52" r="1.35"/><circle cx="561.25" cy="55.75" r="1.35"/><circle cx="563.94" cy="55.83" r="1.35"/><circle cx="566.63" cy="55.74" r="1.35"/><circle cx="569.32" cy="55.91" r="1.35"/><circle cx="572.02" cy="55.73" r="1.35"/><circle cx="574.71" cy="55.99" r="1.35"/><circle cx="577.40" cy="55.87" r="1.35"/><circle cx="580.10" cy="55.98" r="1.35"/><circle cx="582.79" cy="55.88" r="1.35"/><circle cx="585.48" cy="55.92" r="1.35"/><circle cx="588.17" cy="55.97" r="1.35"/><circle cx="590.87" cy="56.00" r="1.35"/><circle cx="593.56" cy="55.96" r="1.35"/><circle cx="596.25" cy="56.09" r="1.35"/><circle cx="598.95" cy="56.29" r="1.35"/><circle cx="601.64" cy="56.22" r="1.35"/><circle cx="604.33" cy="56.34" r="1.35"/><circle cx="607.03" cy="56.32" r="1.35"/><circle cx="609.72" cy="56.37" r="1.35"/><circle cx="612.41" cy="56.45" r="1.35"/><circle cx="615.11" cy="56.41" r="1.35"/><circle cx="617.80" cy="56.30" r="1.35"/><circle cx="620.49" cy="56.32" r="1.35"/><circle cx="623.18" cy="56.40" r="1.35"/><circle cx="625.88" cy="56.31" r="1.35"/><circle cx="628.57" cy="56.41" r="1.35"/><circle cx="631.26" cy="56.64" r="1.35"/><circle cx="633.96" cy="56.68" r="1.35"/><circle cx="636.65" cy="56.53" r="1.35"/><circle cx="639.34" cy="56.70" r="1.35"/><circle cx="642.03" cy="56.73" r="1.35"/><circle cx="644.73" cy="56.79" r="1.35"/><circle cx="647.42" cy="56.80" r="1.35"/><circle cx="650.11" cy="56.75" r="1.35"/><circle cx="652.81" cy="56.65" r="1.35"/><circle cx="655.50" cy="56.90" r="1.35"/></g>
<g fill="#fff" stroke="#3b78b4" stroke-width="1.0"><circle cx="388.89" cy="56.54" r="1.35"/><circle cx="391.59" cy="56.67" r="1.35"/><circle cx="394.28" cy="56.63" r="1.35"/><circle cx="396.97" cy="56.71" r="1.35"/><circle cx="399.66" cy="56.86" r="1.35"/><circle cx="402.36" cy="56.65" r="1.35"/><circle cx="405.05" cy="56.79" r="1.35"/><circle cx="407.74" cy="56.85" r="1.35"/><circle cx="410.44" cy="56.84" r="1.35"/><circle cx="413.13" cy="56.99" r="1.35"/><circle cx="415.82" cy="56.85" r="1.35"/><circle cx="418.52" cy="57.03" r="1.35"/><circle cx="421.21" cy="56.99" r="1.35"/><circle cx="423.90" cy="57.09" r="1.35"/><circle cx="426.59" cy="56.86" r="1.35"/><circle cx="429.29" cy="56.92" r="1.35"/><circle cx="431.98" cy="56.96" r="1.35"/><circle cx="434.67" cy="57.17" r="1.35"/><circle cx="437.37" cy="56.93" r="1.35"/><circle cx="440.06" cy="57.03" r="1.35"/><circle cx="442.75" cy="57.19" r="1.35"/><circle cx="445.45" cy="57.29" r="1.35"/><circle cx="448.14" cy="57.07" r="1.35"/><circle cx="450.83" cy="57.17" r="1.35"/><circle cx="453.52" cy="57.27" r="1.35"/><circle cx="456.22" cy="57.29" r="1.35"/><circle cx="458.91" cy="57.33" r="1.35"/><circle cx="461.60" cy="57.36" r="1.35"/><circle cx="464.30" cy="57.23" r="1.35"/><circle cx="466.99" cy="57.26" r="1.35"/><circle cx="469.68" cy="57.21" r="1.35"/><circle cx="472.38" cy="57.43" r="1.35"/><circle cx="475.07" cy="57.31" r="1.35"/><circle cx="477.76" cy="57.35" r="1.35"/><circle cx="480.45" cy="57.58" r="1.35"/><circle cx="483.15" cy="57.51" r="1.35"/><circle cx="485.84" cy="57.51" r="1.35"/><circle cx="488.53" cy="57.55" r="1.35"/><circle cx="491.23" cy="57.56" r="1.35"/><circle cx="493.92" cy="57.61" r="1.35"/><circle cx="496.61" cy="57.51" r="1.35"/><circle cx="499.31" cy="57.46" r="1.35"/><circle cx="502.00" cy="57.49" r="1.35"/><circle cx="504.69" cy="57.49" r="1.35"/><circle cx="507.38" cy="57.62" r="1.35"/><circle cx="510.08" cy="57.57" r="1.35"/><circle cx="512.77" cy="57.59" r="1.35"/><circle cx="515.46" cy="57.72" r="1.35"/><circle cx="518.16" cy="57.89" r="1.35"/><circle cx="520.85" cy="57.82" r="1.35"/><circle cx="523.54" cy="57.72" r="1.35"/><circle cx="526.24" cy="57.89" r="1.35"/><circle cx="528.93" cy="57.74" r="1.35"/><circle cx="531.62" cy="57.73" r="1.35"/><circle cx="534.32" cy="57.82" r="1.35"/><circle cx="537.01" cy="57.87" r="1.35"/><circle cx="539.70" cy="57.97" r="1.35"/><circle cx="542.39" cy="57.92" r="1.35"/><circle cx="545.09" cy="58.03" r="1.35"/><circle cx="547.78" cy="57.86" r="1.35"/><circle cx="550.47" cy="58.13" r="1.35"/><circle cx="553.17" cy="57.98" r="1.35"/><circle cx="555.86" cy="58.14" r="1.35"/><circle cx="558.55" cy="57.92" r="1.35"/><circle cx="561.25" cy="58.18" r="1.35"/><circle cx="563.94" cy="58.02" r="1.35"/><circle cx="566.63" cy="58.23" r="1.35"/><circle cx="569.32" cy="58.24" r="1.35"/><circle cx="572.02" cy="58.22" r="1.35"/><circle cx="574.71" cy="58.12" r="1.35"/><circle cx="577.40" cy="58.06" r="1.35"/><circle cx="580.10" cy="58.14" r="1.35"/><circle cx="582.79" cy="58.37" r="1.35"/><circle cx="585.48" cy="58.17" r="1.35"/><circle cx="588.17" cy="58.34" r="1.35"/><circle cx="590.87" cy="58.34" r="1.35"/><circle cx="593.56" cy="58.38" r="1.35"/><circle cx="596.25" cy="58.26" r="1.35"/><circle cx="598.95" cy="58.27" r="1.35"/><circle cx="601.64" cy="58.27" r="1.35"/><circle cx="604.33" cy="58.56" r="1.35"/><circle cx="607.03" cy="58.40" r="1.35"/><circle cx="609.72" cy="58.50" r="1.35"/><circle cx="612.41" cy="58.50" r="1.35"/><circle cx="615.11" cy="58.41" r="1.35"/><circle cx="617.80" cy="58.39" r="1.35"/><circle cx="620.49" cy="58.39" r="1.35"/><circle cx="623.18" cy="58.66" r="1.35"/><circle cx="625.88" cy="58.47" r="1.35"/><circle cx="628.57" cy="58.74" r="1.35"/><circle cx="631.26" cy="58.58" r="1.35"/><circle cx="633.96" cy="58.71" r="1.35"/><circle cx="636.65" cy="58.55" r="1.35"/><circle cx="639.34" cy="58.77" r="1.35"/><circle cx="642.03" cy="58.63" r="1.35"/><circle cx="644.73" cy="58.68" r="1.35"/><circle cx="647.42" cy="58.75" r="1.35"/><circle cx="650.11" cy="58.64" r="1.35"/><circle cx="652.81" cy="58.70" r="1.35"/><circle cx="655.50" cy="58.89" r="1.35"/></g>
<path d="M388.89,39.60 L391.59,29.20" fill="none" stroke="#3b78b4" stroke-width="0.6" stroke-linejoin="round" />
<g fill="#a8283d" stroke="none"><circle cx="391.59" cy="25.30" r="1.65"/><circle cx="394.28" cy="21.00" r="1.65"/><circle cx="396.97" cy="19.70" r="1.65"/><circle cx="399.66" cy="18.60" r="1.65"/><circle cx="402.36" cy="18.00" r="1.65"/><circle cx="405.05" cy="17.40" r="1.65"/><circle cx="407.74" cy="17.00" r="1.65"/><circle cx="410.44" cy="16.60" r="1.65"/><circle cx="413.13" cy="16.30" r="1.65"/><circle cx="415.82" cy="16.00" r="1.65"/><circle cx="418.52" cy="15.60" r="1.65"/><circle cx="421.21" cy="15.40" r="1.65"/><circle cx="423.90" cy="15.20" r="1.65"/><circle cx="426.59" cy="13.64" r="1.65"/><circle cx="429.29" cy="15.05" r="1.65"/><circle cx="431.98" cy="13.98" r="1.65"/><circle cx="434.67" cy="13.05" r="1.65"/><circle cx="437.37" cy="14.19" r="1.65"/><circle cx="440.06" cy="14.69" r="1.65"/><circle cx="442.75" cy="13.05" r="1.65"/><circle cx="445.45" cy="14.66" r="1.65"/><circle cx="448.14" cy="13.05" r="1.65"/><circle cx="450.83" cy="12.85" r="1.65"/><circle cx="453.52" cy="14.16" r="1.65"/><circle cx="456.22" cy="13.62" r="1.65"/><circle cx="458.91" cy="12.72" r="1.65"/><circle cx="461.60" cy="11.94" r="1.65"/><circle cx="464.30" cy="13.93" r="1.65"/><circle cx="466.99" cy="14.19" r="1.65"/><circle cx="469.68" cy="13.35" r="1.65"/><circle cx="472.38" cy="14.12" r="1.65"/><circle cx="475.07" cy="12.07" r="1.65"/><circle cx="477.76" cy="14.37" r="1.65"/><circle cx="480.45" cy="14.40" r="1.65"/><circle cx="483.15" cy="14.23" r="1.65"/><circle cx="485.84" cy="13.16" r="1.65"/><circle cx="488.53" cy="14.00" r="1.65"/><circle cx="491.23" cy="14.06" r="1.65"/><circle cx="493.92" cy="15.18" r="1.65"/><circle cx="496.61" cy="14.23" r="1.65"/><circle cx="499.31" cy="14.20" r="1.65"/><circle cx="502.00" cy="13.03" r="1.65"/><circle cx="504.69" cy="14.93" r="1.65"/><circle cx="507.38" cy="15.31" r="1.65"/><circle cx="510.08" cy="13.31" r="1.65"/><circle cx="512.77" cy="14.67" r="1.65"/><circle cx="515.46" cy="14.27" r="1.65"/><circle cx="518.16" cy="13.84" r="1.65"/><circle cx="520.85" cy="12.36" r="1.65"/><circle cx="523.54" cy="16.01" r="1.65"/><circle cx="526.24" cy="11.66" r="1.65"/><circle cx="528.93" cy="14.26" r="1.65"/><circle cx="531.62" cy="13.45" r="1.65"/><circle cx="534.32" cy="15.27" r="1.65"/><circle cx="537.01" cy="13.39" r="1.65"/><circle cx="539.70" cy="13.95" r="1.65"/><circle cx="542.39" cy="14.63" r="1.65"/><circle cx="545.09" cy="14.45" r="1.65"/><circle cx="547.78" cy="13.28" r="1.65"/><circle cx="550.47" cy="14.72" r="1.65"/><circle cx="553.17" cy="14.37" r="1.65"/><circle cx="555.86" cy="15.09" r="1.65"/><circle cx="558.55" cy="13.29" r="1.65"/><circle cx="561.25" cy="13.84" r="1.65"/><circle cx="563.94" cy="13.43" r="1.65"/><circle cx="566.63" cy="12.90" r="1.65"/><circle cx="569.32" cy="14.21" r="1.65"/><circle cx="572.02" cy="14.39" r="1.65"/><circle cx="574.71" cy="15.60" r="1.65"/><circle cx="577.40" cy="13.51" r="1.65"/><circle cx="580.10" cy="14.36" r="1.65"/><circle cx="582.79" cy="15.27" r="1.65"/><circle cx="585.48" cy="13.76" r="1.65"/><circle cx="588.17" cy="13.98" r="1.65"/><circle cx="590.87" cy="14.06" r="1.65"/><circle cx="593.56" cy="13.07" r="1.65"/><circle cx="596.25" cy="12.72" r="1.65"/><circle cx="598.95" cy="15.24" r="1.65"/><circle cx="601.64" cy="14.11" r="1.65"/><circle cx="604.33" cy="13.81" r="1.65"/><circle cx="607.03" cy="12.41" r="1.65"/><circle cx="609.72" cy="14.04" r="1.65"/><circle cx="612.41" cy="15.30" r="1.65"/><circle cx="615.11" cy="12.52" r="1.65"/><circle cx="617.80" cy="12.83" r="1.65"/><circle cx="620.49" cy="15.23" r="1.65"/><circle cx="623.18" cy="15.61" r="1.65"/><circle cx="625.88" cy="15.76" r="1.65"/><circle cx="628.57" cy="13.24" r="1.65"/><circle cx="631.26" cy="14.62" r="1.65"/><circle cx="633.96" cy="13.00" r="1.65"/><circle cx="636.65" cy="14.52" r="1.65"/><circle cx="639.34" cy="13.46" r="1.65"/><circle cx="642.03" cy="14.13" r="1.65"/><circle cx="644.73" cy="15.50" r="1.65"/><circle cx="647.42" cy="14.30" r="1.65"/><circle cx="650.11" cy="13.61" r="1.65"/><circle cx="652.81" cy="13.97" r="1.65"/><circle cx="655.50" cy="14.22" r="1.65"/></g>
<g fill="#67b3d9" stroke="none"><circle cx="391.59" cy="28.50" r="1.65"/><circle cx="394.28" cy="23.70" r="1.65"/><circle cx="396.97" cy="22.40" r="1.65"/><circle cx="399.66" cy="21.00" r="1.65"/><circle cx="402.36" cy="19.70" r="1.65"/><circle cx="405.05" cy="18.80" r="1.65"/><circle cx="407.74" cy="18.20" r="1.65"/><circle cx="410.44" cy="17.60" r="1.65"/><circle cx="413.13" cy="17.20" r="1.65"/><circle cx="415.82" cy="16.80" r="1.65"/><circle cx="418.52" cy="16.40" r="1.65"/><circle cx="421.21" cy="16.00" r="1.65"/><circle cx="423.90" cy="15.70" r="1.65"/><circle cx="426.59" cy="15.40" r="1.65"/><circle cx="429.29" cy="15.20" r="1.65"/><circle cx="431.98" cy="13.99" r="1.65"/><circle cx="434.67" cy="14.85" r="1.65"/><circle cx="437.37" cy="15.32" r="1.65"/><circle cx="440.06" cy="16.46" r="1.65"/><circle cx="442.75" cy="12.14" r="1.65"/><circle cx="445.45" cy="13.18" r="1.65"/><circle cx="448.14" cy="13.12" r="1.65"/><circle cx="450.83" cy="15.65" r="1.65"/><circle cx="453.52" cy="17.51" r="1.65"/><circle cx="456.22" cy="14.83" r="1.65"/><circle cx="458.91" cy="14.74" r="1.65"/><circle cx="461.60" cy="15.96" r="1.65"/><circle cx="464.30" cy="11.69" r="1.65"/><circle cx="466.99" cy="14.39" r="1.65"/><circle cx="469.68" cy="10.88" r="1.65"/><circle cx="472.38" cy="14.78" r="1.65"/><circle cx="475.07" cy="13.99" r="1.65"/><circle cx="477.76" cy="14.02" r="1.65"/><circle cx="480.45" cy="15.01" r="1.65"/><circle cx="483.15" cy="13.90" r="1.65"/><circle cx="485.84" cy="15.93" r="1.65"/><circle cx="488.53" cy="14.60" r="1.65"/><circle cx="491.23" cy="15.05" r="1.65"/><circle cx="493.92" cy="17.63" r="1.65"/><circle cx="496.61" cy="14.07" r="1.65"/><circle cx="499.31" cy="15.70" r="1.65"/><circle cx="502.00" cy="13.61" r="1.65"/><circle cx="504.69" cy="16.09" r="1.65"/><circle cx="507.38" cy="15.75" r="1.65"/><circle cx="510.08" cy="14.77" r="1.65"/><circle cx="512.77" cy="15.78" r="1.65"/><circle cx="515.46" cy="16.52" r="1.65"/><circle cx="518.16" cy="16.24" r="1.65"/><circle cx="520.85" cy="14.60" r="1.65"/><circle cx="523.54" cy="14.53" r="1.65"/><circle cx="526.24" cy="15.92" r="1.65"/><circle cx="528.93" cy="12.85" r="1.65"/><circle cx="531.62" cy="13.88" r="1.65"/><circle cx="534.32" cy="15.18" r="1.65"/><circle cx="537.01" cy="15.28" r="1.65"/><circle cx="539.70" cy="16.81" r="1.65"/><circle cx="542.39" cy="16.69" r="1.65"/><circle cx="545.09" cy="14.99" r="1.65"/><circle cx="547.78" cy="15.13" r="1.65"/><circle cx="550.47" cy="13.03" r="1.65"/><circle cx="553.17" cy="14.38" r="1.65"/><circle cx="555.86" cy="14.91" r="1.65"/><circle cx="558.55" cy="14.33" r="1.65"/><circle cx="561.25" cy="14.67" r="1.65"/><circle cx="563.94" cy="15.32" r="1.65"/><circle cx="566.63" cy="13.47" r="1.65"/><circle cx="569.32" cy="13.93" r="1.65"/><circle cx="572.02" cy="12.49" r="1.65"/><circle cx="574.71" cy="15.96" r="1.65"/><circle cx="577.40" cy="13.35" r="1.65"/><circle cx="580.10" cy="12.58" r="1.65"/><circle cx="582.79" cy="15.52" r="1.65"/><circle cx="585.48" cy="14.35" r="1.65"/><circle cx="588.17" cy="15.75" r="1.65"/><circle cx="590.87" cy="14.16" r="1.65"/><circle cx="593.56" cy="17.12" r="1.65"/><circle cx="596.25" cy="15.45" r="1.65"/><circle cx="598.95" cy="14.78" r="1.65"/><circle cx="601.64" cy="14.74" r="1.65"/><circle cx="604.33" cy="14.36" r="1.65"/><circle cx="607.03" cy="15.56" r="1.65"/><circle cx="609.72" cy="16.97" r="1.65"/><circle cx="612.41" cy="14.10" r="1.65"/><circle cx="615.11" cy="13.31" r="1.65"/><circle cx="617.80" cy="15.31" r="1.65"/><circle cx="620.49" cy="15.87" r="1.65"/><circle cx="623.18" cy="12.83" r="1.65"/><circle cx="625.88" cy="13.78" r="1.65"/><circle cx="628.57" cy="13.42" r="1.65"/><circle cx="631.26" cy="15.27" r="1.65"/><circle cx="633.96" cy="15.20" r="1.65"/><circle cx="636.65" cy="13.73" r="1.65"/><circle cx="639.34" cy="13.26" r="1.65"/><circle cx="642.03" cy="15.41" r="1.65"/><circle cx="644.73" cy="12.16" r="1.65"/><circle cx="647.42" cy="15.36" r="1.65"/><circle cx="650.11" cy="14.42" r="1.65"/><circle cx="652.81" cy="16.87" r="1.65"/><circle cx="655.50" cy="15.78" r="1.65"/></g>
<g fill="#3b78b4" stroke="none"><circle cx="388.89" cy="39.60" r="1.65"/><circle cx="391.59" cy="29.20" r="1.65"/><circle cx="394.28" cy="26.40" r="1.65"/><circle cx="396.97" cy="24.40" r="1.65"/><circle cx="399.66" cy="22.80" r="1.65"/><circle cx="402.36" cy="21.00" r="1.65"/><circle cx="405.05" cy="20.20" r="1.65"/><circle cx="407.74" cy="21.20" r="1.65"/><circle cx="410.44" cy="19.40" r="1.65"/><circle cx="413.13" cy="18.60" r="1.65"/><circle cx="415.82" cy="18.00" r="1.65"/><circle cx="418.52" cy="17.40" r="1.65"/><circle cx="421.21" cy="17.00" r="1.65"/><circle cx="423.90" cy="16.60" r="1.65"/><circle cx="426.59" cy="16.20" r="1.65"/><circle cx="429.29" cy="15.80" r="1.65"/><circle cx="431.98" cy="13.71" r="1.65"/><circle cx="434.67" cy="14.08" r="1.65"/><circle cx="437.37" cy="14.07" r="1.65"/><circle cx="440.06" cy="13.54" r="1.65"/><circle cx="442.75" cy="14.50" r="1.65"/><circle cx="445.45" cy="15.54" r="1.65"/><circle cx="448.14" cy="12.62" r="1.65"/><circle cx="450.83" cy="14.13" r="1.65"/><circle cx="453.52" cy="16.17" r="1.65"/><circle cx="456.22" cy="15.28" r="1.65"/><circle cx="458.91" cy="13.44" r="1.65"/><circle cx="461.60" cy="13.45" r="1.65"/><circle cx="464.30" cy="13.39" r="1.65"/><circle cx="466.99" cy="12.50" r="1.65"/><circle cx="469.68" cy="15.76" r="1.65"/><circle cx="472.38" cy="14.48" r="1.65"/><circle cx="475.07" cy="13.58" r="1.65"/><circle cx="477.76" cy="12.70" r="1.65"/><circle cx="480.45" cy="13.95" r="1.65"/><circle cx="483.15" cy="13.79" r="1.65"/><circle cx="485.84" cy="16.43" r="1.65"/><circle cx="488.53" cy="13.86" r="1.65"/><circle cx="491.23" cy="14.54" r="1.65"/><circle cx="493.92" cy="15.67" r="1.65"/><circle cx="496.61" cy="15.19" r="1.65"/><circle cx="499.31" cy="14.19" r="1.65"/><circle cx="502.00" cy="11.82" r="1.65"/><circle cx="504.69" cy="16.06" r="1.65"/><circle cx="507.38" cy="15.11" r="1.65"/><circle cx="510.08" cy="13.89" r="1.65"/><circle cx="512.77" cy="14.30" r="1.65"/><circle cx="515.46" cy="13.27" r="1.65"/><circle cx="518.16" cy="13.34" r="1.65"/><circle cx="520.85" cy="12.65" r="1.65"/><circle cx="523.54" cy="14.99" r="1.65"/><circle cx="526.24" cy="15.01" r="1.65"/><circle cx="528.93" cy="14.61" r="1.65"/><circle cx="531.62" cy="15.32" r="1.65"/><circle cx="534.32" cy="15.03" r="1.65"/><circle cx="537.01" cy="14.54" r="1.65"/><circle cx="539.70" cy="13.36" r="1.65"/><circle cx="542.39" cy="15.10" r="1.65"/><circle cx="545.09" cy="15.80" r="1.65"/><circle cx="547.78" cy="15.14" r="1.65"/><circle cx="550.47" cy="15.87" r="1.65"/><circle cx="553.17" cy="13.84" r="1.65"/><circle cx="555.86" cy="13.25" r="1.65"/><circle cx="558.55" cy="15.88" r="1.65"/><circle cx="561.25" cy="13.71" r="1.65"/><circle cx="563.94" cy="14.69" r="1.65"/><circle cx="566.63" cy="14.18" r="1.65"/><circle cx="569.32" cy="14.43" r="1.65"/><circle cx="572.02" cy="14.08" r="1.65"/><circle cx="574.71" cy="13.76" r="1.65"/><circle cx="577.40" cy="12.30" r="1.65"/><circle cx="580.10" cy="16.65" r="1.65"/><circle cx="582.79" cy="14.64" r="1.65"/><circle cx="585.48" cy="12.13" r="1.65"/><circle cx="588.17" cy="13.33" r="1.65"/><circle cx="590.87" cy="13.07" r="1.65"/><circle cx="593.56" cy="13.53" r="1.65"/><circle cx="596.25" cy="11.40" r="1.65"/><circle cx="598.95" cy="15.08" r="1.65"/><circle cx="601.64" cy="16.33" r="1.65"/><circle cx="604.33" cy="14.11" r="1.65"/><circle cx="607.03" cy="15.28" r="1.65"/><circle cx="609.72" cy="15.11" r="1.65"/><circle cx="612.41" cy="12.93" r="1.65"/><circle cx="615.11" cy="15.83" r="1.65"/><circle cx="617.80" cy="12.42" r="1.65"/><circle cx="620.49" cy="13.72" r="1.65"/><circle cx="623.18" cy="13.98" r="1.65"/><circle cx="625.88" cy="15.88" r="1.65"/><circle cx="628.57" cy="14.54" r="1.65"/><circle cx="631.26" cy="14.25" r="1.65"/><circle cx="633.96" cy="13.45" r="1.65"/><circle cx="636.65" cy="14.51" r="1.65"/><circle cx="639.34" cy="14.45" r="1.65"/><circle cx="642.03" cy="15.26" r="1.65"/><circle cx="644.73" cy="16.04" r="1.65"/><circle cx="647.42" cy="15.27" r="1.65"/><circle cx="650.11" cy="14.42" r="1.65"/><circle cx="652.81" cy="14.22" r="1.65"/><circle cx="655.50" cy="16.28" r="1.65"/></g>
<line x1="381.60" y1="0.90" x2="381.60" y2="130.10" stroke="#333" stroke-width="1.3" />
<line x1="381.10" y1="129.60" x2="660.30" y2="129.60" stroke="#333" stroke-width="1.3" />
<line x1="660.30" y1="0.40" x2="660.30" y2="130.10" stroke="#4a82bf" stroke-width="1.2" />
<line x1="381.60" y1="0.90" x2="660.90" y2="0.90" stroke="#4a82bf" stroke-width="1.3" />
<line x1="381.60" y1="129.60" x2="385.20" y2="129.60" stroke="#333" stroke-width="1.1" />
<text x="379.30" y="132.40" font-size="7.8" text-anchor="end" fill="#1a1a1a" stroke="#1a1a1a" stroke-width="0.18" >0</text>
<line x1="381.60" y1="91.55" x2="385.20" y2="91.55" stroke="#333" stroke-width="1.1" />
<text x="379.30" y="94.35" font-size="7.8" text-anchor="end" fill="#1a1a1a" stroke="#1a1a1a" stroke-width="0.18" >40</text>
<line x1="381.60" y1="53.50" x2="385.20" y2="53.50" stroke="#333" stroke-width="1.1" />
<text x="379.30" y="56.30" font-size="7.8" text-anchor="end" fill="#1a1a1a" stroke="#1a1a1a" stroke-width="0.18" >80</text>
<line x1="381.60" y1="15.44" x2="385.20" y2="15.44" stroke="#333" stroke-width="1.1" />
<text x="379.30" y="18.24" font-size="7.8" text-anchor="end" fill="#1a1a1a" stroke="#1a1a1a" stroke-width="0.18" >120</text>
<line x1="381.60" y1="110.57" x2="384.00" y2="110.57" stroke="#333" stroke-width="1.1" />
<line x1="381.60" y1="72.52" x2="384.00" y2="72.52" stroke="#333" stroke-width="1.1" />
<line x1="381.60" y1="34.47" x2="384.00" y2="34.47" stroke="#333" stroke-width="1.1" />
<line x1="387.60" y1="129.60" x2="387.60" y2="126.80" stroke="#333" stroke-width="1.1" />
<line x1="454.55" y1="129.60" x2="454.55" y2="126.80" stroke="#333" stroke-width="1.1" />
<line x1="521.50" y1="129.60" x2="521.50" y2="126.80" stroke="#333" stroke-width="1.1" />
<line x1="588.45" y1="129.60" x2="588.45" y2="126.80" stroke="#333" stroke-width="1.1" />
<line x1="655.40" y1="129.60" x2="655.40" y2="126.80" stroke="#333" stroke-width="1.1" />
<line x1="421.08" y1="129.60" x2="421.08" y2="128.10" stroke="#333" stroke-width="1.1" />
<line x1="488.03" y1="129.60" x2="488.03" y2="128.10" stroke="#333" stroke-width="1.1" />
<line x1="554.98" y1="129.60" x2="554.98" y2="128.10" stroke="#333" stroke-width="1.1" />
<line x1="621.92" y1="129.60" x2="621.92" y2="128.10" stroke="#333" stroke-width="1.1" />
<text x="387.60" y="137.60" font-size="6.8" text-anchor="middle" fill="#1a1a1a" stroke="#1a1a1a" stroke-width="0.18" >0</text>
<text x="454.55" y="137.60" font-size="6.8" text-anchor="middle" fill="#1a1a1a" stroke="#1a1a1a" stroke-width="0.18" >25</text>
<text x="521.50" y="137.60" font-size="6.8" text-anchor="middle" fill="#1a1a1a" stroke="#1a1a1a" stroke-width="0.18" >50</text>
<text x="588.45" y="137.60" font-size="6.8" text-anchor="middle" fill="#1a1a1a" stroke="#1a1a1a" stroke-width="0.18" >75</text>
<text x="655.40" y="137.60" font-size="6.8" text-anchor="middle" fill="#1a1a1a" stroke="#1a1a1a" stroke-width="0.18" >100</text>
<line x1="660.30" y1="11.40" x2="657.10" y2="11.40" stroke="#4a82bf" stroke-width="1.1" />
<text x="664.20" y="14.00" font-size="7.4" text-anchor="start" fill="#1a1a1a" stroke="#1a1a1a" stroke-width="0.18" >100</text>
<line x1="660.30" y1="32.26" x2="657.10" y2="32.26" stroke="#4a82bf" stroke-width="1.1" />
<text x="664.20" y="34.86" font-size="7.4" text-anchor="start" fill="#1a1a1a" stroke="#1a1a1a" stroke-width="0.18" >98</text>
<line x1="660.30" y1="53.12" x2="657.10" y2="53.12" stroke="#4a82bf" stroke-width="1.1" />
<text x="664.20" y="55.72" font-size="7.4" text-anchor="start" fill="#1a1a1a" stroke="#1a1a1a" stroke-width="0.18" >96</text>
<line x1="660.30" y1="21.83" x2="658.30" y2="21.83" stroke="#4a82bf" stroke-width="1.1" />
<line x1="660.30" y1="42.69" x2="658.30" y2="42.69" stroke="#4a82bf" stroke-width="1.1" />
<text x="664.20" y="131.80" font-size="7.4" text-anchor="start" fill="#1a1a1a" stroke="#1a1a1a" stroke-width="0.18" >0</text>
<rect x="657.3" y="63.2" width="6" height="2.2" fill="#fff"/>
<line x1="657.10" y1="64.60" x2="663.50" y2="62.60" stroke="#4a82bf" stroke-width="0.9" />
<line x1="657.10" y1="66.40" x2="663.50" y2="64.40" stroke="#4a82bf" stroke-width="0.9" />
<text x="522.20" y="146.30" font-size="9.3" text-anchor="middle" fill="#1a1a1a" stroke="#1a1a1a" stroke-width="0.18" >Cycle number (n)</text>
<text x="0" y="0" transform="translate(363.20,67.60) rotate(-90)" font-size="9.3" text-anchor="middle" fill="#1a1a1a" stroke="#1a1a1a" stroke-width="0.18">Specific capacity (mA h g<tspan dy="-3.53" font-size="5.77">-1</tspan><tspan dy="3.5">)</tspan></text>
<text x="0" y="0" transform="translate(682.00,66.90) rotate(-90)" font-size="8.5" text-anchor="middle" fill="#1a1a1a" stroke="#1a1a1a" stroke-width="0.18">Coulombic efficiency (%)</text>
<text x="362.30" y="9.60" font-size="12.5" text-anchor="start" fill="#111" stroke="#111" stroke-width="0.18" font-weight="bold" >c</text>
<text x="382.60" y="9.00" font-size="7.2" text-anchor="start" fill="#1a1a1a" stroke="#1a1a1a" stroke-width="0.18" >86.5 mA g<tspan dy="-2.74" font-size="4.46">-1</tspan></text>
<g fill="#fff" stroke="#a8283d" stroke-width="1.3"><circle cx="393.00" cy="96.40" r="1.8"/></g>
<text x="397.80" y="99.00" font-size="7.4" text-anchor="start" fill="#1a1a1a" stroke="#1a1a1a" stroke-width="0.18" >O3-Na0.67</text>
<g fill="#fff" stroke="#67b3d9" stroke-width="1.3"><circle cx="393.00" cy="106.50" r="1.8"/></g>
<text x="397.80" y="109.10" font-size="7.4" text-anchor="start" fill="#1a1a1a" stroke="#1a1a1a" stroke-width="0.18" >Exp 18h</text>
<g fill="#fff" stroke="#3b78b4" stroke-width="1.3"><circle cx="393.00" cy="116.70" r="1.8"/></g>
<text x="397.80" y="119.30" font-size="7.4" text-anchor="start" fill="#1a1a1a" stroke="#1a1a1a" stroke-width="0.18" >Water 12h</text>
<path d="M424.20,63.00 L424.20,73.90 L403.50,73.90" fill="none" stroke="#111" stroke-width="1.0" stroke-linejoin="round" />
<path d="M400.3,73.9 L404.6,72.2 L404.6,75.6 Z" fill="#111"/>
<path d="M630.90,20.90 L630.90,28.40 L652.00,28.40" fill="none" stroke="#111" stroke-width="1.0" stroke-linejoin="round" />
<path d="M655.3,28.4 L651,26.7 L651,30.1 Z" fill="#111"/>
<text x="653.80" y="48.00" font-size="7.5" text-anchor="end" fill="#a8283d" stroke="#a8283d" stroke-width="0.18" >94.11%</text>
<text x="653.80" y="70.80" font-size="7.5" text-anchor="end" fill="#67b3d9" stroke="#67b3d9" stroke-width="0.18" >94.65%</text>
<text x="653.80" y="82.00" font-size="7.5" text-anchor="end" fill="#3b78b4" stroke="#3b78b4" stroke-width="0.18" >96.15%</text>
<defs><linearGradient id="dscg" x1="0" y1="0" x2="0" y2="1"><stop offset="0" stop-color="#7e9ccc"/><stop offset="0.55" stop-color="#b9c9e4"/><stop offset="1" stop-color="#f4f6fb"/></linearGradient></defs>
<path d="M100.00,256.80 C100.83,256.70 103.33,256.48 105.00,256.20 C106.67,255.92 108.50,255.63 110.00,255.10 C111.50,254.57 112.67,254.00 114.00,253.00 C115.33,252.00 116.83,250.60 118.00,249.10 C119.17,247.60 119.98,246.33 121.00,244.00 C122.02,241.67 123.18,237.77 124.10,235.10 C125.02,232.43 125.67,230.33 126.50,228.00 C127.33,225.67 128.35,223.10 129.10,221.10 C129.85,219.10 130.33,217.45 131.00,216.00 C131.67,214.55 132.43,213.25 133.10,212.40 C133.77,211.55 134.33,211.20 135.00,210.90 C135.67,210.60 136.35,210.60 137.10,210.60 C137.85,210.60 138.77,210.58 139.50,210.90 C140.23,211.22 140.90,211.82 141.50,212.50 C142.10,213.18 142.52,213.75 143.10,215.00 C143.68,216.25 144.33,217.98 145.00,220.00 C145.67,222.02 146.43,225.02 147.10,227.10 C147.77,229.18 148.33,230.83 149.00,232.50 C149.67,234.17 150.43,235.77 151.10,237.10 C151.77,238.43 152.33,239.50 153.00,240.50 C153.67,241.50 154.43,242.47 155.10,243.10 C155.77,243.73 156.33,243.97 157.00,244.30 C157.67,244.63 158.35,244.65 159.10,245.10 C159.85,245.55 160.67,246.33 161.50,247.00 C162.33,247.67 163.35,248.57 164.10,249.10 C164.85,249.63 165.32,249.80 166.00,250.20 C166.68,250.60 167.53,251.07 168.20,251.50 C168.87,251.93 169.33,252.37 170.00,252.80 C170.67,253.23 171.37,253.70 172.20,254.10 C173.03,254.50 174.00,254.87 175.00,255.20 C176.00,255.53 177.10,255.82 178.20,256.10 C179.30,256.38 181.03,256.77 181.60,256.90 L181.6,257.2 L97,257.2 Z" fill="url(#dscg)" stroke="none"/>
<path d="M28,270.5 L40,266 L50,264.3 L56.8,261.8 L66.8,262.1 L66.8,263.2 L50,266.6 L40,268.8 L28,272 Z" fill="#d5def0"/>
<path d="M23.70,272.60 C24.42,272.25 26.38,271.33 28.00,270.50 C29.62,269.67 31.40,268.35 33.40,267.60 C35.40,266.85 37.23,266.55 40.00,266.00 C42.77,265.45 47.20,265.00 50.00,264.30 C52.80,263.60 54.80,262.13 56.80,261.80 C58.80,261.47 60.33,262.25 62.00,262.30 C63.67,262.35 64.63,262.32 66.80,262.10 C68.97,261.88 72.22,261.33 75.00,261.00 C77.78,260.67 80.97,260.45 83.50,260.10 C86.03,259.75 88.12,259.32 90.20,258.90 C92.28,258.48 94.37,257.95 96.00,257.60 C97.63,257.25 98.50,257.03 100.00,256.80 C101.50,256.57 103.33,256.48 105.00,256.20 C106.67,255.92 108.50,255.63 110.00,255.10 C111.50,254.57 112.67,254.00 114.00,253.00 C115.33,252.00 116.83,250.60 118.00,249.10 C119.17,247.60 119.98,246.33 121.00,244.00 C122.02,241.67 123.18,237.77 124.10,235.10 C125.02,232.43 125.67,230.33 126.50,228.00 C127.33,225.67 128.35,223.10 129.10,221.10 C129.85,219.10 130.33,217.45 131.00,216.00 C131.67,214.55 132.43,213.25 133.10,212.40 C133.77,211.55 134.33,211.20 135.00,210.90 C135.67,210.60 136.35,210.60 137.10,210.60 C137.85,210.60 138.77,210.58 139.50,210.90 C140.23,211.22 140.90,211.82 141.50,212.50 C142.10,213.18 142.52,213.75 143.10,215.00 C143.68,216.25 144.33,217.98 145.00,220.00 C145.67,222.02 146.43,225.02 147.10,227.10 C147.77,229.18 148.33,230.83 149.00,232.50 C149.67,234.17 150.43,235.77 151.10,237.10 C151.77,238.43 152.33,239.50 153.00,240.50 C153.67,241.50 154.43,242.47 155.10,243.10 C155.77,243.73 156.33,243.97 157.00,244.30 C157.67,244.63 158.35,244.65 159.10,245.10 C159.85,245.55 160.67,246.33 161.50,247.00 C162.33,247.67 163.35,248.57 164.10,249.10 C164.85,249.63 165.32,249.80 166.00,250.20 C166.68,250.60 167.53,251.07 168.20,251.50 C168.87,251.93 169.33,252.37 170.00,252.80 C170.67,253.23 171.37,253.70 172.20,254.10 C173.03,254.50 174.00,254.87 175.00,255.20 C176.00,255.53 177.10,255.82 178.20,256.10 C179.30,256.38 181.03,256.77 181.60,256.90" fill="none" stroke="#3f74b3" stroke-width="1.2"/>
<line x1="96.00" y1="257.20" x2="181.60" y2="257.20" stroke="#3f74b3" stroke-width="1.0" />
<rect x="44.2" y="153.4" width="79.0" height="63.69999999999999" fill="#fff" stroke="#444" stroke-width="0.8"/>
<path d="M44.20,159.20 C45.17,159.03 47.92,158.53 50.00,158.20 C52.08,157.87 54.87,157.33 56.70,157.20 C58.53,157.07 59.33,157.03 61.00,157.40 C62.67,157.77 64.63,158.83 66.70,159.40 C68.77,159.97 71.18,160.20 73.40,160.80 C75.62,161.40 78.20,162.15 80.00,163.00 C81.80,163.85 83.20,164.98 84.20,165.90 C85.20,166.82 85.43,167.40 86.00,168.50 C86.57,169.60 87.10,171.08 87.60,172.50 C88.10,173.92 88.58,175.18 89.00,177.00 C89.42,178.82 89.70,181.07 90.10,183.40 C90.50,185.73 90.98,188.50 91.40,191.00 C91.82,193.50 92.17,196.15 92.60,198.40 C93.03,200.65 93.45,202.75 94.00,204.50 C94.55,206.25 95.23,207.85 95.90,208.90 C96.57,209.95 97.02,210.27 98.00,210.80 C98.98,211.33 100.47,211.83 101.80,212.10 C103.13,212.37 104.62,212.32 106.00,212.40 C107.38,212.48 108.30,212.43 110.10,212.60 C111.90,212.77 114.62,213.20 116.80,213.40 C118.98,213.60 122.13,213.73 123.20,213.80" fill="none" stroke="#3f74b3" stroke-width="1.1"/>
<line x1="44.20" y1="159.60" x2="46.00" y2="159.60" stroke="#444" stroke-width="0.7" />
<text x="43.60" y="161.50" font-size="5.4" text-anchor="end" fill="#1a1a1a" stroke="#1a1a1a" stroke-width="0.18" >100</text>
<line x1="44.20" y1="171.32" x2="46.00" y2="171.32" stroke="#444" stroke-width="0.7" />
<text x="43.60" y="173.22" font-size="5.4" text-anchor="end" fill="#1a1a1a" stroke="#1a1a1a" stroke-width="0.18" >90</text>
<line x1="44.20" y1="183.04" x2="46.00" y2="183.04" stroke="#444" stroke-width="0.7" />
<text x="43.60" y="184.94" font-size="5.4" text-anchor="end" fill="#1a1a1a" stroke="#1a1a1a" stroke-width="0.18" >80</text>
<line x1="44.20" y1="194.76" x2="46.00" y2="194.76" stroke="#444" stroke-width="0.7" />
<text x="43.60" y="196.66" font-size="5.4" text-anchor="end" fill="#1a1a1a" stroke="#1a1a1a" stroke-width="0.18" >70</text>
<line x1="44.20" y1="206.48" x2="46.00" y2="206.48" stroke="#444" stroke-width="0.7" />
<text x="43.60" y="208.38" font-size="5.4" text-anchor="end" fill="#1a1a1a" stroke="#1a1a1a" stroke-width="0.18" >60</text>
<line x1="44.20" y1="165.46" x2="45.30" y2="165.46" stroke="#444" stroke-width="0.7" />
<line x1="44.20" y1="177.18" x2="45.30" y2="177.18" stroke="#444" stroke-width="0.7" />
<line x1="44.20" y1="188.90" x2="45.30" y2="188.90" stroke="#444" stroke-width="0.7" />
<line x1="44.20" y1="200.62" x2="45.30" y2="200.62" stroke="#444" stroke-width="0.7" />
<line x1="44.20" y1="212.34" x2="45.30" y2="212.34" stroke="#444" stroke-width="0.7" />
<line x1="59.70" y1="217.10" x2="59.70" y2="215.30" stroke="#444" stroke-width="0.7" />
<line x1="80.17" y1="217.10" x2="80.17" y2="215.30" stroke="#444" stroke-width="0.7" />
<line x1="100.64" y1="217.10" x2="100.64" y2="215.30" stroke="#444" stroke-width="0.7" />
<line x1="49.47" y1="217.10" x2="49.47" y2="216.00" stroke="#444" stroke-width="0.7" />
<line x1="69.94" y1="217.10" x2="69.94" y2="216.00" stroke="#444" stroke-width="0.7" />
<line x1="90.41" y1="217.10" x2="90.41" y2="216.00" stroke="#444" stroke-width="0.7" />
<line x1="110.88" y1="217.10" x2="110.88" y2="216.00" stroke="#444" stroke-width="0.7" />
<text x="59.70" y="222.40" font-size="5.6" text-anchor="middle" fill="#1a1a1a" stroke="#1a1a1a" stroke-width="0.18" >100</text>
<text x="80.17" y="222.40" font-size="5.6" text-anchor="middle" fill="#1a1a1a" stroke="#1a1a1a" stroke-width="0.18" >200</text>
<text x="100.64" y="222.40" font-size="5.6" text-anchor="middle" fill="#1a1a1a" stroke="#1a1a1a" stroke-width="0.18" >300</text>
<text x="121.11" y="222.40" font-size="5.6" text-anchor="middle" fill="#1a1a1a" stroke="#1a1a1a" stroke-width="0.18" >400</text>
<text x="83.40" y="229.40" font-size="7.2" text-anchor="middle" fill="#1a1a1a" stroke="#1a1a1a" stroke-width="0.18" >T ( C )</text>
<text x="0" y="0" transform="translate(33.60,184.80) rotate(-90)" font-size="6.9" text-anchor="middle" fill="#1a1a1a" stroke="#1a1a1a" stroke-width="0.18">Residual mass (%)</text>
<rect x="23.6" y="150.7" width="158.0" height="127.19999999999999" fill="none" stroke="#333" stroke-width="1.15"/>
<line x1="23.60" y1="259.60" x2="26.00" y2="259.60" stroke="#333" stroke-width="1.1" />
<line x1="23.60" y1="223.30" x2="26.00" y2="223.30" stroke="#333" stroke-width="1.1" />
<line x1="23.60" y1="187.00" x2="26.00" y2="187.00" stroke="#333" stroke-width="1.1" />
<line x1="23.60" y1="241.45" x2="25.10" y2="241.45" stroke="#333" stroke-width="1.1" />
<line x1="23.60" y1="205.15" x2="25.10" y2="205.15" stroke="#333" stroke-width="1.1" />
<line x1="23.60" y1="168.85" x2="25.10" y2="168.85" stroke="#333" stroke-width="1.1" />
<text x="21.50" y="262.30" font-size="7.6" text-anchor="end" fill="#1a1a1a" stroke="#1a1a1a" stroke-width="0.18" >0.0</text>
<text x="21.50" y="226.00" font-size="7.6" text-anchor="end" fill="#1a1a1a" stroke="#1a1a1a" stroke-width="0.18" >0.5</text>
<text x="21.50" y="189.70" font-size="7.6" text-anchor="end" fill="#1a1a1a" stroke="#1a1a1a" stroke-width="0.18" >1.0</text>
<text x="21.50" y="153.40" font-size="7.6" text-anchor="end" fill="#1a1a1a" stroke="#1a1a1a" stroke-width="0.18" >1.5</text>
<line x1="35.40" y1="277.90" x2="35.40" y2="275.70" stroke="#333" stroke-width="1.1" />
<line x1="71.95" y1="277.90" x2="71.95" y2="275.70" stroke="#333" stroke-width="1.1" />
<line x1="108.50" y1="277.90" x2="108.50" y2="275.70" stroke="#333" stroke-width="1.1" />
<line x1="145.05" y1="277.90" x2="145.05" y2="275.70" stroke="#333" stroke-width="1.1" />
<line x1="53.67" y1="277.90" x2="53.67" y2="276.50" stroke="#333" stroke-width="1.1" />
<line x1="90.22" y1="277.90" x2="90.22" y2="276.50" stroke="#333" stroke-width="1.1" />
<line x1="126.77" y1="277.90" x2="126.77" y2="276.50" stroke="#333" stroke-width="1.1" />
<line x1="163.32" y1="277.90" x2="163.32" y2="276.50" stroke="#333" stroke-width="1.1" />
<text x="35.40" y="288.10" font-size="7.6" text-anchor="middle" fill="#1a1a1a" stroke="#1a1a1a" stroke-width="0.18" >180</text>
<text x="71.95" y="288.10" font-size="7.6" text-anchor="middle" fill="#1a1a1a" stroke="#1a1a1a" stroke-width="0.18" >210</text>
<text x="108.50" y="288.10" font-size="7.6" text-anchor="middle" fill="#1a1a1a" stroke="#1a1a1a" stroke-width="0.18" >240</text>
<text x="145.05" y="288.10" font-size="7.6" text-anchor="middle" fill="#1a1a1a" stroke="#1a1a1a" stroke-width="0.18" >270</text>
<text x="181.60" y="288.10" font-size="7.6" text-anchor="middle" fill="#1a1a1a" stroke="#1a1a1a" stroke-width="0.18" >300</text>
<text x="101.20" y="297.00" font-size="9.2" text-anchor="middle" fill="#1a1a1a" stroke="#1a1a1a" stroke-width="0.18" >Temperature (°C )</text>
<text x="0" y="0" transform="translate(8.40,214.30) rotate(-90)" font-size="9" text-anchor="middle" fill="#1a1a1a" stroke="#1a1a1a" stroke-width="0.18">DSC (W g<tspan dy="-3.42" font-size="5.58">-1</tspan><tspan dy="3.4">)</tspan></text>
<text x="2.40" y="159.60" font-size="12.5" text-anchor="start" fill="#111" stroke="#111" stroke-width="0.18" font-weight="bold" >d</text>
<text x="139.10" y="202.00" font-size="7.4" text-anchor="start" fill="#1a1a1a" stroke="#1a1a1a" stroke-width="0.18" >263.87 °C</text>
<text x="125.70" y="255.30" font-size="7.4" text-anchor="start" fill="#1a1a1a" stroke="#1a1a1a" stroke-width="0.18" >208.2 J g<tspan dy="-2.81" font-size="4.59">-1</tspan></text>
<defs><linearGradient id="elg" x1="0" y1="0" x2="1" y2="0"><stop offset="0" stop-color="#d3d6ee"/><stop offset="0.45" stop-color="#fbfbfd"/><stop offset="0.62" stop-color="#fdf9f8"/><stop offset="1" stop-color="#e4c9c5"/></linearGradient></defs>
<rect x="199.1" y="198.7" width="154.6" height="79" fill="#fff" stroke="#7f7f7f" stroke-width="2.2"/>
<rect x="200.2" y="199.8" width="35.6" height="76.8" fill="#b8c3dc"/>
<rect x="236.2" y="199.8" width="79" height="76.8" fill="url(#elg)"/>
<rect x="315.6" y="199.8" width="37" height="76.8" fill="#d7aba6"/>
<line x1="236.10" y1="199.80" x2="236.10" y2="276.60" stroke="#3a7cc1" stroke-width="1.4" />
<line x1="315.50" y1="199.80" x2="315.50" y2="276.60" stroke="#b02a3e" stroke-width="1.4" />
<text x="218.60" y="243.30" font-size="22.5" text-anchor="middle" fill="#231f20" stroke="#231f20" stroke-width="0.18" font-weight="bold" >K</text>
<text x="241.50" y="245.20" font-size="10.6" text-anchor="start" fill="#4d4646" stroke="#4d4646" stroke-width="0.18" font-weight="bold" >K<tspan dy="-3.6" font-size="6.5">+</tspan><tspan dy="3.6"> Electrolyte</tspan></text>
<text x="319.10" y="233.90" font-size="10.3" text-anchor="start" fill="#3f3a3a" stroke="#3f3a3a" stroke-width="0.18" font-weight="bold" >O3-</text>
<text x="319.10" y="245.30" font-size="10.3" text-anchor="start" fill="#3f3a3a" stroke="#3f3a3a" stroke-width="0.18" font-weight="bold" >Na0.67</text>
<path d="M314.9,214.4 C308,216 304,222.5 297.5,221.8 C290,221 287,213 280,212.3 C274,211.6 268,211.5 264.5,211.6" fill="none" stroke="#a8283c" stroke-width="2.1"/>
<path d="M259.8,211.6 L265.4,208.9 L264.6,211.6 L265.4,214.3 Z" fill="#a8283c" stroke="#a8283c" stroke-width="0.6" stroke-linejoin="round"/>
<path d="M236.6,262.4 C242,264 248,271.5 255,270.9 C263,270.2 266,260.5 275,259.8 C280,259.6 284,259.7 289.3,259.7" fill="none" stroke="#3a7cc1" stroke-width="2.0"/>
<path d="M293.8,259.7 L288.4,257.1 L289.2,259.7 L288.4,262.3 Z" fill="#3a7cc1" stroke="#3a7cc1" stroke-width="0.6" stroke-linejoin="round"/>
<text x="282.00" y="211.20" font-size="7.5" text-anchor="start" fill="#333" stroke="#333" stroke-width="0.18" font-weight="bold" >charge</text>
<text x="257.60" y="225.70" font-size="7.0" text-anchor="start" fill="#333" stroke="#333" stroke-width="0.18" font-weight="bold" >Na<tspan dy="-2.6" font-size="4.6">+</tspan></text>
<text x="239.80" y="259.30" font-size="7.6" text-anchor="start" fill="#333" stroke="#333" stroke-width="0.18" font-weight="bold" >discharge</text>
<text x="283.80" y="271.70" font-size="7.0" text-anchor="start" fill="#333" stroke="#333" stroke-width="0.18" font-weight="bold" >K<tspan dy="-2.6" font-size="4.6">+</tspan></text>
<path d="M217.60,197.60 L217.60,179.20 L248.10,179.20" fill="none" stroke="#1a1a1a" stroke-width="1.3" stroke-linejoin="round" />
<path d="M303.90,179.20 L334.60,179.20 L334.60,197.60" fill="none" stroke="#1a1a1a" stroke-width="1.3" stroke-linejoin="round" />
<path d="M242.3,179.2 L237.6,177.2 L238.6,179.2 L237.6,181.2 Z" fill="#1a1a1a"/>
<path d="M310.0,179.2 L314.7,177.2 L313.7,179.2 L314.7,181.2 Z" fill="#1a1a1a"/>
<rect x="248.1" y="167.9" width="55.8" height="21.7" fill="#fff" stroke="#1a1a1a" stroke-width="1.3"/>
<text x="276.00" y="181.40" font-size="7.9" text-anchor="middle" fill="#333" stroke="#333" stroke-width="0.18" font-weight="bold" >Load/charger</text>
<text x="189.00" y="160.90" font-size="12.5" text-anchor="start" fill="#111" stroke="#111" stroke-width="0.18" font-weight="bold" >e</text>
<text x="205.90" y="159.60" font-size="9.2" text-anchor="start" fill="#333" stroke="#333" stroke-width="0.18" font-weight="bold" >discharge</text>
<text x="310.90" y="158.60" font-size="9.1" text-anchor="start" fill="#333" stroke="#333" stroke-width="0.18" font-weight="bold" >charge</text>
<text x="222.00" y="173.40" font-size="10" text-anchor="start" fill="#222" stroke="#222" stroke-width="0.18" font-weight="bold" >e<tspan dy="-3.8" font-size="7.5">-</tspan></text>
<text x="320.00" y="173.90" font-size="10" text-anchor="start" fill="#222" stroke="#222" stroke-width="0.18" font-weight="bold" >e<tspan dy="-3.8" font-size="7.5">-</tspan></text>
<path d="M390.20,155.00 L392.91,180.60 L395.62,182.80" fill="none" stroke="#a8283d" stroke-width="0.7" stroke-linejoin="round" />
<path d="M390.20,195.10 L392.91,197.50 L395.62,199.50" fill="none" stroke="#a8283d" stroke-width="0.6" stroke-linejoin="round" />
<g fill="#fff" stroke="#a8283d" stroke-width="1.1"><circle cx="390.20" cy="195.10" r="1.45"/><circle cx="392.91" cy="197.50" r="1.45"/><circle cx="395.62" cy="199.50" r="1.45"/><circle cx="398.32" cy="200.99" r="1.45"/><circle cx="401.02" cy="201.05" r="1.45"/><circle cx="403.73" cy="201.39" r="1.45"/><circle cx="406.44" cy="201.40" r="1.45"/><circle cx="409.14" cy="201.62" r="1.45"/><circle cx="411.85" cy="201.88" r="1.45"/><circle cx="414.55" cy="202.17" r="1.45"/><circle cx="417.25" cy="202.40" r="1.45"/><circle cx="419.96" cy="202.44" r="1.45"/><circle cx="422.67" cy="202.68" r="1.45"/><circle cx="425.37" cy="203.08" r="1.45"/><circle cx="428.07" cy="203.30" r="1.45"/><circle cx="430.78" cy="203.38" r="1.45"/><circle cx="433.49" cy="203.39" r="1.45"/><circle cx="436.19" cy="203.75" r="1.45"/><circle cx="438.89" cy="204.04" r="1.45"/><circle cx="441.60" cy="204.12" r="1.45"/><circle cx="444.31" cy="204.24" r="1.45"/><circle cx="447.01" cy="204.84" r="1.45"/><circle cx="449.72" cy="205.04" r="1.45"/><circle cx="452.42" cy="204.95" r="1.45"/><circle cx="455.12" cy="205.31" r="1.45"/><circle cx="457.83" cy="205.60" r="1.45"/><circle cx="460.53" cy="205.70" r="1.45"/><circle cx="463.24" cy="205.83" r="1.45"/><circle cx="465.94" cy="206.34" r="1.45"/><circle cx="468.65" cy="206.57" r="1.45"/><circle cx="471.36" cy="206.67" r="1.45"/><circle cx="474.06" cy="206.76" r="1.45"/><circle cx="476.76" cy="207.12" r="1.45"/><circle cx="479.47" cy="207.24" r="1.45"/><circle cx="482.18" cy="207.82" r="1.45"/><circle cx="484.88" cy="207.69" r="1.45"/><circle cx="487.59" cy="208.02" r="1.45"/><circle cx="490.29" cy="208.45" r="1.45"/><circle cx="493.00" cy="208.43" r="1.45"/><circle cx="495.70" cy="208.66" r="1.45"/><circle cx="498.40" cy="208.89" r="1.45"/><circle cx="501.11" cy="209.16" r="1.45"/><circle cx="503.81" cy="209.55" r="1.45"/><circle cx="506.52" cy="209.91" r="1.45"/><circle cx="509.23" cy="209.89" r="1.45"/><circle cx="511.93" cy="210.13" r="1.45"/><circle cx="514.63" cy="210.61" r="1.45"/><circle cx="517.34" cy="210.72" r="1.45"/><circle cx="520.05" cy="210.93" r="1.45"/><circle cx="522.75" cy="211.09" r="1.45"/><circle cx="525.46" cy="211.38" r="1.45"/><circle cx="528.16" cy="211.92" r="1.45"/><circle cx="530.87" cy="211.82" r="1.45"/><circle cx="533.57" cy="212.13" r="1.45"/><circle cx="536.27" cy="212.57" r="1.45"/><circle cx="538.98" cy="212.87" r="1.45"/><circle cx="541.68" cy="213.13" r="1.45"/><circle cx="544.39" cy="213.20" r="1.45"/><circle cx="547.10" cy="213.65" r="1.45"/><circle cx="549.80" cy="213.75" r="1.45"/><circle cx="552.50" cy="213.88" r="1.45"/><circle cx="555.21" cy="214.20" r="1.45"/><circle cx="557.91" cy="214.55" r="1.45"/><circle cx="560.62" cy="214.81" r="1.45"/><circle cx="563.33" cy="214.82" r="1.45"/><circle cx="566.03" cy="215.10" r="1.45"/><circle cx="568.74" cy="215.65" r="1.45"/><circle cx="571.44" cy="215.57" r="1.45"/><circle cx="574.14" cy="216.10" r="1.45"/><circle cx="576.85" cy="216.17" r="1.45"/><circle cx="579.56" cy="216.38" r="1.45"/><circle cx="582.26" cy="216.64" r="1.45"/><circle cx="584.97" cy="216.98" r="1.45"/><circle cx="587.67" cy="217.45" r="1.45"/><circle cx="590.38" cy="217.36" r="1.45"/><circle cx="593.08" cy="217.90" r="1.45"/><circle cx="595.78" cy="217.95" r="1.45"/><circle cx="598.49" cy="218.14" r="1.45"/><circle cx="601.19" cy="218.63" r="1.45"/><circle cx="603.90" cy="218.72" r="1.45"/><circle cx="606.61" cy="218.92" r="1.45"/><circle cx="609.31" cy="219.27" r="1.45"/><circle cx="612.01" cy="219.69" r="1.45"/><circle cx="614.72" cy="219.97" r="1.45"/><circle cx="617.42" cy="220.11" r="1.45"/><circle cx="620.13" cy="220.14" r="1.45"/><circle cx="622.84" cy="220.70" r="1.45"/><circle cx="625.54" cy="220.90" r="1.45"/><circle cx="628.25" cy="221.28" r="1.45"/><circle cx="630.95" cy="221.56" r="1.45"/><circle cx="633.65" cy="221.57" r="1.45"/><circle cx="636.36" cy="222.04" r="1.45"/><circle cx="639.07" cy="222.29" r="1.45"/><circle cx="641.77" cy="222.33" r="1.45"/><circle cx="644.48" cy="222.63" r="1.45"/><circle cx="647.18" cy="222.90" r="1.45"/><circle cx="649.88" cy="223.15" r="1.45"/><circle cx="652.59" cy="223.42" r="1.45"/><circle cx="655.30" cy="223.58" r="1.45"/><circle cx="658.00" cy="223.89" r="1.45"/></g>
<g fill="#a8283d" stroke="none"><circle cx="392.91" cy="180.60" r="1.95"/><circle cx="395.62" cy="182.80" r="1.95"/><circle cx="398.32" cy="184.30" r="1.95"/><circle cx="401.02" cy="185.98" r="1.95"/><circle cx="403.73" cy="184.80" r="1.95"/><circle cx="406.44" cy="184.90" r="1.95"/><circle cx="409.14" cy="185.86" r="1.95"/><circle cx="411.85" cy="185.88" r="1.95"/><circle cx="414.55" cy="184.88" r="1.95"/><circle cx="417.25" cy="185.18" r="1.95"/><circle cx="419.96" cy="185.48" r="1.95"/><circle cx="422.67" cy="185.32" r="1.95"/><circle cx="425.37" cy="185.51" r="1.95"/><circle cx="428.07" cy="185.66" r="1.95"/><circle cx="430.78" cy="185.48" r="1.95"/><circle cx="433.49" cy="185.31" r="1.95"/><circle cx="436.19" cy="185.42" r="1.95"/><circle cx="438.89" cy="185.59" r="1.95"/><circle cx="441.60" cy="185.28" r="1.95"/><circle cx="444.31" cy="185.68" r="1.95"/><circle cx="447.01" cy="185.54" r="1.95"/><circle cx="449.72" cy="184.78" r="1.95"/><circle cx="452.42" cy="185.18" r="1.95"/><circle cx="455.12" cy="184.87" r="1.95"/><circle cx="457.83" cy="184.18" r="1.95"/><circle cx="460.53" cy="184.12" r="1.95"/><circle cx="463.24" cy="183.53" r="1.95"/><circle cx="465.94" cy="184.18" r="1.95"/><circle cx="468.65" cy="183.51" r="1.95"/><circle cx="471.36" cy="182.66" r="1.95"/><circle cx="474.06" cy="182.55" r="1.95"/><circle cx="476.76" cy="182.96" r="1.95"/><circle cx="479.47" cy="182.36" r="1.95"/><circle cx="482.18" cy="183.04" r="1.95"/><circle cx="484.88" cy="182.73" r="1.95"/><circle cx="487.59" cy="183.68" r="1.95"/><circle cx="490.29" cy="183.96" r="1.95"/><circle cx="493.00" cy="182.81" r="1.95"/><circle cx="495.70" cy="183.10" r="1.95"/><circle cx="498.40" cy="182.33" r="1.95"/><circle cx="501.11" cy="182.65" r="1.95"/><circle cx="503.81" cy="182.46" r="1.95"/><circle cx="506.52" cy="182.15" r="1.95"/><circle cx="509.23" cy="181.18" r="1.95"/><circle cx="511.93" cy="180.71" r="1.95"/><circle cx="514.63" cy="181.29" r="1.95"/><circle cx="517.34" cy="181.06" r="1.95"/><circle cx="520.05" cy="180.43" r="1.95"/><circle cx="522.75" cy="180.39" r="1.95"/><circle cx="525.46" cy="180.74" r="1.95"/><circle cx="528.16" cy="180.06" r="1.95"/><circle cx="530.87" cy="180.58" r="1.95"/><circle cx="533.57" cy="180.00" r="1.95"/><circle cx="536.27" cy="179.91" r="1.95"/><circle cx="538.98" cy="180.01" r="1.95"/><circle cx="541.68" cy="180.04" r="1.95"/><circle cx="544.39" cy="180.17" r="1.95"/><circle cx="547.10" cy="179.24" r="1.95"/><circle cx="549.80" cy="179.97" r="1.95"/><circle cx="552.50" cy="179.27" r="1.95"/><circle cx="555.21" cy="180.05" r="1.95"/><circle cx="557.91" cy="181.17" r="1.95"/><circle cx="560.62" cy="183.83" r="1.95"/><circle cx="563.33" cy="186.34" r="1.95"/><circle cx="566.03" cy="186.08" r="1.95"/><circle cx="568.74" cy="184.25" r="1.95"/><circle cx="571.44" cy="183.31" r="1.95"/><circle cx="574.14" cy="182.33" r="1.95"/><circle cx="576.85" cy="180.11" r="1.95"/><circle cx="579.56" cy="179.82" r="1.95"/><circle cx="582.26" cy="179.74" r="1.95"/><circle cx="584.97" cy="180.23" r="1.95"/><circle cx="587.67" cy="180.13" r="1.95"/><circle cx="590.38" cy="179.84" r="1.95"/><circle cx="593.08" cy="179.96" r="1.95"/><circle cx="595.78" cy="179.60" r="1.95"/><circle cx="598.49" cy="178.85" r="1.95"/><circle cx="601.19" cy="178.75" r="1.95"/><circle cx="603.90" cy="179.17" r="1.95"/><circle cx="606.61" cy="178.31" r="1.95"/><circle cx="609.31" cy="178.92" r="1.95"/><circle cx="612.01" cy="178.23" r="1.95"/><circle cx="614.72" cy="178.12" r="1.95"/><circle cx="617.42" cy="178.62" r="1.95"/><circle cx="620.13" cy="178.12" r="1.95"/><circle cx="622.84" cy="179.00" r="1.95"/><circle cx="625.54" cy="178.87" r="1.95"/><circle cx="628.25" cy="178.31" r="1.95"/><circle cx="630.95" cy="177.94" r="1.95"/><circle cx="633.65" cy="177.89" r="1.95"/><circle cx="636.36" cy="178.41" r="1.95"/><circle cx="639.07" cy="178.48" r="1.95"/><circle cx="641.77" cy="178.34" r="1.95"/><circle cx="644.48" cy="178.81" r="1.95"/><circle cx="647.18" cy="178.64" r="1.95"/><circle cx="649.88" cy="179.46" r="1.95"/><circle cx="652.59" cy="179.19" r="1.95"/><circle cx="655.30" cy="179.68" r="1.95"/><circle cx="658.00" cy="180.16" r="1.95"/></g>
<g fill="#a8283d" stroke="none"><circle cx="390.20" cy="155.00" r="1.9"/></g>
<line x1="382.00" y1="150.00" x2="382.00" y2="279.60" stroke="#333" stroke-width="1.3" />
<line x1="381.50" y1="279.10" x2="661.50" y2="279.10" stroke="#333" stroke-width="1.3" />
<line x1="661.50" y1="149.50" x2="661.50" y2="279.70" stroke="#4a82bf" stroke-width="1.2" />
<line x1="382.00" y1="150.00" x2="662.10" y2="150.00" stroke="#4a82bf" stroke-width="1.15" />
<line x1="382.00" y1="247.15" x2="385.40" y2="247.15" stroke="#333" stroke-width="1.1" />
<line x1="661.50" y1="247.15" x2="658.30" y2="247.15" stroke="#4a82bf" stroke-width="1.1" />
<line x1="382.00" y1="215.20" x2="385.40" y2="215.20" stroke="#333" stroke-width="1.1" />
<line x1="661.50" y1="215.20" x2="658.30" y2="215.20" stroke="#4a82bf" stroke-width="1.1" />
<line x1="382.00" y1="183.25" x2="385.40" y2="183.25" stroke="#333" stroke-width="1.1" />
<line x1="661.50" y1="183.25" x2="658.30" y2="183.25" stroke="#4a82bf" stroke-width="1.1" />
<line x1="382.00" y1="263.12" x2="384.20" y2="263.12" stroke="#333" stroke-width="1.1" />
<line x1="661.50" y1="263.12" x2="659.50" y2="263.12" stroke="#4a82bf" stroke-width="1.1" />
<line x1="382.00" y1="231.18" x2="384.20" y2="231.18" stroke="#333" stroke-width="1.1" />
<line x1="661.50" y1="231.18" x2="659.50" y2="231.18" stroke="#4a82bf" stroke-width="1.1" />
<line x1="382.00" y1="199.23" x2="384.20" y2="199.23" stroke="#333" stroke-width="1.1" />
<line x1="661.50" y1="199.23" x2="659.50" y2="199.23" stroke="#4a82bf" stroke-width="1.1" />
<line x1="382.00" y1="167.28" x2="384.20" y2="167.28" stroke="#333" stroke-width="1.1" />
<line x1="661.50" y1="167.28" x2="659.50" y2="167.28" stroke="#4a82bf" stroke-width="1.1" />
<text x="378.00" y="249.95" font-size="7.8" text-anchor="end" fill="#1a1a1a" stroke="#1a1a1a" stroke-width="0.18" >30</text>
<text x="664.00" y="249.95" font-size="7.8" text-anchor="start" fill="#1a1a1a" stroke="#1a1a1a" stroke-width="0.18" >30</text>
<text x="378.00" y="218.00" font-size="7.8" text-anchor="end" fill="#1a1a1a" stroke="#1a1a1a" stroke-width="0.18" >60</text>
<text x="664.00" y="218.00" font-size="7.8" text-anchor="start" fill="#1a1a1a" stroke="#1a1a1a" stroke-width="0.18" >60</text>
<text x="378.00" y="186.05" font-size="7.8" text-anchor="end" fill="#1a1a1a" stroke="#1a1a1a" stroke-width="0.18" >90</text>
<text x="664.00" y="186.05" font-size="7.8" text-anchor="start" fill="#1a1a1a" stroke="#1a1a1a" stroke-width="0.18" >90</text>
<text x="378.00" y="154.10" font-size="7.8" text-anchor="end" fill="#1a1a1a" stroke="#1a1a1a" stroke-width="0.18" >120</text>
<text x="664.00" y="154.10" font-size="7.8" text-anchor="start" fill="#1a1a1a" stroke="#1a1a1a" stroke-width="0.18" >120</text>
<text x="378.00" y="288.20" font-size="7.8" text-anchor="end" fill="#1a1a1a" stroke="#1a1a1a" stroke-width="0.18" >0</text>
<text x="664.60" y="288.20" font-size="7.8" text-anchor="start" fill="#1a1a1a" stroke="#1a1a1a" stroke-width="0.18" >0</text>
<line x1="387.50" y1="279.10" x2="387.50" y2="275.50" stroke="#333" stroke-width="1.1" />
<line x1="455.12" y1="279.10" x2="455.12" y2="276.70" stroke="#333" stroke-width="1.1" />
<line x1="522.75" y1="279.10" x2="522.75" y2="276.70" stroke="#333" stroke-width="1.1" />
<line x1="590.38" y1="279.10" x2="590.38" y2="276.70" stroke="#333" stroke-width="1.1" />
<line x1="658.00" y1="279.10" x2="658.00" y2="276.70" stroke="#333" stroke-width="1.1" />
<line x1="421.31" y1="279.10" x2="421.31" y2="277.60" stroke="#333" stroke-width="1.1" />
<line x1="488.94" y1="279.10" x2="488.94" y2="277.60" stroke="#333" stroke-width="1.1" />
<line x1="556.56" y1="279.10" x2="556.56" y2="277.60" stroke="#333" stroke-width="1.1" />
<line x1="624.19" y1="279.10" x2="624.19" y2="277.60" stroke="#333" stroke-width="1.1" />
<text x="387.50" y="288.00" font-size="7.6" text-anchor="middle" fill="#1a1a1a" stroke="#1a1a1a" stroke-width="0.18" >0</text>
<text x="455.12" y="288.00" font-size="7.6" text-anchor="middle" fill="#1a1a1a" stroke="#1a1a1a" stroke-width="0.18" >25</text>
<text x="522.75" y="288.00" font-size="7.6" text-anchor="middle" fill="#1a1a1a" stroke="#1a1a1a" stroke-width="0.18" >50</text>
<text x="590.38" y="288.00" font-size="7.6" text-anchor="middle" fill="#1a1a1a" stroke="#1a1a1a" stroke-width="0.18" >75</text>
<text x="658.00" y="288.00" font-size="7.6" text-anchor="middle" fill="#1a1a1a" stroke="#1a1a1a" stroke-width="0.18" >100</text>
<text x="524.20" y="296.80" font-size="9.3" text-anchor="middle" fill="#1a1a1a" stroke="#1a1a1a" stroke-width="0.18" >Cycle number (n)</text>
<text x="0" y="0" transform="translate(367.90,219.40) rotate(-90)" font-size="9.3" text-anchor="middle" fill="#1a1a1a" stroke="#1a1a1a" stroke-width="0.18">Specific capacity (mA h g<tspan dy="-3.53" font-size="5.77">-1</tspan><tspan dy="3.5">)</tspan></text>
<text x="0" y="0" transform="translate(682.60,215.70) rotate(-90)" font-size="9.2" text-anchor="middle" fill="#1a1a1a" stroke="#1a1a1a" stroke-width="0.18">Coulombic efficiency (%)</text>
<text x="355.80" y="157.60" font-size="12.5" text-anchor="start" fill="#111" stroke="#111" stroke-width="0.18" font-weight="bold" >f</text>
<text x="621.70" y="159.80" font-size="7.0" text-anchor="start" fill="#1a1a1a" stroke="#1a1a1a" stroke-width="0.18" >86.5 mA g<tspan dy="-2.66" font-size="4.34">-1</tspan></text>
<path d="M625.10,185.10 L625.10,192.40 L646.50,192.40" fill="none" stroke="#111" stroke-width="1.0" stroke-linejoin="round" />
<path d="M650,192.4 L645.6,190.7 L645.6,194.1 Z" fill="#111"/>
<text x="653.60" y="238.30" font-size="8.8" text-anchor="end" fill="#222" stroke="#222" stroke-width="0.18" >70.24%</text>
<g fill="#fff" stroke="#a8283d" stroke-width="1.2"><circle cx="597.50" cy="268.40" r="1.9"/></g>
<text x="602.90" y="271.60" font-size="8.3" text-anchor="start" fill="#1a1a1a" stroke="#1a1a1a" stroke-width="0.18" >K||O3-Na0.67</text>
<rect x="405.7" y="209.0" width="68.90000000000003" height="55.10000000000002" fill="#fff" stroke="#555" stroke-width="0.8"/>
<path d="M409.30,232.30 C409.35,231.83 409.40,230.22 409.60,229.50 C409.80,228.78 409.93,228.47 410.50,228.00 C411.07,227.53 412.08,227.03 413.00,226.70 C413.92,226.37 414.83,226.17 416.00,226.00 C417.17,225.83 418.50,225.95 420.00,225.70 C421.50,225.45 423.33,224.95 425.00,224.50 C426.67,224.05 428.33,223.48 430.00,223.00 C431.67,222.52 433.33,222.10 435.00,221.60 C436.67,221.10 438.33,220.52 440.00,220.00 C441.67,219.48 443.33,219.00 445.00,218.50 C446.67,218.00 448.33,217.68 450.00,217.00 C451.67,216.32 453.53,215.17 455.00,214.40 C456.47,213.63 458.17,212.73 458.80,212.40" fill="none" stroke="#a8283d" stroke-width="1.05"/>
<path d="M409.30,214.00 C410.08,214.43 412.22,215.60 414.00,216.60 C415.78,217.60 418.17,218.85 420.00,220.00 C421.83,221.15 423.33,222.33 425.00,223.50 C426.67,224.67 428.33,225.92 430.00,227.00 C431.67,228.08 433.33,229.18 435.00,230.00 C436.67,230.82 438.67,231.47 440.00,231.90 C441.33,232.33 442.00,232.25 443.00,232.60 C444.00,232.95 445.00,233.47 446.00,234.00 C447.00,234.53 448.00,235.12 449.00,235.80 C450.00,236.48 451.00,237.20 452.00,238.10 C453.00,239.00 454.00,240.03 455.00,241.20 C456.00,242.37 457.00,243.83 458.00,245.10 C459.00,246.37 460.00,247.63 461.00,248.80 C462.00,249.97 463.17,251.03 464.00,252.10 C464.83,253.17 465.42,254.13 466.00,255.20 C466.58,256.27 467.25,257.95 467.50,258.50" fill="none" stroke="#a8283d" stroke-width="1.05"/>
<line x1="405.70" y1="215.01" x2="407.50" y2="215.01" stroke="#555" stroke-width="0.7" />
<text x="404.20" y="216.91" font-size="5.4" text-anchor="end" fill="#1a1a1a" stroke="#1a1a1a" stroke-width="0.18" >3.75</text>
<line x1="405.70" y1="229.50" x2="407.50" y2="229.50" stroke="#555" stroke-width="0.7" />
<text x="404.20" y="231.41" font-size="5.4" text-anchor="end" fill="#1a1a1a" stroke="#1a1a1a" stroke-width="0.18" >3.00</text>
<line x1="405.70" y1="244.00" x2="407.50" y2="244.00" stroke="#555" stroke-width="0.7" />
<text x="404.20" y="245.90" font-size="5.4" text-anchor="end" fill="#1a1a1a" stroke="#1a1a1a" stroke-width="0.18" >2.25</text>
<line x1="405.70" y1="258.50" x2="407.50" y2="258.50" stroke="#555" stroke-width="0.7" />
<text x="404.20" y="260.40" font-size="5.4" text-anchor="end" fill="#1a1a1a" stroke="#1a1a1a" stroke-width="0.18" >1.50</text>
<line x1="405.70" y1="222.26" x2="406.80" y2="222.26" stroke="#555" stroke-width="0.7" />
<line x1="405.70" y1="236.75" x2="406.80" y2="236.75" stroke="#555" stroke-width="0.7" />
<line x1="405.70" y1="251.25" x2="406.80" y2="251.25" stroke="#555" stroke-width="0.7" />
<line x1="409.30" y1="264.10" x2="409.30" y2="262.30" stroke="#555" stroke-width="0.7" />
<text x="409.30" y="268.70" font-size="5.6" text-anchor="middle" fill="#1a1a1a" stroke="#1a1a1a" stroke-width="0.18" >0</text>
<line x1="423.72" y1="264.10" x2="423.72" y2="262.30" stroke="#555" stroke-width="0.7" />
<text x="423.72" y="268.70" font-size="5.6" text-anchor="middle" fill="#1a1a1a" stroke="#1a1a1a" stroke-width="0.18" >20</text>
<line x1="438.14" y1="264.10" x2="438.14" y2="262.30" stroke="#555" stroke-width="0.7" />
<text x="438.14" y="268.70" font-size="5.6" text-anchor="middle" fill="#1a1a1a" stroke="#1a1a1a" stroke-width="0.18" >40</text>
<line x1="452.56" y1="264.10" x2="452.56" y2="262.30" stroke="#555" stroke-width="0.7" />
<text x="452.56" y="268.70" font-size="5.6" text-anchor="middle" fill="#1a1a1a" stroke="#1a1a1a" stroke-width="0.18" >60</text>
<line x1="466.98" y1="264.10" x2="466.98" y2="262.30" stroke="#555" stroke-width="0.7" />
<text x="466.98" y="268.70" font-size="5.6" text-anchor="middle" fill="#1a1a1a" stroke="#1a1a1a" stroke-width="0.18" >80</text>
<line x1="416.51" y1="264.10" x2="416.51" y2="263.00" stroke="#555" stroke-width="0.7" />
<line x1="430.93" y1="264.10" x2="430.93" y2="263.00" stroke="#555" stroke-width="0.7" />
<line x1="445.35" y1="264.10" x2="445.35" y2="263.00" stroke="#555" stroke-width="0.7" />
<line x1="459.77" y1="264.10" x2="459.77" y2="263.00" stroke="#555" stroke-width="0.7" />
<text x="440.20" y="274.40" font-size="6.9" text-anchor="middle" fill="#1a1a1a" stroke="#1a1a1a" stroke-width="0.18" >Specific capacity (mA h g<tspan dy="-2.62" font-size="4.28">-1</tspan><tspan dy="2.6">)</tspan></text>
<text x="0" y="0" transform="translate(389.60,237.50) rotate(-90)" font-size="6.4" text-anchor="middle" fill="#1a1a1a" stroke="#1a1a1a" stroke-width="0.18">Voltage (V)</text>
<line x1="409.10" y1="257.70" x2="419.10" y2="257.70" stroke="#a8283d" stroke-width="1.1" />
<text x="421.70" y="259.70" font-size="5.6" text-anchor="start" fill="#1a1a1a" stroke="#1a1a1a" stroke-width="0.18" >K||O3-Na0.67</text>
<path d="M29.40,376.90 C29.42,376.17 29.42,373.82 29.50,372.50 C29.58,371.18 29.65,369.92 29.90,369.00 C30.15,368.08 30.42,367.75 31.00,367.00 C31.58,366.25 32.57,365.28 33.40,364.50 C34.23,363.72 34.90,363.02 36.00,362.30 C37.10,361.58 38.50,360.83 40.00,360.20 C41.50,359.57 43.33,358.98 45.00,358.50 C46.67,358.02 48.33,357.73 50.00,357.30 C51.67,356.87 53.67,356.37 55.00,355.90 C56.33,355.43 56.83,355.10 58.00,354.50 C59.17,353.90 60.67,353.12 62.00,352.30 C63.33,351.48 64.67,350.52 66.00,349.60 C67.33,348.68 68.33,347.90 70.00,346.80 C71.67,345.70 73.90,344.25 76.00,343.00 C78.10,341.75 80.27,340.55 82.60,339.30 C84.93,338.05 87.10,336.98 90.00,335.50 C92.90,334.02 96.67,331.92 100.00,330.40 C103.33,328.88 106.67,327.67 110.00,326.40 C113.33,325.13 116.67,324.03 120.00,322.80 C123.33,321.57 126.67,320.32 130.00,319.00 C133.33,317.68 136.80,316.42 140.00,314.90 C143.20,313.38 147.67,310.73 149.20,309.90" fill="none" stroke="#a8283d" stroke-width="1.3"/>
<path d="M29.70,310.40 C30.25,310.77 31.28,311.58 33.00,312.60 C34.72,313.62 37.17,315.03 40.00,316.50 C42.83,317.97 46.67,319.77 50.00,321.40 C53.33,323.03 56.67,324.62 60.00,326.30 C63.33,327.98 66.23,329.35 70.00,331.50 C73.77,333.65 79.27,337.17 82.60,339.20 C85.93,341.23 87.10,341.88 90.00,343.70 C92.90,345.52 97.00,348.17 100.00,350.10 C103.00,352.03 105.50,353.88 108.00,355.30 C110.50,356.72 113.00,357.78 115.00,358.60 C117.00,359.42 118.33,359.72 120.00,360.20 C121.67,360.68 123.58,361.03 125.00,361.50 C126.42,361.97 127.42,362.17 128.50,363.00 C129.58,363.83 130.70,365.25 131.50,366.50 C132.30,367.75 132.80,368.92 133.30,370.50 C133.80,372.08 134.12,374.08 134.50,376.00 C134.88,377.92 135.22,380.30 135.60,382.00 C135.98,383.70 136.35,385.03 136.80,386.20 C137.25,387.37 137.68,388.23 138.30,389.00 C138.92,389.77 139.55,390.22 140.50,390.80 C141.45,391.38 142.50,391.85 144.00,392.50 C145.50,393.15 147.67,393.88 149.50,394.70 C151.33,395.52 153.35,396.55 155.00,397.40 C156.65,398.25 158.07,399.02 159.40,399.80 C160.73,400.58 161.67,401.13 163.00,402.10 C164.33,403.07 166.15,404.53 167.40,405.60 C168.65,406.67 169.58,407.43 170.50,408.50 C171.42,409.57 172.50,411.42 172.90,412.00" fill="none" stroke="#a8283d" stroke-width="1.3"/>
<rect x="23.9" y="302.5" width="156.5" height="126.10000000000002" fill="none" stroke="#333" stroke-width="1.2"/>
<line x1="23.90" y1="412.00" x2="26.50" y2="412.00" stroke="#333" stroke-width="1.1" />
<text x="21.60" y="414.80" font-size="7.8" text-anchor="end" fill="#1a1a1a" stroke="#1a1a1a" stroke-width="0.18" >1.0</text>
<line x1="23.90" y1="378.10" x2="26.50" y2="378.10" stroke="#333" stroke-width="1.1" />
<text x="21.60" y="380.90" font-size="7.8" text-anchor="end" fill="#1a1a1a" stroke="#1a1a1a" stroke-width="0.18" >2.0</text>
<line x1="23.90" y1="344.20" x2="26.50" y2="344.20" stroke="#333" stroke-width="1.1" />
<text x="21.60" y="347.00" font-size="7.8" text-anchor="end" fill="#1a1a1a" stroke="#1a1a1a" stroke-width="0.18" >3.0</text>
<line x1="23.90" y1="310.30" x2="26.50" y2="310.30" stroke="#333" stroke-width="1.1" />
<text x="21.60" y="313.10" font-size="7.8" text-anchor="end" fill="#1a1a1a" stroke="#1a1a1a" stroke-width="0.18" >4.0</text>
<line x1="23.90" y1="395.05" x2="25.50" y2="395.05" stroke="#333" stroke-width="1.1" />
<line x1="23.90" y1="361.15" x2="25.50" y2="361.15" stroke="#333" stroke-width="1.1" />
<line x1="23.90" y1="327.25" x2="25.50" y2="327.25" stroke="#333" stroke-width="1.1" />
<line x1="30.00" y1="428.60" x2="30.00" y2="426.20" stroke="#333" stroke-width="1.1" />
<line x1="67.57" y1="428.60" x2="67.57" y2="426.20" stroke="#333" stroke-width="1.1" />
<line x1="105.15" y1="428.60" x2="105.15" y2="426.20" stroke="#333" stroke-width="1.1" />
<line x1="142.72" y1="428.60" x2="142.72" y2="426.20" stroke="#333" stroke-width="1.1" />
<line x1="48.79" y1="428.60" x2="48.79" y2="427.10" stroke="#333" stroke-width="1.1" />
<line x1="86.36" y1="428.60" x2="86.36" y2="427.10" stroke="#333" stroke-width="1.1" />
<line x1="123.94" y1="428.60" x2="123.94" y2="427.10" stroke="#333" stroke-width="1.1" />
<line x1="161.51" y1="428.60" x2="161.51" y2="427.10" stroke="#333" stroke-width="1.1" />
<text x="30.00" y="438.60" font-size="7.8" text-anchor="middle" fill="#1a1a1a" stroke="#1a1a1a" stroke-width="0.18" >0</text>
<text x="67.57" y="438.60" font-size="7.8" text-anchor="middle" fill="#1a1a1a" stroke="#1a1a1a" stroke-width="0.18" >30</text>
<text x="105.15" y="438.60" font-size="7.8" text-anchor="middle" fill="#1a1a1a" stroke="#1a1a1a" stroke-width="0.18" >60</text>
<text x="142.72" y="438.60" font-size="7.8" text-anchor="middle" fill="#1a1a1a" stroke="#1a1a1a" stroke-width="0.18" >90</text>
<text x="180.30" y="438.60" font-size="7.8" text-anchor="middle" fill="#1a1a1a" stroke="#1a1a1a" stroke-width="0.18" >120</text>
<text x="100.40" y="446.80" font-size="9.1" text-anchor="middle" fill="#1a1a1a" stroke="#1a1a1a" stroke-width="0.18" >Specific capacity (mA h g<tspan dy="-3.46" font-size="5.64">-1</tspan><tspan dy="3.4">)</tspan></text>
<text x="0" y="0" transform="translate(7.40,363.60) rotate(-90)" font-size="9.9" text-anchor="middle" fill="#1a1a1a" stroke="#1a1a1a" stroke-width="0.18">Voltage (V)</text>
<text x="0.80" y="311.20" font-size="12.5" text-anchor="start" fill="#111" stroke="#111" stroke-width="0.18" font-weight="bold" >g</text>
<text x="142.60" y="323.00" font-size="7.2" text-anchor="start" fill="#1a1a1a" stroke="#1a1a1a" stroke-width="0.18" >17.3 mA g<tspan dy="-2.74" font-size="4.46">-1</tspan></text>
<line x1="32.70" y1="418.10" x2="45.20" y2="418.10" stroke="#a8283d" stroke-width="1.5" />
<text x="47.00" y="420.80" font-size="7.4" text-anchor="start" fill="#1a1a1a" stroke="#1a1a1a" stroke-width="0.18" >HC||O3-Na0.67</text>
<path d="M217.40,304.40 L219.00,329.80 L220.60,329.00 L222.20,394.70 L223.80,321.40 L225.40,321.48" fill="none" stroke="#a8283d" stroke-width="0.7" stroke-linejoin="round" />
<path d="M217.40,334.10 L219.00,334.80 L220.60,335.80 L222.20,347.20 L223.80,347.70 L225.40,347.91" fill="none" stroke="#a8283d" stroke-width="0.7" stroke-linejoin="round" />
<g fill="#fff" stroke="#a8283d" stroke-width="0.95"><circle cx="217.40" cy="334.10" r="1.35"/><circle cx="219.00" cy="334.80" r="1.35"/><circle cx="220.60" cy="335.80" r="1.35"/><circle cx="222.20" cy="347.20" r="1.35"/><circle cx="223.80" cy="347.70" r="1.35"/><circle cx="225.40" cy="347.91" r="1.35"/><circle cx="227.00" cy="348.17" r="1.35"/><circle cx="228.59" cy="348.01" r="1.35"/><circle cx="230.19" cy="348.28" r="1.35"/><circle cx="231.79" cy="348.45" r="1.35"/><circle cx="233.39" cy="348.57" r="1.35"/><circle cx="234.99" cy="348.67" r="1.35"/><circle cx="236.59" cy="348.77" r="1.35"/><circle cx="238.19" cy="348.70" r="1.35"/><circle cx="239.79" cy="349.03" r="1.35"/><circle cx="241.39" cy="349.17" r="1.35"/><circle cx="242.99" cy="348.92" r="1.35"/><circle cx="244.59" cy="349.37" r="1.35"/><circle cx="246.19" cy="349.27" r="1.35"/><circle cx="247.79" cy="349.22" r="1.35"/><circle cx="249.39" cy="349.31" r="1.35"/><circle cx="250.98" cy="349.69" r="1.35"/><circle cx="252.58" cy="349.74" r="1.35"/><circle cx="254.18" cy="349.62" r="1.35"/><circle cx="255.78" cy="349.84" r="1.35"/><circle cx="257.38" cy="350.00" r="1.35"/><circle cx="258.98" cy="350.23" r="1.35"/><circle cx="260.58" cy="350.06" r="1.35"/><circle cx="262.18" cy="350.32" r="1.35"/><circle cx="263.78" cy="350.20" r="1.35"/><circle cx="265.38" cy="350.27" r="1.35"/><circle cx="266.98" cy="350.34" r="1.35"/><circle cx="268.58" cy="350.53" r="1.35"/><circle cx="270.18" cy="350.70" r="1.35"/><circle cx="271.78" cy="350.66" r="1.35"/><circle cx="273.37" cy="350.69" r="1.35"/><circle cx="274.97" cy="350.80" r="1.35"/><circle cx="276.57" cy="350.83" r="1.35"/><circle cx="278.17" cy="350.96" r="1.35"/><circle cx="279.77" cy="351.09" r="1.35"/><circle cx="281.37" cy="351.25" r="1.35"/><circle cx="282.97" cy="351.21" r="1.35"/><circle cx="284.57" cy="351.41" r="1.35"/><circle cx="286.17" cy="351.48" r="1.35"/><circle cx="287.77" cy="351.77" r="1.35"/><circle cx="289.37" cy="351.66" r="1.35"/><circle cx="290.97" cy="351.92" r="1.35"/><circle cx="292.57" cy="351.82" r="1.35"/><circle cx="294.17" cy="351.79" r="1.35"/><circle cx="295.76" cy="352.03" r="1.35"/><circle cx="297.36" cy="351.93" r="1.35"/><circle cx="298.96" cy="352.02" r="1.35"/><circle cx="300.56" cy="352.06" r="1.35"/><circle cx="302.16" cy="352.39" r="1.35"/><circle cx="303.76" cy="352.58" r="1.35"/><circle cx="305.36" cy="352.43" r="1.35"/><circle cx="306.96" cy="352.49" r="1.35"/><circle cx="308.56" cy="352.60" r="1.35"/><circle cx="310.16" cy="352.65" r="1.35"/><circle cx="311.76" cy="352.86" r="1.35"/><circle cx="313.36" cy="352.82" r="1.35"/><circle cx="314.96" cy="352.81" r="1.35"/><circle cx="316.56" cy="353.17" r="1.35"/><circle cx="318.16" cy="353.13" r="1.35"/><circle cx="319.75" cy="352.98" r="1.35"/><circle cx="321.35" cy="353.40" r="1.35"/><circle cx="322.95" cy="353.43" r="1.35"/><circle cx="324.55" cy="353.35" r="1.35"/><circle cx="326.15" cy="353.54" r="1.35"/><circle cx="327.75" cy="353.73" r="1.35"/><circle cx="329.35" cy="353.60" r="1.35"/><circle cx="330.95" cy="353.69" r="1.35"/><circle cx="332.55" cy="353.71" r="1.35"/><circle cx="334.15" cy="353.89" r="1.35"/><circle cx="335.75" cy="354.01" r="1.35"/><circle cx="337.35" cy="354.12" r="1.35"/><circle cx="338.95" cy="354.28" r="1.35"/><circle cx="340.55" cy="354.03" r="1.35"/><circle cx="342.14" cy="354.19" r="1.35"/><circle cx="343.74" cy="354.46" r="1.35"/><circle cx="345.34" cy="354.52" r="1.35"/><circle cx="346.94" cy="354.51" r="1.35"/><circle cx="348.54" cy="354.62" r="1.35"/><circle cx="350.14" cy="354.56" r="1.35"/><circle cx="351.74" cy="354.88" r="1.35"/><circle cx="353.34" cy="354.79" r="1.35"/><circle cx="354.94" cy="354.81" r="1.35"/><circle cx="356.54" cy="354.79" r="1.35"/><circle cx="358.14" cy="354.84" r="1.35"/><circle cx="359.74" cy="355.23" r="1.35"/><circle cx="361.34" cy="355.26" r="1.35"/><circle cx="362.94" cy="355.02" r="1.35"/><circle cx="364.53" cy="355.22" r="1.35"/><circle cx="366.13" cy="355.35" r="1.35"/><circle cx="367.73" cy="355.43" r="1.35"/><circle cx="369.33" cy="355.45" r="1.35"/><circle cx="370.93" cy="355.74" r="1.35"/><circle cx="372.53" cy="355.59" r="1.35"/><circle cx="374.13" cy="355.74" r="1.35"/><circle cx="375.73" cy="355.97" r="1.35"/><circle cx="377.33" cy="355.93" r="1.35"/><circle cx="378.93" cy="355.93" r="1.35"/><circle cx="380.53" cy="355.95" r="1.35"/><circle cx="382.13" cy="356.04" r="1.35"/><circle cx="383.73" cy="356.20" r="1.35"/><circle cx="385.33" cy="356.34" r="1.35"/><circle cx="386.93" cy="356.21" r="1.35"/><circle cx="388.52" cy="356.32" r="1.35"/><circle cx="390.12" cy="356.40" r="1.35"/><circle cx="391.72" cy="356.46" r="1.35"/><circle cx="393.32" cy="356.75" r="1.35"/><circle cx="394.92" cy="356.67" r="1.35"/><circle cx="396.52" cy="356.64" r="1.35"/><circle cx="398.12" cy="356.73" r="1.35"/><circle cx="399.72" cy="357.00" r="1.35"/><circle cx="401.32" cy="356.81" r="1.35"/><circle cx="402.92" cy="357.09" r="1.35"/><circle cx="404.52" cy="356.89" r="1.35"/><circle cx="406.12" cy="357.03" r="1.35"/><circle cx="407.72" cy="357.05" r="1.35"/><circle cx="409.32" cy="357.42" r="1.35"/><circle cx="410.91" cy="357.22" r="1.35"/><circle cx="412.51" cy="357.33" r="1.35"/><circle cx="414.11" cy="357.33" r="1.35"/><circle cx="415.71" cy="357.48" r="1.35"/><circle cx="417.31" cy="357.74" r="1.35"/><circle cx="418.91" cy="357.80" r="1.35"/><circle cx="420.51" cy="357.95" r="1.35"/><circle cx="422.11" cy="358.03" r="1.35"/><circle cx="423.71" cy="357.95" r="1.35"/><circle cx="425.31" cy="358.16" r="1.35"/><circle cx="426.91" cy="357.90" r="1.35"/><circle cx="428.51" cy="358.30" r="1.35"/><circle cx="430.11" cy="358.18" r="1.35"/><circle cx="431.71" cy="358.15" r="1.35"/><circle cx="433.30" cy="358.44" r="1.35"/><circle cx="434.90" cy="358.55" r="1.35"/><circle cx="436.50" cy="358.43" r="1.35"/><circle cx="438.10" cy="358.38" r="1.35"/><circle cx="439.70" cy="358.77" r="1.35"/><circle cx="441.30" cy="358.79" r="1.35"/><circle cx="442.90" cy="358.79" r="1.35"/><circle cx="444.50" cy="359.01" r="1.35"/><circle cx="446.10" cy="358.71" r="1.35"/><circle cx="447.70" cy="358.78" r="1.35"/><circle cx="449.30" cy="358.88" r="1.35"/><circle cx="450.90" cy="358.90" r="1.35"/><circle cx="452.50" cy="359.25" r="1.35"/><circle cx="454.10" cy="359.28" r="1.35"/><circle cx="455.69" cy="359.14" r="1.35"/></g>
<g fill="#a8283d" stroke="none"><circle cx="217.40" cy="304.40" r="1.9"/><circle cx="219.00" cy="329.80" r="1.9"/><circle cx="220.60" cy="329.00" r="1.9"/><circle cx="222.20" cy="394.70" r="1.9"/><circle cx="223.80" cy="321.40" r="1.9"/><circle cx="225.40" cy="321.48" r="1.9"/><circle cx="227.00" cy="320.19" r="1.9"/><circle cx="228.59" cy="320.12" r="1.9"/><circle cx="230.19" cy="320.15" r="1.9"/><circle cx="231.79" cy="319.61" r="1.9"/><circle cx="233.39" cy="318.52" r="1.9"/><circle cx="234.99" cy="319.35" r="1.9"/><circle cx="236.59" cy="318.96" r="1.9"/><circle cx="238.19" cy="319.07" r="1.9"/><circle cx="239.79" cy="318.50" r="1.9"/><circle cx="241.39" cy="318.40" r="1.9"/><circle cx="242.99" cy="318.38" r="1.9"/><circle cx="244.59" cy="317.38" r="1.9"/><circle cx="246.19" cy="317.93" r="1.9"/><circle cx="247.79" cy="317.41" r="1.9"/><circle cx="249.39" cy="318.08" r="1.9"/><circle cx="250.98" cy="316.89" r="1.9"/><circle cx="252.58" cy="317.49" r="1.9"/><circle cx="254.18" cy="317.12" r="1.9"/><circle cx="255.78" cy="317.86" r="1.9"/><circle cx="257.38" cy="317.07" r="1.9"/><circle cx="258.98" cy="317.84" r="1.9"/><circle cx="260.58" cy="317.82" r="1.9"/><circle cx="262.18" cy="317.85" r="1.9"/><circle cx="263.78" cy="316.64" r="1.9"/><circle cx="265.38" cy="317.91" r="1.9"/><circle cx="266.98" cy="317.58" r="1.9"/><circle cx="268.58" cy="317.46" r="1.9"/><circle cx="270.18" cy="317.41" r="1.9"/><circle cx="271.78" cy="316.44" r="1.9"/><circle cx="273.37" cy="317.74" r="1.9"/><circle cx="274.97" cy="317.22" r="1.9"/><circle cx="276.57" cy="317.07" r="1.9"/><circle cx="278.17" cy="316.88" r="1.9"/><circle cx="279.77" cy="317.58" r="1.9"/><circle cx="281.37" cy="317.58" r="1.9"/><circle cx="282.97" cy="317.71" r="1.9"/><circle cx="284.57" cy="316.66" r="1.9"/><circle cx="286.17" cy="316.86" r="1.9"/><circle cx="287.77" cy="316.71" r="1.9"/><circle cx="289.37" cy="316.47" r="1.9"/><circle cx="290.97" cy="316.83" r="1.9"/><circle cx="292.57" cy="316.35" r="1.9"/><circle cx="294.17" cy="317.58" r="1.9"/><circle cx="295.76" cy="316.67" r="1.9"/><circle cx="297.36" cy="316.42" r="1.9"/><circle cx="298.96" cy="316.41" r="1.9"/><circle cx="300.56" cy="317.49" r="1.9"/><circle cx="302.16" cy="316.62" r="1.9"/><circle cx="303.76" cy="317.04" r="1.9"/><circle cx="305.36" cy="316.95" r="1.9"/><circle cx="306.96" cy="317.59" r="1.9"/><circle cx="308.56" cy="317.83" r="1.9"/><circle cx="310.16" cy="316.80" r="1.9"/><circle cx="311.76" cy="317.31" r="1.9"/><circle cx="313.36" cy="317.73" r="1.9"/><circle cx="314.96" cy="317.05" r="1.9"/><circle cx="316.56" cy="317.74" r="1.9"/><circle cx="318.16" cy="317.47" r="1.9"/><circle cx="319.75" cy="316.80" r="1.9"/><circle cx="321.35" cy="317.70" r="1.9"/><circle cx="322.95" cy="317.22" r="1.9"/><circle cx="324.55" cy="316.47" r="1.9"/><circle cx="326.15" cy="317.24" r="1.9"/><circle cx="327.75" cy="317.63" r="1.9"/><circle cx="329.35" cy="317.13" r="1.9"/><circle cx="330.95" cy="317.07" r="1.9"/><circle cx="332.55" cy="316.97" r="1.9"/><circle cx="334.15" cy="317.71" r="1.9"/><circle cx="335.75" cy="317.37" r="1.9"/><circle cx="337.35" cy="316.63" r="1.9"/><circle cx="338.95" cy="316.88" r="1.9"/><circle cx="340.55" cy="316.88" r="1.9"/><circle cx="342.14" cy="317.83" r="1.9"/><circle cx="343.74" cy="317.41" r="1.9"/><circle cx="345.34" cy="316.50" r="1.9"/><circle cx="346.94" cy="317.76" r="1.9"/><circle cx="348.54" cy="316.36" r="1.9"/><circle cx="350.14" cy="317.25" r="1.9"/><circle cx="351.74" cy="316.99" r="1.9"/><circle cx="353.34" cy="317.45" r="1.9"/><circle cx="354.94" cy="316.99" r="1.9"/><circle cx="356.54" cy="316.45" r="1.9"/><circle cx="358.14" cy="317.14" r="1.9"/><circle cx="359.74" cy="317.61" r="1.9"/><circle cx="361.34" cy="317.56" r="1.9"/><circle cx="362.94" cy="316.87" r="1.9"/><circle cx="364.53" cy="316.66" r="1.9"/><circle cx="366.13" cy="317.49" r="1.9"/><circle cx="367.73" cy="317.58" r="1.9"/><circle cx="369.33" cy="316.65" r="1.9"/><circle cx="370.93" cy="317.71" r="1.9"/><circle cx="372.53" cy="317.89" r="1.9"/><circle cx="374.13" cy="316.99" r="1.9"/><circle cx="375.73" cy="316.91" r="1.9"/><circle cx="377.33" cy="317.44" r="1.9"/><circle cx="378.93" cy="317.79" r="1.9"/><circle cx="380.53" cy="316.62" r="1.9"/><circle cx="382.13" cy="316.78" r="1.9"/><circle cx="383.73" cy="316.83" r="1.9"/><circle cx="385.33" cy="317.47" r="1.9"/><circle cx="386.93" cy="316.60" r="1.9"/><circle cx="388.52" cy="317.17" r="1.9"/><circle cx="390.12" cy="317.10" r="1.9"/><circle cx="391.72" cy="317.37" r="1.9"/><circle cx="393.32" cy="316.53" r="1.9"/><circle cx="394.92" cy="317.83" r="1.9"/><circle cx="396.52" cy="317.90" r="1.9"/><circle cx="398.12" cy="317.20" r="1.9"/><circle cx="399.72" cy="317.57" r="1.9"/><circle cx="401.32" cy="316.59" r="1.9"/><circle cx="402.92" cy="317.76" r="1.9"/><circle cx="404.52" cy="317.18" r="1.9"/><circle cx="406.12" cy="317.52" r="1.9"/><circle cx="407.72" cy="317.69" r="1.9"/><circle cx="409.32" cy="316.88" r="1.9"/><circle cx="410.91" cy="317.78" r="1.9"/><circle cx="412.51" cy="316.63" r="1.9"/><circle cx="414.11" cy="316.34" r="1.9"/><circle cx="415.71" cy="317.10" r="1.9"/><circle cx="417.31" cy="317.74" r="1.9"/><circle cx="418.91" cy="317.74" r="1.9"/><circle cx="420.51" cy="317.83" r="1.9"/><circle cx="422.11" cy="317.12" r="1.9"/><circle cx="423.71" cy="317.79" r="1.9"/><circle cx="425.31" cy="317.20" r="1.9"/><circle cx="426.91" cy="316.53" r="1.9"/><circle cx="428.51" cy="317.31" r="1.9"/><circle cx="430.11" cy="317.59" r="1.9"/><circle cx="431.71" cy="316.98" r="1.9"/><circle cx="433.30" cy="317.26" r="1.9"/><circle cx="434.90" cy="316.71" r="1.9"/><circle cx="436.50" cy="316.74" r="1.9"/><circle cx="438.10" cy="316.97" r="1.9"/><circle cx="439.70" cy="317.12" r="1.9"/><circle cx="441.30" cy="317.05" r="1.9"/><circle cx="442.90" cy="316.45" r="1.9"/><circle cx="444.50" cy="316.31" r="1.9"/><circle cx="446.10" cy="316.84" r="1.9"/><circle cx="447.70" cy="317.45" r="1.9"/><circle cx="449.30" cy="317.50" r="1.9"/><circle cx="450.90" cy="316.68" r="1.9"/><circle cx="452.50" cy="316.71" r="1.9"/><circle cx="454.10" cy="317.13" r="1.9"/><circle cx="455.69" cy="316.58" r="1.9"/></g>
<line x1="213.30" y1="302.30" x2="213.30" y2="429.40" stroke="#333" stroke-width="1.3" />
<line x1="212.80" y1="428.90" x2="462.90" y2="428.90" stroke="#333" stroke-width="1.3" />
<line x1="462.90" y1="301.80" x2="462.90" y2="429.50" stroke="#4a82bf" stroke-width="1.2" />
<line x1="213.30" y1="302.30" x2="463.50" y2="302.30" stroke="#4a82bf" stroke-width="1.15" />
<line x1="213.30" y1="417.80" x2="216.50" y2="417.80" stroke="#333" stroke-width="1.1" />
<line x1="213.30" y1="388.78" x2="216.50" y2="388.78" stroke="#333" stroke-width="1.1" />
<line x1="213.30" y1="359.76" x2="216.50" y2="359.76" stroke="#333" stroke-width="1.1" />
<line x1="213.30" y1="330.74" x2="216.50" y2="330.74" stroke="#333" stroke-width="1.1" />
<line x1="213.30" y1="403.29" x2="215.30" y2="403.29" stroke="#333" stroke-width="1.1" />
<line x1="213.30" y1="374.27" x2="215.30" y2="374.27" stroke="#333" stroke-width="1.1" />
<line x1="213.30" y1="345.25" x2="215.30" y2="345.25" stroke="#333" stroke-width="1.1" />
<line x1="213.30" y1="316.23" x2="215.30" y2="316.23" stroke="#333" stroke-width="1.1" />
<text x="209.80" y="391.58" font-size="7.8" text-anchor="end" fill="#1a1a1a" stroke="#1a1a1a" stroke-width="0.18" >40</text>
<text x="209.80" y="362.56" font-size="7.8" text-anchor="end" fill="#1a1a1a" stroke="#1a1a1a" stroke-width="0.18" >80</text>
<text x="209.80" y="333.54" font-size="7.8" text-anchor="end" fill="#1a1a1a" stroke="#1a1a1a" stroke-width="0.18" >120</text>
<text x="209.80" y="304.52" font-size="7.8" text-anchor="end" fill="#1a1a1a" stroke="#1a1a1a" stroke-width="0.18" >160</text>
<text x="209.80" y="420.60" font-size="7.8" text-anchor="end" fill="#1a1a1a" stroke="#1a1a1a" stroke-width="0.18" font-weight="bold" >0</text>
<line x1="462.90" y1="429.40" x2="459.70" y2="429.40" stroke="#4a82bf" stroke-width="1.1" />
<text x="467.00" y="432.20" font-size="7.8" text-anchor="start" fill="#1a1a1a" stroke="#1a1a1a" stroke-width="0.18" >80</text>
<line x1="462.90" y1="400.90" x2="459.70" y2="400.90" stroke="#4a82bf" stroke-width="1.1" />
<text x="467.00" y="403.70" font-size="7.8" text-anchor="start" fill="#1a1a1a" stroke="#1a1a1a" stroke-width="0.18" >85</text>
<line x1="462.90" y1="372.40" x2="459.70" y2="372.40" stroke="#4a82bf" stroke-width="1.1" />
<text x="467.00" y="375.20" font-size="7.8" text-anchor="start" fill="#1a1a1a" stroke="#1a1a1a" stroke-width="0.18" >90</text>
<line x1="462.90" y1="343.90" x2="459.70" y2="343.90" stroke="#4a82bf" stroke-width="1.1" />
<text x="467.00" y="346.70" font-size="7.8" text-anchor="start" fill="#1a1a1a" stroke="#1a1a1a" stroke-width="0.18" >95</text>
<line x1="462.90" y1="315.40" x2="459.70" y2="315.40" stroke="#4a82bf" stroke-width="1.1" />
<text x="467.00" y="318.20" font-size="7.8" text-anchor="start" fill="#1a1a1a" stroke="#1a1a1a" stroke-width="0.18" >100</text>
<line x1="462.90" y1="415.15" x2="460.90" y2="415.15" stroke="#4a82bf" stroke-width="1.1" />
<line x1="462.90" y1="386.65" x2="460.90" y2="386.65" stroke="#4a82bf" stroke-width="1.1" />
<line x1="462.90" y1="358.15" x2="460.90" y2="358.15" stroke="#4a82bf" stroke-width="1.1" />
<line x1="462.90" y1="329.65" x2="460.90" y2="329.65" stroke="#4a82bf" stroke-width="1.1" />
<text x="469.00" y="307.50" font-size="7.8" text-anchor="start" fill="#1a1a1a" stroke="#1a1a1a" stroke-width="0.18" >120</text>
<rect x="459.9" y="305.6" width="6" height="2.4" fill="#fff"/>
<line x1="459.50" y1="307.20" x2="466.30" y2="305.00" stroke="#4a82bf" stroke-width="0.9" />
<line x1="459.50" y1="309.20" x2="466.30" y2="307.00" stroke="#4a82bf" stroke-width="0.9" />
<line x1="215.80" y1="428.90" x2="215.80" y2="426.30" stroke="#333" stroke-width="1.1" />
<line x1="295.76" y1="428.90" x2="295.76" y2="426.30" stroke="#333" stroke-width="1.1" />
<line x1="375.73" y1="428.90" x2="375.73" y2="426.30" stroke="#333" stroke-width="1.1" />
<line x1="455.69" y1="428.90" x2="455.69" y2="426.30" stroke="#333" stroke-width="1.1" />
<line x1="255.78" y1="428.90" x2="255.78" y2="427.30" stroke="#333" stroke-width="1.1" />
<line x1="335.75" y1="428.90" x2="335.75" y2="427.30" stroke="#333" stroke-width="1.1" />
<line x1="415.71" y1="428.90" x2="415.71" y2="427.30" stroke="#333" stroke-width="1.1" />
<text x="215.80" y="438.40" font-size="7.8" text-anchor="middle" fill="#1a1a1a" stroke="#1a1a1a" stroke-width="0.18" >0</text>
<text x="295.76" y="438.40" font-size="7.8" text-anchor="middle" fill="#1a1a1a" stroke="#1a1a1a" stroke-width="0.18" >50</text>
<text x="375.73" y="438.40" font-size="7.8" text-anchor="middle" fill="#1a1a1a" stroke="#1a1a1a" stroke-width="0.18" >100</text>
<text x="455.69" y="438.40" font-size="7.8" text-anchor="middle" fill="#1a1a1a" stroke="#1a1a1a" stroke-width="0.18" >150</text>
<text x="335.20" y="446.60" font-size="9.3" text-anchor="middle" fill="#1a1a1a" stroke="#1a1a1a" stroke-width="0.18" >Cycle number (n)</text>
<text x="0" y="0" transform="translate(197.90,367.50) rotate(-90)" font-size="9.3" text-anchor="middle" fill="#1a1a1a" stroke="#1a1a1a" stroke-width="0.18">Specific capacity (mA h g<tspan dy="-3.53" font-size="5.77">-1</tspan><tspan dy="3.5">)</tspan></text>
<text x="0" y="0" transform="translate(483.90,368.50) rotate(-90)" font-size="9.3" text-anchor="middle" fill="#1a1a1a" stroke="#1a1a1a" stroke-width="0.18">Coulombic efficiency (%)</text>
<text x="183.40" y="310.90" font-size="12.5" text-anchor="start" fill="#111" stroke="#111" stroke-width="0.18" font-weight="bold" >h</text>
<text x="226.40" y="337.00" font-size="7.2" text-anchor="start" fill="#1a1a1a" stroke="#1a1a1a" stroke-width="0.18" >17.3 mA g<tspan dy="-2.74" font-size="4.46">-1</tspan></text>
<text x="240.00" y="346.30" font-size="7.2" text-anchor="start" fill="#1a1a1a" stroke="#1a1a1a" stroke-width="0.18" >86.5 mA g<tspan dy="-2.74" font-size="4.46">-1</tspan></text>
<path d="M431.30,326.70 L431.30,334.20 L452.60,334.20" fill="none" stroke="#111" stroke-width="1.0" stroke-linejoin="round" />
<path d="M456.2,334.2 L451.8,332.5 L451.8,335.9 Z" fill="#111"/>
<text x="456.10" y="374.90" font-size="9.2" text-anchor="end" fill="#222" stroke="#222" stroke-width="0.18" >83.28%</text>
<g fill="#fff" stroke="#a8283d" stroke-width="1.1"><circle cx="393.90" cy="417.30" r="1.7"/></g>
<text x="399.00" y="420.00" font-size="7.4" text-anchor="start" fill="#1a1a1a" stroke="#1a1a1a" stroke-width="0.18" >HC||O3-Na0.67</text>
<defs><radialGradient id="yg" cx="0.45" cy="0.4" r="0.6"><stop offset="0" stop-color="#fffbd0"/><stop offset="0.55" stop-color="#ecd85a"/><stop offset="1" stop-color="#c9b23c"/></radialGradient><linearGradient id="plg" x1="0" y1="0" x2="1" y2="0"><stop offset="0" stop-color="#cfcfd0"/><stop offset="1" stop-color="#dedede"/></linearGradient><linearGradient id="arR" x1="0" y1="0" x2="1" y2="0"><stop offset="0" stop-color="#2a67b0"/><stop offset="0.55" stop-color="#5a8fcc"/><stop offset="1" stop-color="#ffffff"/></linearGradient><linearGradient id="arL" x1="1" y1="0" x2="0" y2="0"><stop offset="0" stop-color="#2a67b0"/><stop offset="0.55" stop-color="#5a8fcc"/><stop offset="1" stop-color="#ffffff"/></linearGradient><linearGradient id="bulb" x1="0" y1="0" x2="1" y2="0"><stop offset="0" stop-color="#fde9e0"/><stop offset="0.5" stop-color="#f6b49a"/><stop offset="1" stop-color="#e8674a"/></linearGradient></defs>
<text x="483.60" y="310.00" font-size="13" text-anchor="start" fill="#111" stroke="#111" stroke-width="0.18" font-weight="bold" >i</text>
<text x="497.00" y="319.50" font-size="7.7" text-anchor="start" fill="#222" stroke="#222" stroke-width="0.18" font-weight="bold" >Positive</text>
<text x="637.90" y="319.20" font-size="7.7" text-anchor="start" fill="#222" stroke="#222" stroke-width="0.18" font-weight="bold" >Negative</text>
<text x="565.80" y="335.40" font-size="7.7" text-anchor="start" fill="#222" stroke="#222" stroke-width="0.18" font-weight="bold" >Dis-/charging</text>
<path d="M510.2,338.6 C511.5,326 518,320.9 530,320.9 L632,320.9 C644,320.9 651,326 652.6,339" fill="none" stroke="#111" stroke-width="1.8"/>
<path d="M578.4,318.4 C578.2,315 575.6,313.5 575.8,309.6 C576,306.2 578.8,304.2 582.1,304.2 C585.4,304.2 588.2,306.2 588.4,309.6 C588.6,313.5 586,315 585.8,318.4 Z" fill="url(#bulb)" stroke="#ef8a2e" stroke-width="1.0"/>
<rect x="578.2" y="318.2" width="7.8" height="4.6" rx="0.8" fill="#f29a3a" stroke="#e07a20" stroke-width="0.5"/>
<line x1="578.4" y1="320.2" x2="585.8" y2="320.2" stroke="#c96a18" stroke-width="0.5"/>
<path d="M579.6,322.8 L584.6,322.8 L583.6,325 L580.6,325 Z" fill="#222"/>
<polygon points="500.2,332.1 519.3,343.70000000000005 519.3,427.90000000000003 500.2,416.3" fill="url(#plg)"/>
<polygon points="519.3,343.70000000000005 521.9,342.30000000000007 521.9,426.70000000000005 519.3,427.90000000000003" fill="#9d9d9f"/>
<polygon points="641.2,333.1 660.0,344.70000000000005 660.0,432.70000000000005 641.2,421.1" fill="url(#plg)"/>
<polygon points="660.0,344.70000000000005 662.6,343.30000000000007 662.6,431.50000000000006 660.0,432.70000000000005" fill="#9d9d9f"/>
<polygon points="525.20,354.20 534.10,354.20 537.10,361.80 528.20,361.80" fill="#f2c9ce" stroke="#e7b3b8" stroke-width="0.4"/>
<circle cx="531.15" cy="358.00" r="1.9" fill="#d9a3ad"/>
<polygon points="534.10,354.20 543.00,354.20 546.00,361.80 537.10,361.80" fill="#eba1aa" stroke="#e7b3b8" stroke-width="0.4"/>
<circle cx="540.05" cy="358.00" r="1.9" fill="#c32b40"/>
<polygon points="543.00,354.20 551.90,354.20 554.90,361.80 546.00,361.80" fill="#f7d3cb" stroke="#e7b3b8" stroke-width="0.4"/>
<circle cx="548.95" cy="358.00" r="1.9" fill="#e3714f"/>
<polygon points="551.90,354.20 560.80,354.20 563.80,361.80 554.90,361.80" fill="#f2ccd3" stroke="#e7b3b8" stroke-width="0.4"/>
<circle cx="557.85" cy="358.00" r="1.9" fill="#dba3b4"/>
<circle cx="525.20" cy="354.20" r="0.95" fill="#d2445a"/>
<circle cx="528.20" cy="361.80" r="0.95" fill="#d2445a"/>
<circle cx="534.10" cy="354.20" r="0.95" fill="#d2445a"/>
<circle cx="537.10" cy="361.80" r="0.95" fill="#d2445a"/>
<circle cx="543.00" cy="354.20" r="0.95" fill="#d2445a"/>
<circle cx="546.00" cy="361.80" r="0.95" fill="#d2445a"/>
<circle cx="551.90" cy="354.20" r="0.95" fill="#d2445a"/>
<circle cx="554.90" cy="361.80" r="0.95" fill="#d2445a"/>
<circle cx="560.80" cy="354.20" r="0.95" fill="#d2445a"/>
<circle cx="563.80" cy="361.80" r="0.95" fill="#d2445a"/>
<polygon points="531.10,372.80 540.00,372.80 543.00,380.40 534.10,380.40" fill="#eca3ab" stroke="#e7b3b8" stroke-width="0.4"/>
<circle cx="537.05" cy="376.60" r="1.9" fill="#c3283d"/>
<polygon points="540.00,372.80 548.90,372.80 551.90,380.40 543.00,380.40" fill="#dfd6ca" stroke="#e7b3b8" stroke-width="0.4"/>
<circle cx="545.95" cy="376.60" r="1.9" fill="#dacbb0"/>
<polygon points="548.90,372.80 557.80,372.80 560.80,380.40 551.90,380.40" fill="#f4d3ca" stroke="#e7b3b8" stroke-width="0.4"/>
<circle cx="554.85" cy="376.60" r="1.9" fill="#e9a38c"/>
<circle cx="531.10" cy="372.80" r="0.95" fill="#d2445a"/>
<circle cx="534.10" cy="380.40" r="0.95" fill="#d2445a"/>
<circle cx="540.00" cy="372.80" r="0.95" fill="#d2445a"/>
<circle cx="543.00" cy="380.40" r="0.95" fill="#d2445a"/>
<circle cx="548.90" cy="372.80" r="0.95" fill="#d2445a"/>
<circle cx="551.90" cy="380.40" r="0.95" fill="#d2445a"/>
<circle cx="557.80" cy="372.80" r="0.95" fill="#d2445a"/>
<circle cx="560.80" cy="380.40" r="0.95" fill="#d2445a"/>
<polygon points="528.20,391.60 537.10,391.60 540.10,399.20 531.20,399.20" fill="#f6cfc6" stroke="#e7b3b8" stroke-width="0.4"/>
<circle cx="534.15" cy="395.40" r="1.9" fill="#e5704f"/>
<polygon points="537.10,391.60 546.00,391.60 549.00,399.20 540.10,399.20" fill="#e8c8ce" stroke="#e7b3b8" stroke-width="0.4"/>
<circle cx="543.05" cy="395.40" r="1.9" fill="#d8a8b8"/>
<polygon points="546.00,391.60 554.90,391.60 557.90,399.20 549.00,399.20" fill="#f0c8d0" stroke="#e7b3b8" stroke-width="0.4"/>
<circle cx="551.95" cy="395.40" r="1.9" fill="#dba3b4"/>
<circle cx="528.20" cy="391.60" r="0.95" fill="#d2445a"/>
<circle cx="531.20" cy="399.20" r="0.95" fill="#d2445a"/>
<circle cx="537.10" cy="391.60" r="0.95" fill="#d2445a"/>
<circle cx="540.10" cy="399.20" r="0.95" fill="#d2445a"/>
<circle cx="546.00" cy="391.60" r="0.95" fill="#d2445a"/>
<circle cx="549.00" cy="399.20" r="0.95" fill="#d2445a"/>
<circle cx="554.90" cy="391.60" r="0.95" fill="#d2445a"/>
<circle cx="557.90" cy="399.20" r="0.95" fill="#d2445a"/>
<polygon points="524.90,410.20 533.80,410.20 536.80,417.80 527.90,417.80" fill="#f2c9ce" stroke="#e7b3b8" stroke-width="0.4"/>
<circle cx="530.85" cy="414.00" r="1.9" fill="#d9a3ad"/>
<polygon points="533.80,410.20 542.70,410.20 545.70,417.80 536.80,417.80" fill="#eba1aa" stroke="#e7b3b8" stroke-width="0.4"/>
<circle cx="539.75" cy="414.00" r="1.9" fill="#c32b40"/>
<polygon points="542.70,410.20 551.60,410.20 554.60,417.80 545.70,417.80" fill="#f7d3cb" stroke="#e7b3b8" stroke-width="0.4"/>
<circle cx="548.65" cy="414.00" r="1.9" fill="#e3714f"/>
<polygon points="551.60,410.20 560.50,410.20 563.50,417.80 554.60,417.80" fill="#f2ccd3" stroke="#e7b3b8" stroke-width="0.4"/>
<circle cx="557.55" cy="414.00" r="1.9" fill="#dba3b4"/>
<circle cx="524.90" cy="410.20" r="0.95" fill="#d2445a"/>
<circle cx="527.90" cy="417.80" r="0.95" fill="#d2445a"/>
<circle cx="533.80" cy="410.20" r="0.95" fill="#d2445a"/>
<circle cx="536.80" cy="417.80" r="0.95" fill="#d2445a"/>
<circle cx="542.70" cy="410.20" r="0.95" fill="#d2445a"/>
<circle cx="545.70" cy="417.80" r="0.95" fill="#d2445a"/>
<circle cx="551.60" cy="410.20" r="0.95" fill="#d2445a"/>
<circle cx="554.60" cy="417.80" r="0.95" fill="#d2445a"/>
<circle cx="560.50" cy="410.20" r="0.95" fill="#d2445a"/>
<circle cx="563.50" cy="417.80" r="0.95" fill="#d2445a"/>
<circle cx="534.10" cy="367.20" r="2.9" fill="url(#yg)" stroke="#a8952c" stroke-width="0.6"/>
<circle cx="543.00" cy="367.20" r="2.9" fill="url(#yg)" stroke="#a8952c" stroke-width="0.6"/>
<circle cx="551.90" cy="367.20" r="2.9" fill="url(#yg)" stroke="#a8952c" stroke-width="0.6"/>
<circle cx="531.10" cy="385.90" r="2.9" fill="url(#yg)" stroke="#a8952c" stroke-width="0.6"/>
<circle cx="540.10" cy="385.90" r="2.9" fill="url(#yg)" stroke="#a8952c" stroke-width="0.6"/>
<circle cx="549.00" cy="385.90" r="2.9" fill="url(#yg)" stroke="#a8952c" stroke-width="0.6"/>
<circle cx="557.90" cy="385.90" r="2.9" fill="url(#yg)" stroke="#a8952c" stroke-width="0.6"/>
<circle cx="536.90" cy="405.10" r="2.9" fill="url(#yg)" stroke="#a8952c" stroke-width="0.6"/>
<circle cx="546.10" cy="405.10" r="2.9" fill="url(#yg)" stroke="#a8952c" stroke-width="0.6"/>
<circle cx="554.90" cy="405.10" r="2.9" fill="url(#yg)" stroke="#a8952c" stroke-width="0.6"/>
<path d="M566.9,352.1 L594.6,352.1 L594.6,350.9 L600.4,353.45 L594.6,356.0 L594.6,354.8 L566.9,354.8 Z" fill="url(#arR)" stroke="#3b76bb" stroke-width="0.55"/>
<path d="M598.9,416.5 L574.2,416.5 L574.2,415.2 L568.4,417.9 L574.2,420.6 L574.2,419.3 L598.9,419.3 Z" fill="url(#arL)" stroke="#3b76bb" stroke-width="0.55"/>
<ellipse cx="585.37" cy="359.79" rx="2.90" ry="0.80" transform="rotate(-62 585.37 359.79)" fill="#4a83c4"/>
<ellipse cx="579.20" cy="363.50" rx="2.90" ry="0.80" transform="rotate(180 579.20 363.50)" fill="#4a83c4"/>
<ellipse cx="587.60" cy="363.50" rx="2.90" ry="0.80" transform="rotate(0 587.60 363.50)" fill="#4a83c4"/>
<ellipse cx="583.03" cy="367.68" rx="2.90" ry="0.80" transform="rotate(95 583.03 367.68)" fill="#4a83c4"/>
<circle cx="583.40" cy="363.50" r="1.2" fill="#e3cd5e" stroke="#c2a83a" stroke-width="0.3"/>
<ellipse cx="576.20" cy="374.36" rx="2.90" ry="0.80" transform="rotate(-120 576.20 374.36)" fill="#4a83c4"/>
<ellipse cx="581.00" cy="374.78" rx="2.90" ry="0.80" transform="rotate(-50 581.00 374.78)" fill="#4a83c4"/>
<ellipse cx="574.10" cy="378.15" rx="2.90" ry="0.80" transform="rotate(178 574.10 378.15)" fill="#4a83c4"/>
<ellipse cx="576.53" cy="381.81" rx="2.90" ry="0.80" transform="rotate(115 576.53 381.81)" fill="#4a83c4"/>
<ellipse cx="580.40" cy="381.64" rx="2.90" ry="0.80" transform="rotate(60 580.40 381.64)" fill="#4a83c4"/>
<circle cx="578.30" cy="378.00" r="1.2" fill="#e3cd5e" stroke="#c2a83a" stroke-width="0.3"/>
<ellipse cx="597.70" cy="385.56" rx="2.90" ry="0.80" transform="rotate(-60 597.70 385.56)" fill="#4a83c4"/>
<ellipse cx="591.40" cy="389.20" rx="2.90" ry="0.80" transform="rotate(180 591.40 389.20)" fill="#4a83c4"/>
<ellipse cx="599.80" cy="389.20" rx="2.90" ry="0.80" transform="rotate(0 599.80 389.20)" fill="#4a83c4"/>
<ellipse cx="593.50" cy="392.84" rx="2.90" ry="0.80" transform="rotate(120 593.50 392.84)" fill="#4a83c4"/>
<circle cx="595.60" cy="389.20" r="1.2" fill="#e3cd5e" stroke="#c2a83a" stroke-width="0.3"/>
<ellipse cx="581.90" cy="400.36" rx="2.90" ry="0.80" transform="rotate(-120 581.90 400.36)" fill="#4a83c4"/>
<ellipse cx="586.41" cy="400.56" rx="2.90" ry="0.80" transform="rotate(-55 586.41 400.56)" fill="#4a83c4"/>
<ellipse cx="579.80" cy="404.00" rx="2.90" ry="0.80" transform="rotate(180 579.80 404.00)" fill="#4a83c4"/>
<ellipse cx="581.90" cy="407.64" rx="2.90" ry="0.80" transform="rotate(120 581.90 407.64)" fill="#4a83c4"/>
<ellipse cx="586.10" cy="407.64" rx="2.90" ry="0.80" transform="rotate(60 586.10 407.64)" fill="#4a83c4"/>
<circle cx="584.00" cy="404.00" r="1.2" fill="#e3cd5e" stroke="#c2a83a" stroke-width="0.3"/>
<ellipse cx="591.40" cy="371.30" rx="3.00" ry="0.95" transform="rotate(35 591.40 371.30)" fill="#4a83c4"/>
<ellipse cx="579.80" cy="389.00" rx="3.00" ry="0.95" transform="rotate(75 579.80 389.00)" fill="#4a83c4"/>
<ellipse cx="566.50" cy="361.00" rx="2.70" ry="0.85" transform="rotate(-40 566.50 361.00)" fill="#4a83c4"/>
<circle cx="570.40" cy="361.40" r="0.95" fill="#e3cd5e" stroke="#c2a83a" stroke-width="0.3"/>
<circle cx="577.60" cy="368.40" r="0.95" fill="#e3cd5e" stroke="#c2a83a" stroke-width="0.3"/>
<circle cx="571.00" cy="371.00" r="0.95" fill="#e3cd5e" stroke="#c2a83a" stroke-width="0.3"/>
<circle cx="586.80" cy="379.50" r="0.95" fill="#e3cd5e" stroke="#c2a83a" stroke-width="0.3"/>
<circle cx="600.00" cy="360.20" r="0.95" fill="#e3cd5e" stroke="#c2a83a" stroke-width="0.3"/>
<circle cx="602.60" cy="380.60" r="0.95" fill="#e3cd5e" stroke="#c2a83a" stroke-width="0.3"/>
<circle cx="574.50" cy="395.90" r="0.95" fill="#e3cd5e" stroke="#c2a83a" stroke-width="0.3"/>
<circle cx="584.40" cy="394.40" r="0.95" fill="#e3cd5e" stroke="#c2a83a" stroke-width="0.3"/>
<circle cx="568.00" cy="399.40" r="0.95" fill="#e3cd5e" stroke="#c2a83a" stroke-width="0.3"/>
<circle cx="593.00" cy="406.00" r="0.95" fill="#e3cd5e" stroke="#c2a83a" stroke-width="0.3"/>
<circle cx="586.70" cy="380.50" r="0.95" fill="#e3cd5e" stroke="#c2a83a" stroke-width="0.3"/>
<circle cx="599.60" cy="412.60" r="0.95" fill="#e3cd5e" stroke="#c2a83a" stroke-width="0.3"/>
<circle cx="567.00" cy="410.00" r="0.95" fill="#e3cd5e" stroke="#c2a83a" stroke-width="0.3"/>
<g transform="translate(621.60,363.00) rotate(0)"><polygon points="-19.25,0.30 -17.50,-1.30 -14.00,-1.30 -12.25,0.30 -14.00,1.90 -17.50,1.90" fill="#111" stroke="#111" stroke-width="0.8"/><polygon points="-19.25,3.50 -17.50,1.90 -14.00,1.90 -12.25,3.50 -14.00,5.10 -17.50,5.10" fill="#111" stroke="#111" stroke-width="0.8"/><polygon points="-14.00,-1.30 -12.25,-2.90 -8.75,-2.90 -7.00,-1.30 -8.75,0.30 -12.25,0.30" fill="#111" stroke="#111" stroke-width="0.8"/><polygon points="-14.00,1.90 -12.25,0.30 -8.75,0.30 -7.00,1.90 -8.75,3.50 -12.25,3.50" fill="#111" stroke="#111" stroke-width="0.8"/><polygon points="-14.00,5.10 -12.25,3.50 -8.75,3.50 -7.00,5.10 -8.75,6.70 -12.25,6.70" fill="#111" stroke="#111" stroke-width="0.8"/><polygon points="-8.75,0.30 -7.00,-1.30 -3.50,-1.30 -1.75,0.30 -3.50,1.90 -7.00,1.90" fill="#111" stroke="#111" stroke-width="0.8"/><polygon points="-8.75,3.50 -7.00,1.90 -3.50,1.90 -1.75,3.50 -3.50,5.10 -7.00,5.10" fill="#111" stroke="#111" stroke-width="0.8"/><polygon points="-3.50,-1.30 -1.75,-2.90 1.75,-2.90 3.50,-1.30 1.75,0.30 -1.75,0.30" fill="#111" stroke="#111" stroke-width="0.8"/><polygon points="-3.50,1.90 -1.75,0.30 1.75,0.30 3.50,1.90 1.75,3.50 -1.75,3.50" fill="#111" stroke="#111" stroke-width="0.8"/><polygon points="-3.50,5.10 -1.75,3.50 1.75,3.50 3.50,5.10 1.75,6.70 -1.75,6.70" fill="#111" stroke="#111" stroke-width="0.8"/><polygon points="1.75,0.30 3.50,-1.30 7.00,-1.30 8.75,0.30 7.00,1.90 3.50,1.90" fill="#111" stroke="#111" stroke-width="0.8"/><polygon points="1.75,3.50 3.50,1.90 7.00,1.90 8.75,3.50 7.00,5.10 3.50,5.10" fill="#111" stroke="#111" stroke-width="0.8"/><polygon points="7.00,-1.30 8.75,-2.90 12.25,-2.90 14.00,-1.30 12.25,0.30 8.75,0.30" fill="#111" stroke="#111" stroke-width="0.8"/><polygon points="7.00,1.90 8.75,0.30 12.25,0.30 14.00,1.90 12.25,3.50 8.75,3.50" fill="#111" stroke="#111" stroke-width="0.8"/><polygon points="7.00,5.10 8.75,3.50 12.25,3.50 14.00,5.10 12.25,6.70 8.75,6.70" fill="#111" stroke="#111" stroke-width="0.8"/><polygon points="12.25,0.30 14.00,-1.30 17.50,-1.30 19.25,0.30 17.50,1.90 14.00,1.90" fill="#111" stroke="#111" stroke-width="0.8"/><polygon points="12.25,3.50 14.00,1.90 17.50,1.90 19.25,3.50 17.50,5.10 14.00,5.10" fill="#111" stroke="#111" stroke-width="0.8"/><polygon points="-19.25,-1.60 -17.50,-3.20 -14.00,-3.20 -12.25,-1.60 -14.00,0.00 -17.50,0.00" fill="#949496" stroke="#3a3a3a" stroke-width="0.45"/><polygon points="-19.25,1.60 -17.50,0.00 -14.00,0.00 -12.25,1.60 -14.00,3.20 -17.50,3.20" fill="#949496" stroke="#3a3a3a" stroke-width="0.45"/><polygon points="-14.00,-3.20 -12.25,-4.80 -8.75,-4.80 -7.00,-3.20 -8.75,-1.60 -12.25,-1.60" fill="#949496" stroke="#3a3a3a" stroke-width="0.45"/><polygon points="-14.00,0.00 -12.25,-1.60 -8.75,-1.60 -7.00,0.00 -8.75,1.60 -12.25,1.60" fill="#949496" stroke="#3a3a3a" stroke-width="0.45"/><polygon points="-14.00,3.20 -12.25,1.60 -8.75,1.60 -7.00,3.20 -8.75,4.80 -12.25,4.80" fill="#949496" stroke="#3a3a3a" stroke-width="0.45"/><polygon points="-8.75,-1.60 -7.00,-3.20 -3.50,-3.20 -1.75,-1.60 -3.50,0.00 -7.00,0.00" fill="#949496" stroke="#3a3a3a" stroke-width="0.45"/><polygon points="-8.75,1.60 -7.00,0.00 -3.50,0.00 -1.75,1.60 -3.50,3.20 -7.00,3.20" fill="#949496" stroke="#3a3a3a" stroke-width="0.45"/><polygon points="-3.50,-3.20 -1.75,-4.80 1.75,-4.80 3.50,-3.20 1.75,-1.60 -1.75,-1.60" fill="#949496" stroke="#3a3a3a" stroke-width="0.45"/><polygon points="-3.50,0.00 -1.75,-1.60 1.75,-1.60 3.50,0.00 1.75,1.60 -1.75,1.60" fill="#949496" stroke="#3a3a3a" stroke-width="0.45"/><polygon points="-3.50,3.20 -1.75,1.60 1.75,1.60 3.50,3.20 1.75,4.80 -1.75,4.80" fill="#949496" stroke="#3a3a3a" stroke-width="0.45"/><polygon points="1.75,-1.60 3.50,-3.20 7.00,-3.20 8.75,-1.60 7.00,0.00 3.50,0.00" fill="#949496" stroke="#3a3a3a" stroke-width="0.45"/><polygon points="1.75,1.60 3.50,0.00 7.00,0.00 8.75,1.60 7.00,3.20 3.50,3.20" fill="#949496" stroke="#3a3a3a" stroke-width="0.45"/><polygon points="7.00,-3.20 8.75,-4.80 12.25,-4.80 14.00,-3.20 12.25,-1.60 8.75,-1.60" fill="#949496" stroke="#3a3a3a" stroke-width="0.45"/><polygon points="7.00,0.00 8.75,-1.60 12.25,-1.60 14.00,0.00 12.25,1.60 8.75,1.60" fill="#949496" stroke="#3a3a3a" stroke-width="0.45"/><polygon points="7.00,3.20 8.75,1.60 12.25,1.60 14.00,3.20 12.25,4.80 8.75,4.80" fill="#949496" stroke="#3a3a3a" stroke-width="0.45"/><polygon points="12.25,-1.60 14.00,-3.20 17.50,-3.20 19.25,-1.60 17.50,0.00 14.00,0.00" fill="#949496" stroke="#3a3a3a" stroke-width="0.45"/><polygon points="12.25,1.60 14.00,0.00 17.50,0.00 19.25,1.60 17.50,3.20 14.00,3.20" fill="#949496" stroke="#3a3a3a" stroke-width="0.45"/></g>
<g transform="translate(625.00,384.00) rotate(0)"><polygon points="-19.25,0.30 -17.50,-1.30 -14.00,-1.30 -12.25,0.30 -14.00,1.90 -17.50,1.90" fill="#111" stroke="#111" stroke-width="0.8"/><polygon points="-19.25,3.50 -17.50,1.90 -14.00,1.90 -12.25,3.50 -14.00,5.10 -17.50,5.10" fill="#111" stroke="#111" stroke-width="0.8"/><polygon points="-14.00,-1.30 -12.25,-2.90 -8.75,-2.90 -7.00,-1.30 -8.75,0.30 -12.25,0.30" fill="#111" stroke="#111" stroke-width="0.8"/><polygon points="-14.00,1.90 -12.25,0.30 -8.75,0.30 -7.00,1.90 -8.75,3.50 -12.25,3.50" fill="#111" stroke="#111" stroke-width="0.8"/><polygon points="-14.00,5.10 -12.25,3.50 -8.75,3.50 -7.00,5.10 -8.75,6.70 -12.25,6.70" fill="#111" stroke="#111" stroke-width="0.8"/><polygon points="-8.75,0.30 -7.00,-1.30 -3.50,-1.30 -1.75,0.30 -3.50,1.90 -7.00,1.90" fill="#111" stroke="#111" stroke-width="0.8"/><polygon points="-8.75,3.50 -7.00,1.90 -3.50,1.90 -1.75,3.50 -3.50,5.10 -7.00,5.10" fill="#111" stroke="#111" stroke-width="0.8"/><polygon points="-3.50,-1.30 -1.75,-2.90 1.75,-2.90 3.50,-1.30 1.75,0.30 -1.75,0.30" fill="#111" stroke="#111" stroke-width="0.8"/><polygon points="-3.50,1.90 -1.75,0.30 1.75,0.30 3.50,1.90 1.75,3.50 -1.75,3.50" fill="#111" stroke="#111" stroke-width="0.8"/><polygon points="-3.50,5.10 -1.75,3.50 1.75,3.50 3.50,5.10 1.75,6.70 -1.75,6.70" fill="#111" stroke="#111" stroke-width="0.8"/><polygon points="1.75,0.30 3.50,-1.30 7.00,-1.30 8.75,0.30 7.00,1.90 3.50,1.90" fill="#111" stroke="#111" stroke-width="0.8"/><polygon points="1.75,3.50 3.50,1.90 7.00,1.90 8.75,3.50 7.00,5.10 3.50,5.10" fill="#111" stroke="#111" stroke-width="0.8"/><polygon points="7.00,-1.30 8.75,-2.90 12.25,-2.90 14.00,-1.30 12.25,0.30 8.75,0.30" fill="#111" stroke="#111" stroke-width="0.8"/><polygon points="7.00,1.90 8.75,0.30 12.25,0.30 14.00,1.90 12.25,3.50 8.75,3.50" fill="#111" stroke="#111" stroke-width="0.8"/><polygon points="7.00,5.10 8.75,3.50 12.25,3.50 14.00,5.10 12.25,6.70 8.75,6.70" fill="#111" stroke="#111" stroke-width="0.8"/><polygon points="12.25,0.30 14.00,-1.30 17.50,-1.30 19.25,0.30 17.50,1.90 14.00,1.90" fill="#111" stroke="#111" stroke-width="0.8"/><polygon points="12.25,3.50 14.00,1.90 17.50,1.90 19.25,3.50 17.50,5.10 14.00,5.10" fill="#111" stroke="#111" stroke-width="0.8"/><polygon points="-19.25,-1.60 -17.50,-3.20 -14.00,-3.20 -12.25,-1.60 -14.00,0.00 -17.50,0.00" fill="#949496" stroke="#3a3a3a" stroke-width="0.45"/><polygon points="-19.25,1.60 -17.50,0.00 -14.00,0.00 -12.25,1.60 -14.00,3.20 -17.50,3.20" fill="#949496" stroke="#3a3a3a" stroke-width="0.45"/><polygon points="-14.00,-3.20 -12.25,-4.80 -8.75,-4.80 -7.00,-3.20 -8.75,-1.60 -12.25,-1.60" fill="#949496" stroke="#3a3a3a" stroke-width="0.45"/><polygon points="-14.00,0.00 -12.25,-1.60 -8.75,-1.60 -7.00,0.00 -8.75,1.60 -12.25,1.60" fill="#949496" stroke="#3a3a3a" stroke-width="0.45"/><polygon points="-14.00,3.20 -12.25,1.60 -8.75,1.60 -7.00,3.20 -8.75,4.80 -12.25,4.80" fill="#949496" stroke="#3a3a3a" stroke-width="0.45"/><polygon points="-8.75,-1.60 -7.00,-3.20 -3.50,-3.20 -1.75,-1.60 -3.50,0.00 -7.00,0.00" fill="#949496" stroke="#3a3a3a" stroke-width="0.45"/><polygon points="-8.75,1.60 -7.00,0.00 -3.50,0.00 -1.75,1.60 -3.50,3.20 -7.00,3.20" fill="#949496" stroke="#3a3a3a" stroke-width="0.45"/><polygon points="-3.50,-3.20 -1.75,-4.80 1.75,-4.80 3.50,-3.20 1.75,-1.60 -1.75,-1.60" fill="#949496" stroke="#3a3a3a" stroke-width="0.45"/><polygon points="-3.50,0.00 -1.75,-1.60 1.75,-1.60 3.50,0.00 1.75,1.60 -1.75,1.60" fill="#949496" stroke="#3a3a3a" stroke-width="0.45"/><polygon points="-3.50,3.20 -1.75,1.60 1.75,1.60 3.50,3.20 1.75,4.80 -1.75,4.80" fill="#949496" stroke="#3a3a3a" stroke-width="0.45"/><polygon points="1.75,-1.60 3.50,-3.20 7.00,-3.20 8.75,-1.60 7.00,0.00 3.50,0.00" fill="#949496" stroke="#3a3a3a" stroke-width="0.45"/><polygon points="1.75,1.60 3.50,0.00 7.00,0.00 8.75,1.60 7.00,3.20 3.50,3.20" fill="#949496" stroke="#3a3a3a" stroke-width="0.45"/><polygon points="7.00,-3.20 8.75,-4.80 12.25,-4.80 14.00,-3.20 12.25,-1.60 8.75,-1.60" fill="#949496" stroke="#3a3a3a" stroke-width="0.45"/><polygon points="7.00,0.00 8.75,-1.60 12.25,-1.60 14.00,0.00 12.25,1.60 8.75,1.60" fill="#949496" stroke="#3a3a3a" stroke-width="0.45"/><polygon points="7.00,3.20 8.75,1.60 12.25,1.60 14.00,3.20 12.25,4.80 8.75,4.80" fill="#949496" stroke="#3a3a3a" stroke-width="0.45"/><polygon points="12.25,-1.60 14.00,-3.20 17.50,-3.20 19.25,-1.60 17.50,0.00 14.00,0.00" fill="#949496" stroke="#3a3a3a" stroke-width="0.45"/><polygon points="12.25,1.60 14.00,0.00 17.50,0.00 19.25,1.60 17.50,3.20 14.00,3.20" fill="#949496" stroke="#3a3a3a" stroke-width="0.45"/></g>
<g transform="translate(620.00,406.50) rotate(0)"><polygon points="-19.25,0.30 -17.50,-1.30 -14.00,-1.30 -12.25,0.30 -14.00,1.90 -17.50,1.90" fill="#111" stroke="#111" stroke-width="0.8"/><polygon points="-19.25,3.50 -17.50,1.90 -14.00,1.90 -12.25,3.50 -14.00,5.10 -17.50,5.10" fill="#111" stroke="#111" stroke-width="0.8"/><polygon points="-14.00,-1.30 -12.25,-2.90 -8.75,-2.90 -7.00,-1.30 -8.75,0.30 -12.25,0.30" fill="#111" stroke="#111" stroke-width="0.8"/><polygon points="-14.00,1.90 -12.25,0.30 -8.75,0.30 -7.00,1.90 -8.75,3.50 -12.25,3.50" fill="#111" stroke="#111" stroke-width="0.8"/><polygon points="-14.00,5.10 -12.25,3.50 -8.75,3.50 -7.00,5.10 -8.75,6.70 -12.25,6.70" fill="#111" stroke="#111" stroke-width="0.8"/><polygon points="-8.75,0.30 -7.00,-1.30 -3.50,-1.30 -1.75,0.30 -3.50,1.90 -7.00,1.90" fill="#111" stroke="#111" stroke-width="0.8"/><polygon points="-8.75,3.50 -7.00,1.90 -3.50,1.90 -1.75,3.50 -3.50,5.10 -7.00,5.10" fill="#111" stroke="#111" stroke-width="0.8"/><polygon points="-3.50,-1.30 -1.75,-2.90 1.75,-2.90 3.50,-1.30 1.75,0.30 -1.75,0.30" fill="#111" stroke="#111" stroke-width="0.8"/><polygon points="-3.50,1.90 -1.75,0.30 1.75,0.30 3.50,1.90 1.75,3.50 -1.75,3.50" fill="#111" stroke="#111" stroke-width="0.8"/><polygon points="-3.50,5.10 -1.75,3.50 1.75,3.50 3.50,5.10 1.75,6.70 -1.75,6.70" fill="#111" stroke="#111" stroke-width="0.8"/><polygon points="1.75,0.30 3.50,-1.30 7.00,-1.30 8.75,0.30 7.00,1.90 3.50,1.90" fill="#111" stroke="#111" stroke-width="0.8"/><polygon points="1.75,3.50 3.50,1.90 7.00,1.90 8.75,3.50 7.00,5.10 3.50,5.10" fill="#111" stroke="#111" stroke-width="0.8"/><polygon points="7.00,-1.30 8.75,-2.90 12.25,-2.90 14.00,-1.30 12.25,0.30 8.75,0.30" fill="#111" stroke="#111" stroke-width="0.8"/><polygon points="7.00,1.90 8.75,0.30 12.25,0.30 14.00,1.90 12.25,3.50 8.75,3.50" fill="#111" stroke="#111" stroke-width="0.8"/><polygon points="7.00,5.10 8.75,3.50 12.25,3.50 14.00,5.10 12.25,6.70 8.75,6.70" fill="#111" stroke="#111" stroke-width="0.8"/><polygon points="12.25,0.30 14.00,-1.30 17.50,-1.30 19.25,0.30 17.50,1.90 14.00,1.90" fill="#111" stroke="#111" stroke-width="0.8"/><polygon points="12.25,3.50 14.00,1.90 17.50,1.90 19.25,3.50 17.50,5.10 14.00,5.10" fill="#111" stroke="#111" stroke-width="0.8"/><polygon points="-19.25,-1.60 -17.50,-3.20 -14.00,-3.20 -12.25,-1.60 -14.00,0.00 -17.50,0.00" fill="#949496" stroke="#3a3a3a" stroke-width="0.45"/><polygon points="-19.25,1.60 -17.50,0.00 -14.00,0.00 -12.25,1.60 -14.00,3.20 -17.50,3.20" fill="#949496" stroke="#3a3a3a" stroke-width="0.45"/><polygon points="-14.00,-3.20 -12.25,-4.80 -8.75,-4.80 -7.00,-3.20 -8.75,-1.60 -12.25,-1.60" fill="#949496" stroke="#3a3a3a" stroke-width="0.45"/><polygon points="-14.00,0.00 -12.25,-1.60 -8.75,-1.60 -7.00,0.00 -8.75,1.60 -12.25,1.60" fill="#949496" stroke="#3a3a3a" stroke-width="0.45"/><polygon points="-14.00,3.20 -12.25,1.60 -8.75,1.60 -7.00,3.20 -8.75,4.80 -12.25,4.80" fill="#949496" stroke="#3a3a3a" stroke-width="0.45"/><polygon points="-8.75,-1.60 -7.00,-3.20 -3.50,-3.20 -1.75,-1.60 -3.50,0.00 -7.00,0.00" fill="#949496" stroke="#3a3a3a" stroke-width="0.45"/><polygon points="-8.75,1.60 -7.00,0.00 -3.50,0.00 -1.75,1.60 -3.50,3.20 -7.00,3.20" fill="#949496" stroke="#3a3a3a" stroke-width="0.45"/><polygon points="-3.50,-3.20 -1.75,-4.80 1.75,-4.80 3.50,-3.20 1.75,-1.60 -1.75,-1.60" fill="#949496" stroke="#3a3a3a" stroke-width="0.45"/><polygon points="-3.50,0.00 -1.75,-1.60 1.75,-1.60 3.50,0.00 1.75,1.60 -1.75,1.60" fill="#949496" stroke="#3a3a3a" stroke-width="0.45"/><polygon points="-3.50,3.20 -1.75,1.60 1.75,1.60 3.50,3.20 1.75,4.80 -1.75,4.80" fill="#949496" stroke="#3a3a3a" stroke-width="0.45"/><polygon points="1.75,-1.60 3.50,-3.20 7.00,-3.20 8.75,-1.60 7.00,0.00 3.50,0.00" fill="#949496" stroke="#3a3a3a" stroke-width="0.45"/><polygon points="1.75,1.60 3.50,0.00 7.00,0.00 8.75,1.60 7.00,3.20 3.50,3.20" fill="#949496" stroke="#3a3a3a" stroke-width="0.45"/><polygon points="7.00,-3.20 8.75,-4.80 12.25,-4.80 14.00,-3.20 12.25,-1.60 8.75,-1.60" fill="#949496" stroke="#3a3a3a" stroke-width="0.45"/><polygon points="7.00,0.00 8.75,-1.60 12.25,-1.60 14.00,0.00 12.25,1.60 8.75,1.60" fill="#949496" stroke="#3a3a3a" stroke-width="0.45"/><polygon points="7.00,3.20 8.75,1.60 12.25,1.60 14.00,3.20 12.25,4.80 8.75,4.80" fill="#949496" stroke="#3a3a3a" stroke-width="0.45"/><polygon points="12.25,-1.60 14.00,-3.20 17.50,-3.20 19.25,-1.60 17.50,0.00 14.00,0.00" fill="#949496" stroke="#3a3a3a" stroke-width="0.45"/><polygon points="12.25,1.60 14.00,0.00 17.50,0.00 19.25,1.60 17.50,3.20 14.00,3.20" fill="#949496" stroke="#3a3a3a" stroke-width="0.45"/></g>
<g transform="translate(648.30,365.60) rotate(0)"><polygon points="-8.00,-5.00 -6.40,-7.00 -3.20,-7.00 -1.60,-5.00 -3.20,-3.00 -6.40,-3.00" fill="#666" stroke="#666" stroke-width="0.8"/><polygon points="-8.00,-1.00 -6.40,-3.00 -3.20,-3.00 -1.60,-1.00 -3.20,1.00 -6.40,1.00" fill="#666" stroke="#666" stroke-width="0.8"/><polygon points="-8.00,3.00 -6.40,1.00 -3.20,1.00 -1.60,3.00 -3.20,5.00 -6.40,5.00" fill="#666" stroke="#666" stroke-width="0.8"/><polygon points="-8.00,7.00 -6.40,5.00 -3.20,5.00 -1.60,7.00 -3.20,9.00 -6.40,9.00" fill="#666" stroke="#666" stroke-width="0.8"/><polygon points="-3.20,-3.00 -1.60,-5.00 1.60,-5.00 3.20,-3.00 1.60,-1.00 -1.60,-1.00" fill="#666" stroke="#666" stroke-width="0.8"/><polygon points="-3.20,1.00 -1.60,-1.00 1.60,-1.00 3.20,1.00 1.60,3.00 -1.60,3.00" fill="#666" stroke="#666" stroke-width="0.8"/><polygon points="-3.20,5.00 -1.60,3.00 1.60,3.00 3.20,5.00 1.60,7.00 -1.60,7.00" fill="#666" stroke="#666" stroke-width="0.8"/><polygon points="1.60,-5.00 3.20,-7.00 6.40,-7.00 8.00,-5.00 6.40,-3.00 3.20,-3.00" fill="#666" stroke="#666" stroke-width="0.8"/><polygon points="1.60,-1.00 3.20,-3.00 6.40,-3.00 8.00,-1.00 6.40,1.00 3.20,1.00" fill="#666" stroke="#666" stroke-width="0.8"/><polygon points="1.60,3.00 3.20,1.00 6.40,1.00 8.00,3.00 6.40,5.00 3.20,5.00" fill="#666" stroke="#666" stroke-width="0.8"/><polygon points="1.60,7.00 3.20,5.00 6.40,5.00 8.00,7.00 6.40,9.00 3.20,9.00" fill="#666" stroke="#666" stroke-width="0.8"/><polygon points="-8.00,-6.00 -6.40,-8.00 -3.20,-8.00 -1.60,-6.00 -3.20,-4.00 -6.40,-4.00" fill="#cdcdcf" stroke="#77777a" stroke-width="0.45"/><polygon points="-8.00,-2.00 -6.40,-4.00 -3.20,-4.00 -1.60,-2.00 -3.20,0.00 -6.40,0.00" fill="#cdcdcf" stroke="#77777a" stroke-width="0.45"/><polygon points="-8.00,2.00 -6.40,0.00 -3.20,0.00 -1.60,2.00 -3.20,4.00 -6.40,4.00" fill="#cdcdcf" stroke="#77777a" stroke-width="0.45"/><polygon points="-8.00,6.00 -6.40,4.00 -3.20,4.00 -1.60,6.00 -3.20,8.00 -6.40,8.00" fill="#cdcdcf" stroke="#77777a" stroke-width="0.45"/><polygon points="-3.20,-4.00 -1.60,-6.00 1.60,-6.00 3.20,-4.00 1.60,-2.00 -1.60,-2.00" fill="#cdcdcf" stroke="#77777a" stroke-width="0.45"/><polygon points="-3.20,0.00 -1.60,-2.00 1.60,-2.00 3.20,0.00 1.60,2.00 -1.60,2.00" fill="#cdcdcf" stroke="#77777a" stroke-width="0.45"/><polygon points="-3.20,4.00 -1.60,2.00 1.60,2.00 3.20,4.00 1.60,6.00 -1.60,6.00" fill="#cdcdcf" stroke="#77777a" stroke-width="0.45"/><polygon points="1.60,-6.00 3.20,-8.00 6.40,-8.00 8.00,-6.00 6.40,-4.00 3.20,-4.00" fill="#cdcdcf" stroke="#77777a" stroke-width="0.45"/><polygon points="1.60,-2.00 3.20,-4.00 6.40,-4.00 8.00,-2.00 6.40,0.00 3.20,0.00" fill="#cdcdcf" stroke="#77777a" stroke-width="0.45"/><polygon points="1.60,2.00 3.20,0.00 6.40,0.00 8.00,2.00 6.40,4.00 3.20,4.00" fill="#cdcdcf" stroke="#77777a" stroke-width="0.45"/><polygon points="1.60,6.00 3.20,4.00 6.40,4.00 8.00,6.00 6.40,8.00 3.20,8.00" fill="#cdcdcf" stroke="#77777a" stroke-width="0.45"/></g>
<g transform="translate(645.80,390.00) rotate(-60)"><polygon points="-12.80,1.00 -11.20,-1.00 -8.00,-1.00 -6.40,1.00 -8.00,3.00 -11.20,3.00" fill="#222" stroke="#222" stroke-width="0.8"/><polygon points="-8.00,-1.00 -6.40,-3.00 -3.20,-3.00 -1.60,-1.00 -3.20,1.00 -6.40,1.00" fill="#222" stroke="#222" stroke-width="0.8"/><polygon points="-8.00,3.00 -6.40,1.00 -3.20,1.00 -1.60,3.00 -3.20,5.00 -6.40,5.00" fill="#222" stroke="#222" stroke-width="0.8"/><polygon points="-3.20,-3.00 -1.60,-5.00 1.60,-5.00 3.20,-3.00 1.60,-1.00 -1.60,-1.00" fill="#222" stroke="#222" stroke-width="0.8"/><polygon points="-3.20,1.00 -1.60,-1.00 1.60,-1.00 3.20,1.00 1.60,3.00 -1.60,3.00" fill="#222" stroke="#222" stroke-width="0.8"/><polygon points="-3.20,5.00 -1.60,3.00 1.60,3.00 3.20,5.00 1.60,7.00 -1.60,7.00" fill="#222" stroke="#222" stroke-width="0.8"/><polygon points="1.60,-1.00 3.20,-3.00 6.40,-3.00 8.00,-1.00 6.40,1.00 3.20,1.00" fill="#222" stroke="#222" stroke-width="0.8"/><polygon points="1.60,3.00 3.20,1.00 6.40,1.00 8.00,3.00 6.40,5.00 3.20,5.00" fill="#222" stroke="#222" stroke-width="0.8"/><polygon points="6.40,1.00 8.00,-1.00 11.20,-1.00 12.80,1.00 11.20,3.00 8.00,3.00" fill="#222" stroke="#222" stroke-width="0.8"/><polygon points="-12.80,0.00 -11.20,-2.00 -8.00,-2.00 -6.40,0.00 -8.00,2.00 -11.20,2.00" fill="#8a8a8c" stroke="#333" stroke-width="0.45"/><polygon points="-8.00,-2.00 -6.40,-4.00 -3.20,-4.00 -1.60,-2.00 -3.20,0.00 -6.40,0.00" fill="#8a8a8c" stroke="#333" stroke-width="0.45"/><polygon points="-8.00,2.00 -6.40,0.00 -3.20,0.00 -1.60,2.00 -3.20,4.00 -6.40,4.00" fill="#8a8a8c" stroke="#333" stroke-width="0.45"/><polygon points="-3.20,-4.00 -1.60,-6.00 1.60,-6.00 3.20,-4.00 1.60,-2.00 -1.60,-2.00" fill="#8a8a8c" stroke="#333" stroke-width="0.45"/><polygon points="-3.20,0.00 -1.60,-2.00 1.60,-2.00 3.20,0.00 1.60,2.00 -1.60,2.00" fill="#8a8a8c" stroke="#333" stroke-width="0.45"/><polygon points="-3.20,4.00 -1.60,2.00 1.60,2.00 3.20,4.00 1.60,6.00 -1.60,6.00" fill="#8a8a8c" stroke="#333" stroke-width="0.45"/><polygon points="1.60,-2.00 3.20,-4.00 6.40,-4.00 8.00,-2.00 6.40,0.00 3.20,0.00" fill="#8a8a8c" stroke="#333" stroke-width="0.45"/><polygon points="1.60,2.00 3.20,0.00 6.40,0.00 8.00,2.00 6.40,4.00 3.20,4.00" fill="#8a8a8c" stroke="#333" stroke-width="0.45"/><polygon points="6.40,0.00 8.00,-2.00 11.20,-2.00 12.80,0.00 11.20,2.00 8.00,2.00" fill="#8a8a8c" stroke="#333" stroke-width="0.45"/></g>
<g transform="translate(639.50,415.60) rotate(0)"><polygon points="-12.80,1.00 -11.20,-0.90 -8.00,-0.90 -6.40,1.00 -8.00,2.90 -11.20,2.90" fill="#5e5e5e" stroke="#5e5e5e" stroke-width="0.8"/><polygon points="-8.00,-0.90 -6.40,-2.80 -3.20,-2.80 -1.60,-0.90 -3.20,1.00 -6.40,1.00" fill="#5e5e5e" stroke="#5e5e5e" stroke-width="0.8"/><polygon points="-8.00,2.90 -6.40,1.00 -3.20,1.00 -1.60,2.90 -3.20,4.80 -6.40,4.80" fill="#5e5e5e" stroke="#5e5e5e" stroke-width="0.8"/><polygon points="-3.20,-2.80 -1.60,-4.70 1.60,-4.70 3.20,-2.80 1.60,-0.90 -1.60,-0.90" fill="#5e5e5e" stroke="#5e5e5e" stroke-width="0.8"/><polygon points="-3.20,1.00 -1.60,-0.90 1.60,-0.90 3.20,1.00 1.60,2.90 -1.60,2.90" fill="#5e5e5e" stroke="#5e5e5e" stroke-width="0.8"/><polygon points="-3.20,4.80 -1.60,2.90 1.60,2.90 3.20,4.80 1.60,6.70 -1.60,6.70" fill="#5e5e5e" stroke="#5e5e5e" stroke-width="0.8"/><polygon points="1.60,-0.90 3.20,-2.80 6.40,-2.80 8.00,-0.90 6.40,1.00 3.20,1.00" fill="#5e5e5e" stroke="#5e5e5e" stroke-width="0.8"/><polygon points="1.60,2.90 3.20,1.00 6.40,1.00 8.00,2.90 6.40,4.80 3.20,4.80" fill="#5e5e5e" stroke="#5e5e5e" stroke-width="0.8"/><polygon points="6.40,1.00 8.00,-0.90 11.20,-0.90 12.80,1.00 11.20,2.90 8.00,2.90" fill="#5e5e5e" stroke="#5e5e5e" stroke-width="0.8"/><polygon points="-12.80,0.00 -11.20,-1.90 -8.00,-1.90 -6.40,0.00 -8.00,1.90 -11.20,1.90" fill="#c6c6c8" stroke="#707073" stroke-width="0.45"/><polygon points="-8.00,-1.90 -6.40,-3.80 -3.20,-3.80 -1.60,-1.90 -3.20,0.00 -6.40,0.00" fill="#c6c6c8" stroke="#707073" stroke-width="0.45"/><polygon points="-8.00,1.90 -6.40,0.00 -3.20,0.00 -1.60,1.90 -3.20,3.80 -6.40,3.80" fill="#c6c6c8" stroke="#707073" stroke-width="0.45"/><polygon points="-3.20,-3.80 -1.60,-5.70 1.60,-5.70 3.20,-3.80 1.60,-1.90 -1.60,-1.90" fill="#c6c6c8" stroke="#707073" stroke-width="0.45"/><polygon points="-3.20,0.00 -1.60,-1.90 1.60,-1.90 3.20,0.00 1.60,1.90 -1.60,1.90" fill="#c6c6c8" stroke="#707073" stroke-width="0.45"/><polygon points="-3.20,3.80 -1.60,1.90 1.60,1.90 3.20,3.80 1.60,5.70 -1.60,5.70" fill="#c6c6c8" stroke="#707073" stroke-width="0.45"/><polygon points="1.60,-1.90 3.20,-3.80 6.40,-3.80 8.00,-1.90 6.40,0.00 3.20,0.00" fill="#c6c6c8" stroke="#707073" stroke-width="0.45"/><polygon points="1.60,1.90 3.20,0.00 6.40,0.00 8.00,1.90 6.40,3.80 3.20,3.80" fill="#c6c6c8" stroke="#707073" stroke-width="0.45"/><polygon points="6.40,0.00 8.00,-1.90 11.20,-1.90 12.80,0.00 11.20,1.90 8.00,1.90" fill="#c6c6c8" stroke="#707073" stroke-width="0.45"/></g>
<circle cx="613.00" cy="360.00" r="1.9" fill="url(#yg)" stroke="#a8952c" stroke-width="0.6"/>
<circle cx="632.70" cy="362.00" r="1.9" fill="url(#yg)" stroke="#a8952c" stroke-width="0.6"/>
<circle cx="617.80" cy="375.80" r="1.9" fill="url(#yg)" stroke="#a8952c" stroke-width="0.6"/>
<circle cx="630.30" cy="374.50" r="1.9" fill="url(#yg)" stroke="#a8952c" stroke-width="0.6"/>
<circle cx="607.80" cy="391.00" r="1.9" fill="url(#yg)" stroke="#a8952c" stroke-width="0.6"/>
<circle cx="624.70" cy="392.30" r="1.9" fill="url(#yg)" stroke="#a8952c" stroke-width="0.6"/>
<circle cx="611.00" cy="406.50" r="1.9" fill="url(#yg)" stroke="#a8952c" stroke-width="0.6"/>
<circle cx="624.50" cy="406.80" r="1.9" fill="url(#yg)" stroke="#a8952c" stroke-width="0.6"/>
<circle cx="631.00" cy="405.00" r="1.9" fill="url(#yg)" stroke="#a8952c" stroke-width="0.6"/>
<circle cx="600.70" cy="365.00" r="1.0" fill="#e3cd5e" stroke="#c2a83a" stroke-width="0.3"/>
<circle cx="602.50" cy="380.20" r="1.0" fill="#e3cd5e" stroke="#c2a83a" stroke-width="0.3"/>
</svg></body></html>
